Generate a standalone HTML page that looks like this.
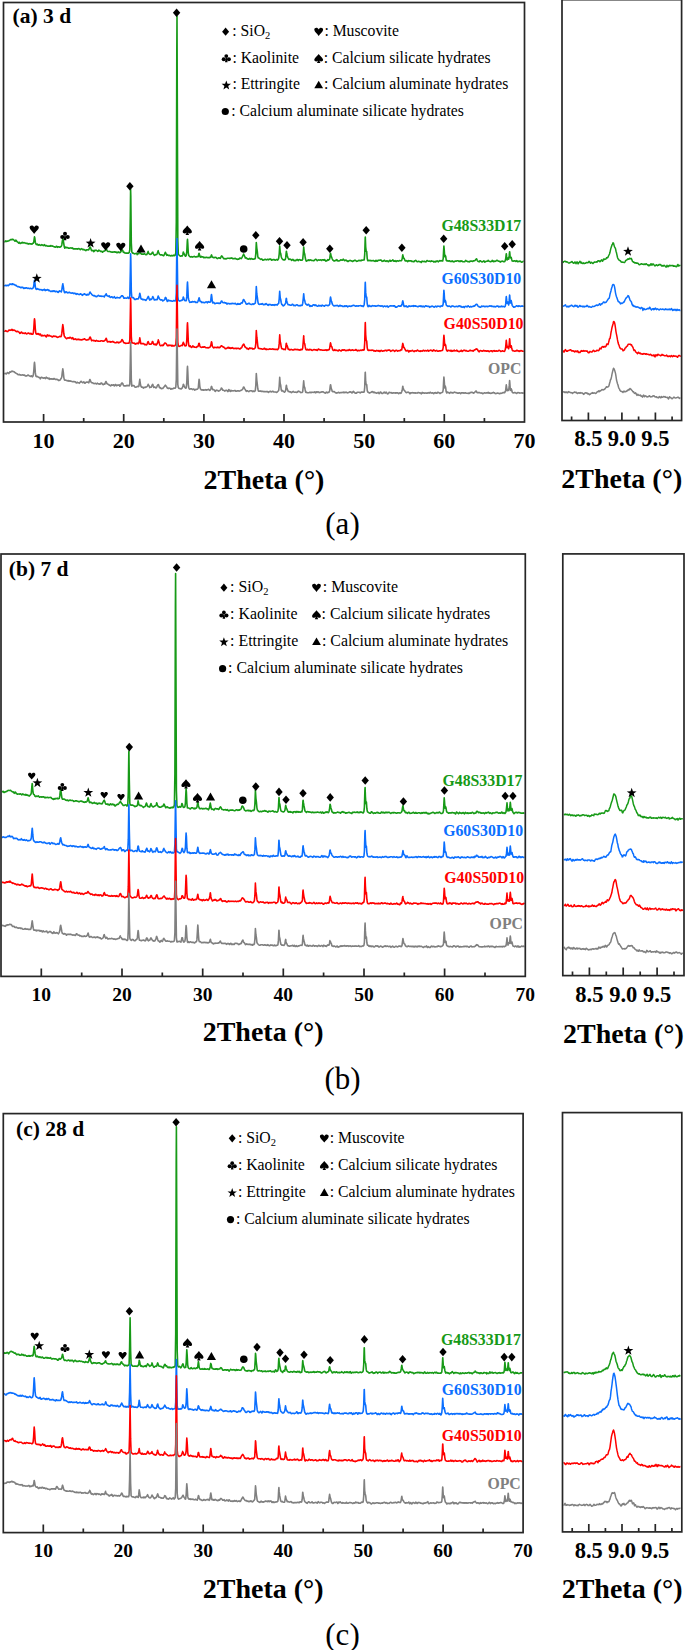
<!DOCTYPE html>
<html><head><meta charset="utf-8"><title>XRD patterns</title><style>html,body{margin:0;padding:0;background:#fff;}svg{display:block;}</style></head><body>
<svg width="685" height="1650" viewBox="0 0 685 1650" font-family='"Liberation Serif", "Times New Roman", serif'>
<rect width="685" height="1650" fill="#fff"/>
<path d="M4.3 241.5l.5 .2 .5-.4 .5-.4 .5 .5 .5 0 .5-.4 .5 .1 .5-.1 .5-.2 .5-.3 .5-.2 .5-.5 .5-.2 .5-.1 .5 .2 .5-.1 0-.2 .5-.1 .5 .3 .5 .4 .5 .4 .5 .8 .5 0 .5-1 .5 .3 .5 .9 .5 .4 .5 .4 .5 .4 .5 .5 .5-.8 .5 .3 .5 .9 .5-.2 .5-.2 .5-.5 .5-.3 .5 .6 .5 .1 .5-.4 .5 .2 .5 .2 .5 0 .5 .2 .5 .3 .5-.1 .5 0 .5 .4 .5 .3 .5-.3 .5-.2 .5 .3 .5 0 .5 .1 .5-.2 .5 .4 .5-.3 .5-.5 .5-.1 .5-1.5 .5-3.7 .2-1.2 .3 1.1 .5 4.2 .5 1.6 .5 .6 .5 .2 .5-.5 .5 .6 .5 .5 .5-.5 .5-.1 .5 .5 .5 .2 .5 .1 .5-.5 .5-.3 .5 .4 .5 .2 .5 .4 .5-.2 .5-.7 .5 .3 .5 .8 .5 .1 .5-.4 .5 .2 .5 .3 .5 .2 .5 .1 .5-.2 .5-.1 .5 .1 .5 .1 .5-.7 .5 .4 .5 .2 .5-.2 .5 .4 .5 0 .5 .4 .5 0 .5 .3 .5 .2 .5-.3 .5-.6 .5 .1 .5 .9 .5-.3 .5-.3 .5 .2 .5 .1 .5 .3 .5-.2 .5-.3 .5-.5 .5-1.4 .5-3.8 .5-2.3 0 .1 .5 1.4 .5 3.5 .5 3.1 .5 1.3 .5-.9 .5-.2 .5 .6 .5-.2 .5 .1 .5 .2 .5 .3 .5-.1 .5 .2 .5-.1 .5-.2 .5 .1 .5 0 .5 .2 .5-.3 .5 .3 .5 .8 .5-.2 .5-.1 .5 .2 .5-.2 .5 0 .5 .3 .5-.1 .5-.2 .5 .4 .5-.3 .5-.2 .5 .1 .5 .5 .5 .5 .5-.6 .5-.1 .5-.3 .5 .6 .5 .5 .5-.3 .5-.1 .5 .4 .5 .3 .5 .2 .5 .3 .5-.5 .5-.4 .5 .1 .5 .1 .5 0 .5-.2 .5-1 .5-1.6 .3 .2 .2-.1 .5 1.2 .5 1.6 .5 .8 .5-.1 .5-.3 .5 .1 .5 1.1 .5-.5 .5-.9 .5 .1 .5 .2 .5-.2 .5 .3 .5 .3 .5 .5 .5-.3 .5-.9 .5 .3 .5 .1 .5 .8 .5 0 .5-.1 .5-.1 .5 .9 .5 0 .5-.8 .5 0 .5-.2 .5-.2 .5-.8 .5-.7 .3-.9 .2 .2 .5 1.5 .5 .8 .5 .4 .5 .1 .5 0 .5-.1 .5 .2 .5 .2 .5 .1 .5 .1 .5 .1 .5 .2 .5-.2 .5 0 .5-.2 .5 0 .5 0 .5 .4 .5-.3 .5 .1 .5 .5 .5 .1 .5-.5 .5-.3 .5 .6 .5 .1 .5-.4 .5 .3 .5-.7 .5-1 .5-.7 .3-.2 .2-.1 .5 .8 .5 1.7 .5 .1 .5-.1 .5 .7 .5 0 .5 .1 .5-.1 .5 .1 .5 .1 .5-.2 .5 .2 .5-.3 .5-.5 .5-2.7 .5-33.4 .3-26.9 .2 6.3 .5 47 .5 9.2 .5 .7 .5 .5 .5 0 .5 .4 .5 .3 .5 .1 .5-.4 .5 0 .5 .1 .5-.2 .5 1.2 .5-.7 .5-.3 .5 .1 .5-2 .5-2.1 0 .6 .5 2.1 .5 1.3 .5 .3 .5 .3 .5-.2 .5 .3 .5 0 .5-.4 .5-.2 .5 .3 .5 .2 .5 .5 .5-.1 .5-.1 .5-.8 .5-1.4 .4-.9 .1 .6 .5 1.5 .5 .5 .5 .2 .5 .2 .5-.1 .5-.3 .5-.5 .5-1.2 .3 0 .2-.1 .5 1.3 .5 1.2 .5 .2 .5 .4 .5-.6 .5-.2 .5 .1 .5-.2 .5-1.2 .5-1.5 .4-1 .1 .8 .5 1.2 .5 1.2 .5 .6 .5 .4 .5 .1 .5-.3 .5 .1 .5 .3 .5 .1 .5 .5 .5-.1 .5-.9 .5-1.2 .5-1.2 .1 .3 .4 .4 .5 1.4 .5 .9 .5-.6 .5 .5 .5 .1 .5 .3 .5-.4 .5 .2 .5 .4 .5 .2 .5-.3 .5-.3 .5 .1 .5 .4 .5-.4 .5-.4 .5 .5 .5-.1 .5-.6 .5-2.1 .5-30.4 .5-171.4 .2-34.8 .3 85.3 .5 138 .5 14.5 .5 .7 .5 .6 .5 .5 .5 .5 .5-.1 .5-.5 .5 .3 .5 0 .5-1.3 .5-2.7 .1 0 .4 1.1 .5 1 .5 1 .5 1 .5 .1 .5-1 .5-3.9 .5-10.3 .2-1.6 .3 4.2 .5 9.6 .5 2.3 .5 .6 .5 .4 .5 .5 .5-.1 .5-.3 .5 .4 .5 .1 .5-.3 .5-.1 .5-.1 .5-.3 .5 .5 .5 .1 .5-.1 .5 .2 .5-.5 .5 0 .5 .3 .5-.2 .5-2.9 .3-.4 .2 .7 .5 2.2 .5 1 .5-.6 .5-.3 .5 .8 .5-.2 .5 0 .5 .1 .5 .7 .5 0 .5-.4 .5 .3 .5-.1 .5-.1 .5 0 .5 .1 .5 .2 .5-.1 .5-.1 .5 .3 .5-.4 .5 .1 .5-.4 .5-1.5 .2-.7 .3 .8 .5 1.4 .5 .3 .5 0 .5 .4 .5-.1 .5-.5 .5 0 .5 .2 .5 .2 .5 .7 .5 .3 .5-.2 .5-.3 .5-.3 .5 .1 .5 .4 .5 .1 .5-1 .5-1.2 .2-.2 .3-.1 .5 .6 .5 .9 .5 .7 .5 .6 .5-.2 .5 .3 .5 .2 .5-.4 .5 .3 .5-.3 .5-.4 .5 .1 .5 0 .5-.1 .5 0 .5 .2 .5 0 .5-.3 .5 0 .5-.2 .5 .5 .5 .3 .5-.1 .5 .1 .5 0 .5-.4 .5 .1 .5 .4 .5 .2 .5 .1 .5 .4 .5-.5 .5 .1 .5 0 .5-.5 .5-.5 .5-.1 .5 .5 .5 .1 .5-.7 .5-1 .5-1.1 .5-.9 .3-.8 .2 .6 .5 .8 .5 1 .5 1.6 .5-.3 .5 0 .5 .5 .5 .6 .5-.2 .5 .4 .5 .1 .5-.3 .5-.5 .5 .4 .5 .5 .5-.7 .5-.1 .5 .4 .5 .4 .5-.1 .5-.1 .5-.4 .5 .3 .5-.7 .5-4.7 .5-10.9 0-.1 .5 5.4 .5 3.4 .5 5.1 .5 1.4 .5-.1 .5 .5 .5 .4 .5 .3 .5 .4 .5-.1 .5-.4 .5 .7 .5 .6 .5-.1 .5-.2 .4-.3 .5 0 .5-.3 .5 .3 .5 0 .5 .3 .5-.3 .5-.4 .5 .3 .5 .3 .5-.6 .5-.1 .5-.1 .5 0 .5 .9 .5 .3 .5-.2 .5-.2 .5-.2 .5 0 .5-.1 .5 .5 .5 .2 .5-.2 .5-.5 .5 0 .5 .2 .5 .4 .5-.7 .5-1.3 .5-4.1 .5-7.7 0-.2 .5 6.3 .5 1.1 .5 3 .5 1.6 .5 .7 .5 .6 .5 .4 .5 .1 .5-.2 .5 .2 .5-.5 .5-1.7 .5-5.2 .2-1.3 .3 2.1 .5 2.1 .5 1.9 .5 .9 .5 1 .5 .3 .5-.4 .5 0 .5 .4 .5 .3 .5 .6 .5-.3 .5-.7 .5 .2 .5 .8 .5 .4 .5-.4 .5 0 .5 .3 .5-.5 .5-.4 .5-.4 .5 .6 .5 .6 .5-.8 .5-.1 .5-.1 .5 .4 .5 .3 .5-.2 .5 .1 .5-.1 .5-.8 .5-5 .5-6.9 0-.4 .5 5.5 .5 1.4 .5 3.6 .5 2.2 .5 1.4 .5-.1 .5-.8 .5 0 .5 .3 .5-.8 .5 .2 .5 .5 .5-.4 .5-.1 .5 .3 .5 .3 .5 0 .5 0 .5 .1 .5-.1 .5 .1 .5-.6 .5-.5 .5-.2 .5 .2 .5 .6 .5 .6 .5-.2 .5-.4 .5-.2 .5 .1 .5 .1 .5-.1 .5-.2 .5 .4 .5 .3 .5-.8 .5 .1 .5-.1 .5 .5 .5-.2 .5-.4 .5 .9 .5 .6 .5-.3 .5 .1 .5-.6 .5-.6 .5 .5 .5-.2 .5-.4 .5-.6 .5-3.8 .3-1.9 .2 .7 .5 2.4 .5 1 .5 1.4 .5 1.2 .5 .2 .5 .7 .5 0 .5 .1 .5-.6 .5 0 .5 .1 .5-.9 .5 .4 .5 .9 .5 .1 .5 0 .5-.3 .5 0 .5-.4 .5-.4 .5-.1 .5 .4 .5 .1 .5-.4 .5-.8 .5 .4 .5 .8 .5 .4 .5-.3 .5-.4 .5 0 .5 1 .5-.2 .5 .6 .5 .1 .5-.6 .5-.3 .5 0 .5-.2 .5 .3 .5 .1 .5 .3 .5 .3 .5 0 .5-.5 .5 .1 .5-.5 .5-.2 .5 0 .5 .2 .5 .6 .5 .3 .5-.1 .5-.3 .5-.2 .5-.3 .5-.2 .5 .5 .5 0 .5-.4 .5 .2 .5-.5 .5 .2 .5 0 .5-.2 .5-.2 .5 0 .5-5.2 .5-16.3 .1-1.3 .4 10 .5 4.2 .5 .2 .5 6.8 .5 2.3 .5 .1 .5-.3 .5 .1 .5 .1 .5-.3 .5 .4 .5 .2 .5-.3 .5 .1 .5 .1 .5-.3 .5 .1 .5 .5 .5 .2 .5 .1 .5-.9 .5-.2 .5 .9 .5 .1 .5-.7 .5-.3 .5 .2 .5-.2 .5 0 .5-.2 .5 .2 .5-.2 .5 .7 .5 .6 .5-.3 .5 0 .5-.4 .5-.3 .5 0 .5 .8 .5 .1 .5 .1 .5-.7 .5 .1 .5 .4 .5 .5 .5 0 .5-.9 .5-.5 .5 .1 .5 .9 .5-.2 .5-.3 .5-.2 .5-.7 .5 .3 .5 1 .5 .1 .5-.3 .5-.3 .5 .6 .5 .3 .5-.8 .5 0 .5 .1 .5 .2 .5-.1 .5-.2 .5-.2 .5 .2 .5-.1 .5 0 .5-.3 .5-1.8 .5-3.6 .1-.1 .4 1.9 .5 1.4 .5 .2 .5 1.5 .5 .9 .5 .2 .5-.1 .5-.3 .5 .6 .5 .4 .5-.4 .5-.6 .5 .3 .5-.1 .5 .1 .5 .1 .5-.2 .5 .6 .5-.1 .5 .2 .5 .1 .5 .2 .5-.3 .5-.8 .5 0 .5-.4 .5 .5 .5 .6 .5 .3 .5 0 .5-.5 .5 0 .5 .2 .5 .4 .5 0 .5-.1 .5 .8 .5-.9 .5-.5 .5 .3 .5 .2 .5-.2 .5-.2 .5 .4 .5 0 .5 .3 .5-.2 .5-.9 .5-.2 .5 .1 .5 .5 .5 .1 .5-.1 .5-.2 .5 .4 .5 .2 .5-.7 .5 .1 .5 .2 .5 0 .5 .1 .5 .7 .5 0 .5-.4 .5-.3 .5 .7 .5-.5 .5-.5 .5-.1 .5 .3 .5 .7 .5-.4 .5-.5 .5-.5 .5 .5 .5-.3 .5-.1 .5 .4 .5-.3 .5 .2 .5-2.3 .5-9.9 .2-2.7 .3 3.2 .5 7.5 .5-1.4 .5 1 .5 3.9 .5 .6 .5-.3 .5 .5 .5 .2 .5-.4 .5 .1 .5 0 .5 .6 .5-.1 .5-.2 .5 .2 .5-.5 .5 .3 .5 .7 .5-.3 .5 .2 .5-.4 .5-.4 .5 .1 .5 .1 .5-.2 .5-.2 .5-.1 .5 0 .5 .5 .5 .3 .5-.1 .5-.6 .5 .6 .5-.2 .5-.4 .5 .4 .5 .5 .5 0 .5 0 .5 .1 .5-.1 .5-.6 .5-.7 .5 .4 .5 .5 .5 0 .5 .3 .5 .1 .5-.1 .5 .3 .5-.6 .5 .2 .5-.4 .5-.1 .5 .3 .5-.1 .5 .2 .5-.5 .5 .1 .5-.2 .5-.1 .5-.5 .5-.7 .5-.2 .2-.5 .3 .2 .5 1.3 .5 .8 .5 .3 .5 .2 .5 .3 .5-.9 .5-.3 .5 .3 .5 .5 .5 .2 .5 .2 .5-.1 .5-.5 .5-.4 .5 .2 .5 1 .5-.1 .5-.4 .5-.3 .5-.1 .5 0 .5-.3 .5-.5 .5 .6 .5 .2 .5 .2 .5 .2 .5 .1 .5-.2 .5-.2 .5-.9 .5 .5 .5 .8 .5-.6 .5 .1 .5 .3 .5-.3 .5 .1 .5-.6 .5-.4 .5 .1 .5 .2 .5 .5 .5 .2 .5 0 .5 0 .5 .8 .5-.5 .5-.2 .5 .1 .5-.3 .5-.1 .5 .3 .5 .3 .5 0 .5-.2 .5-.8 .5-1.9 .5-4.4 .1-.7 .4 3.2 .5 3.1 .5-1.4 .5-.7 .5 1.2 .5-3.4 .4-3.8 .1 0 .5 5.7 .5 .4 .5-.6 .5 2.1 .5 1.4 .5 0 .5 .4 .5-.4 .5-.2 .5 0 .5 .2 .5 .5 .5 0 .5-.8 .5 .4 .5 .7 .5-.1 .5-.2 .5-.4 .5 .4 .5-.4 .5 .4 .5 .7 .5 .2 .5-.4 .5-.2 .5-.5 .5 0" fill="none" stroke="#179a17" stroke-width="1.6" stroke-linejoin="round"/>
<path d="M4.3 286.1l.5-.3 .5-.3 .5-.3 .5 .4 .5 .1 .5-.5 .5 .1 .5 .4 .5-.4 .5-.7 .5-.5 .5-.1 .5 .2 .5 .3 .5-.3 .5 .3 0-.7 .5 .1 .5 .6 .5-.1 .5 .1 .5 .5 .5 .4 .5-.3 .5 .6 .5 .4 .5 .3 .5 .3 .5-.1 .5 .1 .5 .4 .5 .2 .5 .1 .5 .3 .5-.4 .5 .3 .5-.3 .5 .1 .5 .5 .5 .6 .5-.3 .5-.3 .5 .3 .5-.3 .5-.2 .5 .4 .5 .2 .5 .1 .5-.3 .5 .3 .5 .2 .5-.1 .5-.2 .5 0 .5 .4 .5 0 .5-.1 .5-.3 .5-.5 .5-2.5 .5-4.4 .2-.7 .3 1.4 .5 5 .5 2.1 .5 .6 .5-.4 .5-.3 .5 .6 .5 0 .5-.1 .5 .5 .5 .1 .5 0 .5-.1 .5 .2 .5 .3 .5 .3 .5-.5 .5 0 .5 0 .5-.6 .5 .3 .5 1 .5-.7 .5 .3 .5-.2 .5-.2 .5-.2 .5 .5 .5 .5 .5-.3 .5 .5 .5 .4 .5 .3 .5-.4 .5 .4 .5-.1 .5-.5 .5-.2 .5 .7 .5-.5 .5 .2 .5 .6 .5 .1 .5-.5 .5 .1 .5 .2 .5 .7 .5 .2 .5-1.1 .5 .1 .5-.7 .5 .5 .5 .2 .5 .4 .5-1.8 .5-3.7 .5-2.5 0 .1 .5 2.4 .5 3.5 .5 2.1 .5 .8 .5-.2 .5-.8 .5-.1 .5 .5 .5 .7 .5-.3 .5-.1 .5 .1 .5-.3 .5 .1 .5 .6 .5 0 .5 0 .5 .2 .5-.2 .5-.1 .5 .3 .5 .4 .5-.2 .5-.3 .5 .3 .5 .6 .5 .3 .5-.7 .5 .1 .5 .2 .5 .3 .5 .2 .5 .2 .5-.3 .5-.4 .5 0 .5 .4 .5 .4 .5 .7 .5-.3 .5-.9 .5 .1 .5-.4 .5 0 .5 .8 .5 .1 .5-.2 .5 .5 .5-.6 .5-.2 .5 .6 .5-.3 .5-1 .5-1.2 .3-.3 .2 .2 .5 1 .5 .5 .5 .6 .5 .8 .5 0 .5 .4 .5 .3 .5-.4 .5 .3 .5 .6 .5-.1 .5 .3 .5 0 .5-.4 .5-.4 .5-.4 .5 .1 .5 .5 .5 .2 .5-.1 .5 .2 .5-.2 .5 .4 .5-.2 .5-.1 .5 0 .5 .3 .5 .4 .5-1.1 .5-.5 .5-.8 .3-.6 .2 0 .5 1.6 .5 .3 .5 .2 .5 .5 .5-.5 .5-.1 .5 1.1 .5 .4 .5-.1 .5-.4 .5 0 .5 .1 .5 .7 .5 .1 .5-.5 .5-.6 .5 .8 .5 .6 .5 0 .5-.3 .5-.3 .5-.1 .5 .3 .5 .1 .5-.1 .5 0 .5 .3 .5-.8 .5-.4 .5-.7 .5-.4 .3 0 .2 0 .5 .4 .5 .7 .5 1.4 .5 .1 .5-.3 .5 0 .5 0 .5 .3 .5 0 .5-.5 .5-.6 .5 .7 .5 .5 .5-.2 .5-2.3 .5-23.4 .3-18.6 .2 4.3 .5 33 .5 6 .5 .3 .5 .2 .5-.2 .5 .7 .5 1 .5 .2 .5-.2 .5 .3 .5-.4 .5-.3 .5 .1 .5 0 .5 0 .5-1 .5-2 .5-2.7 0 0 .5 2.3 .5 2.6 .5 1 .5 .2 .5-.2 .5 .7 .5-.2 .5-.2 .5 .4 .5-.1 .5 .4 .5 .4 .5-.6 .5-.8 .5-.7 .5-.9 .4-.8 .1-.3 .5 1.2 .5 1.8 .5 .7 .5-1.1 .5 .5 .5 0 .5-.6 .5-1.2 .3-.8 .2-.4 .5 1 .5 1.2 .5 1.3 .5-.1 .5-.2 .5-.1 .5-.1 .5 .3 .5-.3 .5-2 .4-1.5 .1 .5 .5 .9 .5 1 .5 .8 .5 .5 .5 .3 .5-.2 .5-.1 .5 .6 .5 .7 .5-.6 .5-.2 .5-.3 .5-.6 .5-1.8 .1 .2 .4-.1 .5 1.1 .5 1.6 .5 1.2 .5-1 .5-.4 .5 .8 .5-.3 .5 0 .5 .2 .5 .1 .5 0 .5 .2 .5 .1 .5 .1 .5-.5 .5-.3 .5 0 .5 .5 .5-.1 .5-.3 .5-7.8 .5-44.7 .2-9.5 .3 22.2 .5 35.5 .5 3.7 .5 .6 .5 .1 .5 .4 .5-.3 .5 0 .5-.6 .5 .2 .5-.1 .5-1.4 .5-1.9 .1 .4 .4 1 .5 1.6 .5 .6 .5 0 .5 0 .5 0 .5-4.2 .5-12 .2-2.3 .3 5.3 .5 10.4 .5 2.1 .5 1.4 .5 1.1 .5-.1 .5-.2 .5 0 .5 .1 .5-.6 .5-.1 .5 .4 .5-.1 .5 0 .5-.3 .5 .7 .5 .3 .5-.3 .5 .1 .5 .2 .5-.9 .5-1 .5-2 .3-.8 .2 .4 .5 2.5 .5 .9 .5-.2 .5 .3 .5 .9 .5-.2 .5-.1 .5 .1 .5 .1 .5 .3 .5-.1 .5-.5 .5-.2 .5-.1 .5 .2 .5 .7 .5-.6 .5-.6 .5 .3 .5 .3 .5 .1 .5-.4 .5-1.7 .5-4.8 .2-.9 .3 2 .5 5.2 .5 1.2 .5-.6 .5 .1 .5 .7 .5 .6 .5-.2 .5-.1 .5-.3 .5 .1 .5 0 .5-.2 .5 .3 .5 .1 .5-.2 .5 .2 .5-.1 .5-1.1 .5-.9 .2-.3 .3 0 .5 .9 .5 .6 .5 .2 .5-.1 .5-.2 .5 .4 .5 .3 .5-.3 .5 .3 .5 .9 .5-.1 .5-.6 .5 .2 .5 0 .5 .4 .5-.4 .5 .1 .5 .3 .5-.4 .5 .3 .5-.4 .5 .1 .5 0 .5 .1 .5 .1 .5-.2 .5-.1 .5 .5 .5 .3 .5 .2 .5-.2 .5-.7 .5 .7 .5 .1 .5-.5 .5 .4 .5 0 .5-.8 .5-.7 .5 .1 .5 .2 .5-1.8 .5-1.5 .3-.1 .2 0 .5 .9 .5 1 .5 .4 .5 1.4 .5 .9 .5-.3 .5 0 .5 .2 .5-.6 .5-.2 .5 .1 .5 .5 .5 .3 .5 0 .5 .2 .5 .1 .5-.2 .5-.5 .5 .2 .5 .3 .5-.6 .5-.2 .5-.4 .5-4.3 .5-12.1 0-.2 .5 7.5 .5 3.1 .5 4 .5 2.5 .5 .6 .5 0 .5 .2 .5-.3 .5 0 .5 .2 .5-.3 .5-.5 .5 .7 .5 .4 .5 0 .4-.3 .5 .3 .5-.1 .5-.8 .5-.1 .5 .8 .5 0 .5 .7 .5 .3 .5-.8 .5-.3 .5 .4 .5 .1 .5-.3 .5 .6 .5 .2 .5-.3 .5-.3 .5 .4 .5-.1 .5-.3 .5 .6 .5-.4 .5-.1 .5-.2 .5 .3 .5 .2 .5-.8 .5-.6 .5-.3 .5-4.6 .5-7.6 0 .3 .5 6.3 .5 1.7 .5 3 .5 1.8 .5 .4 .5 .8 .5 .4 .5-.5 .5 0 .5-.8 .5-.7 .5-1.2 .5-4.2 .2-.1 .3 2.5 .5 1.7 .5 1.3 .5 .9 .5-.1 .5 0 .5 .3 .5 .1 .5 .1 .5 0 .5-.3 .5-.6 .5 .1 .5 .5 .5 .7 .5-.3 .5 .2 .5 .3 .5-.4 .5-.4 .5-.1 .5-.1 .5 .5 .5 .4 .5-.1 .5 0 .5 .2 .5 .1 .5-.7 .5 0 .5 .3 .5-.3 .5-1.8 .5-4.2 .5-5.3 0 0 .5 5.4 .5 1.1 .5 2.3 .5 1.2 .5 .4 .5 .4 .5 .5 .5-.5 .5-.4 .5 .2 .5 .7 .5 1 .5 .2 .5-.8 .5 .3 .5 .3 .5-.1 .5-.7 .5-.5 .5 0 .5-.1 .5 .6 .5 .2 .5-.7 .5 .4 .5 .5 .5 .4 .5 .1 .5-.4 .5-.6 .5 .2 .5 .4 .5-.4 .5 .2 .5 .4 .5-.5 .5-.5 .5 .3 .5 .3 .5 0 .5 .4 .5 0 .5-.7 .5-.1 .5 0 .5-.1 .5 .3 .5 .1 .5 .1 .5-.5 .5-.2 .5-.7 .5-5.1 .3-2.1 .2 .6 .5 3.1 .5 .9 .5 2 .5 1.1 .5 .5 .5 .4 .5 .3 .5-.2 .5-.3 .5 .2 .5 0 .5-.2 .5-.3 .5 .5 .5 .3 .5 .4 .5-.3 .5-.8 .5 0 .5 .6 .5-.2 .5 .2 .5 .1 .5 .5 .5-.2 .5 .2 .5-.1 .5-.6 .5 0 .5 .5 .5-.4 .5-.2 .5 .8 .5 .4 .5-.6 .5 0 .5-.2 .5 .2 .5-.2 .5 .3 .5-.2 .5-.3 .5 0 .5-.3 .5-.3 .5 .1 .5 .2 .5 0 .5 .4 .5 .2 .5-.1 .5-.3 .5 .1 .5 .2 .5 .2 .5-.5 .5-.1 .5 .1 .5 0 .5-.2 .5 .1 .5 .4 .5-.3 .5 .5 .5 .3 .5-.7 .5-1.5 .5-4.8 .5-16.2 .1-1.1 .4 10.1 .5 4.5 .5 .1 .5 6.7 .5 2.4 .5 .6 .5-.9 .5-.4 .5 .8 .5 .2 .5-.3 .5 .4 .5-.2 .5-.7 .5 .1 .5 .1 .5 .2 .5 0 .5-.2 .5 .2 .5 .3 .5-.2 .5-.1 .5-.1 .5-.1 .5-.4 .5 .4 .5 0 .5 .1 .5-.2 .5 .6 .5-.1 .5-.5 .5 .3 .5 .1 .5 .7 .5-.4 .5-.4 .5 .1 .5 .2 .5 .3 .5-.1 .5-.2 .5-.4 .5 .7 .5 .5 .5-.4 .5-.4 .5-.2 .5-.2 .5 .1 .5-.2 .5 .2 .5 0 .5-.1 .5 .2 .5-.4 .5 .2 .5 0 .5 1 .5 .3 .5-.2 .5 .1 .5-.4 .5-.3 .5-.4 .5-.2 .5 .3 .5-.1 .5 0 .5 .3 .5-.4 .5-.9 .5-1.5 .5-2.5 .1-.1 .4 1.5 .5 3.3 .5 .9 .5-.6 .5 .3 .5 .1 .5-.5 .5 .4 .5 .6 .5 0 .5-.1 .5-.8 .5-.1 .5 .4 .5 .1 .5-.1 .5-.2 .5-.1 .5 .1 .5-.1 .5-.5 .5 1 .5-.4 .5-.3 .5 .4 .5-.3 .5 .3 .5 .1 .5 .3 .5 .2 .5 0 .5-.5 .5-.2 .5 0 .5-.2 .5 .5 .5-.1 .5-.3 .5 .8 .5 0 .5-.7 .5 .4 .5 .4 .5-.2 .5-.8 .5-.2 .5 .4 .5 0 .5 .2 .5 .1 .5 0 .5-.2 .5 .4 .5 .8 .5-.7 .5-.1 .5 0 .5-.3 .5-.2 .5 .3 .5 .1 .5 .4 .5 .3 .5-.5 .5-.2 .5-.4 .5 .3 .5 .5 .5-.5 .5-.3 .5 .2 .5-.1 .5 0 .5 .2 .5 .4 .5-.7 .5-.2 .5 .1 .5 .3 .5-.5 .5-2.1 .5-9.9 .2-3.4 .3 3.4 .5 8.2 .5-1.7 .5 1.2 .5 3.3 .5 .8 .5 .1 .5 .7 .5 0 .5-.3 .5 0 .5 .2 .5 .2 .5 .5 .5-.2 .5-.7 .5-.2 .5 .2 .5-.1 .5 .4 .5 .2 .5 .1 .5-.1 .5-.1 .5 0 .5-.3 .5 .2 .5 .3 .5-.2 .5-.6 .5-.2 .5 .2 .5 .8 .5-.6 .5 .3 .5 .8 .5 0 .5-.2 .5-.5 .5 .5 .5 .6 .5-.8 .5-.3 .5-.1 .5 0 .5 .3 .5 .2 .5-.8 .5-.3 .5 .5 .5 .4 .5 .4 .5-.3 .5-.4 .5 .3 .5 .2 .5-.3 .5-.2 .5 .1 .5-.4 .5-.4 .5 .4 .5-.8 .5-.6 .5-.4 .2 0 .3 0 .5 .3 .5 1.1 .5 .5 .5 .2 .5 .5 .5 .2 .5 .2 .5 0 .5-.7 .5-.6 .5 .3 .5 .2 .5-.1 .5-.3 .5 .1 .5 .6 .5 0 .5-.5 .5 .2 .5-.1 .5 0 .5 .3 .5-.2 .5-.2 .5-.1 .5-.5 .5 .3 .5 .1 .5-.2 .5 .5 .5 .1 .5-.2 .5 .1 .5 .4 .5 0 .5-.4 .5 .2 .5 .3 .5-.4 .5-.4 .5 0 .5 0 .5 .2 .5 .7 .5-.5 .5 .1 .5 0 .5 .1 .5-.5 .5-.1 .5 .7 .5-.2 .5-.2 .5 .2 .5 .3 .5-.2 .5-.3 .5-2.5 .5-6.7 .1-.6 .4 3.6 .5 3.2 .5-1.3 .5 .4 .5 2.5 .5-4.6 .4-5.3 .1 .2 .5 7.6 .5 0 .5-2.3 .5 2.5 .5 2.2 .5 .9 .5 .4 .5 .6 .5-.1 .5-.1 .5-.3 .5-.3 .5-.4 .5-.3 .5 .2 .5 .4 .5 .2 .5-.7 .5 0 .5 .5 .5-.1 .5 .2 .5-.1 .5-.3 .5-.1 .5 .3 .5 0 .5 0" fill="none" stroke="#0b6fff" stroke-width="1.6" stroke-linejoin="round"/>
<path d="M4.3 331.1l.5 .2 .5-.2 .5-.5 .5 .4 .5 .4 .5 .2 .5-.2 .5-.6 .5-.7 .5 0 .5 .3 .5-.4 .5 .2 .5-.1 .5-.7 .5 .2 0 .2 .5 .7 .5-.2 .5-.3 .5 .3 .5 .1 .5 .4 .5 .5 .5 .3 .5 .2 .5-.4 .5-.1 .5 .5 .5 .2 .5 .4 .5 1 .5-.1 .5-.6 .5-.6 .5 .2 .5 .8 .5 .3 .5-.3 .5 .1 .5 .2 .5 0 .5-.6 .5 .4 .5 .5 .5 .2 .5-.3 .5-.4 .5-.1 .5 0 .5 .5 .5 .3 .5 0 .5-.5 .5 .1 .5 .8 .5-.1 .5 .1 .5-1.3 .5-4.7 .5-7.9 .2-1.5 .3 1.8 .5 8.1 .5 4.4 .5 .9 .5-.1 .5-.4 .5 .5 .5-.5 .5 .6 .5 .6 .5-.7 .5-.1 .5 .8 .5 1 .5 .1 .5-.6 .5 .3 .5 .1 .5-.1 .5-.1 .5-.1 .5 .5 .5 .5 .5 .5 .5-.8 .5-1.2 .5 .2 .5 .8 .5-.1 .5-.5 .5 .4 .5 .3 .5 .1 .5 .2 .5 .5 .5 .2 .5-.3 .5-.7 .5 0 .5 .2 .5 .2 .5 0 .5 0 .5 .1 .5 .6 .5 .3 .5-.1 .5-.3 .5 0 .5-.5 .5-.1 .5 .2 .5 .2 .5-.8 .5-2.6 .5-4.9 .5-3.8 0-.2 .5 3.4 .5 5.6 .5 2.6 .5 .8 .5 .5 .5 .6 .5 .6 .5 0 .5-.4 .5-.4 .5 0 .5 .3 .5 .1 .5-.9 .5 .4 .5-.1 .5 .7 .5 .5 .5-.8 .5-.3 .5 1.2 .5 .5 .5-.2 .5-.1 .5-.3 .5 .5 .5 .4 .5-.3 .5-.1 .5 .3 .5-.1 .5-.4 .5 .6 .5 0 .5-.1 .5 .3 .5 0 .5-.2 .5-.2 .5 .1 .5-.4 .5 0 .5-.4 .5 .1 .5 .8 .5 .1 .5 .1 .5 .2 .5-.1 .5-.4 .5 .2 .5-.3 .5-.9 .5-1.2 .3-.4 .2 .1 .5 1.5 .5 1.5 .5 .7 .5-.5 .5 0 .5-.1 .5 .7 .5-.3 .5 .2 .5 .4 .5-.2 .5-.6 .5 .4 .5 .1 .5 .2 .5 0 .5 .2 .5-.1 .5 0 .5 .1 .5-.6 .5 0 .5 .1 .5 .2 .5 .1 .5 0 .5 0 .5-.2 .5-.5 .5-.3 .5-1.1 .3-.7 .2 .1 .5 1.6 .5 1.7 .5 .2 .5-.1 .5-.2 .5-.1 .5 .2 .5 .5 .5-.6 .5 .3 .5 .1 .5-.2 .5-.4 .5 .3 .5 .6 .5-.1 .5 .4 .5 .1 .5 0 .5-.1 .5-.6 .5 .2 .5 .3 .5-.2 .5 .6 .5-.4 .5-.2 .5-.2 .5-.2 .5-1 .5-1.1 .3-.3 .2 .5 .5 .4 .5 1.5 .5 .8 .5 .2 .5-.2 .5 .6 .5 .2 .5-.2 .5-.1 .5 0 .5 0 .5-.2 .5 .2 .5-.3 .5-2.9 .5-24 .3-17.9 .2 4.9 .5 33.3 .5 6.6 .5 0 .5-.1 .5 .4 .5 0 .5-.1 .5 .5 .5 .5 .5-.3 .5-.4 .5 .2 .5-.4 .5-.1 .5 .5 .5-.5 .5-2.1 .5-2.8 0-.4 .5 3.2 .5 2.7 .5 .1 .5-.3 .5 .1 .5 0 .5-.1 .5 .2 .5 .7 .5 .3 .5-.3 .5 .2 .5 .3 .5-.1 .5-1.3 .5-1.5 .4-.4 .1 .1 .5 1.3 .5 1.3 .5 0 .5 0 .5-.2 .5-.1 .5-.9 .5-1.4 .3-.2 .2 .3 .5 1.6 .5 1 .5-.1 .5 .3 .5-.5 .5 .6 .5 .3 .5-.7 .5-.9 .5-1.6 .4-.9 .1-1 .5 1.7 .5 1.7 .5 1.5 .5 .8 .5 .1 .5-.2 .5-.3 .5-.1 .5 .5 .5-.2 .5-.9 .5-.8 .5-.6 .5-.1 .1 .2 .4 .2 .5 .4 .5 .9 .5 1 .5 0 .5-.1 .5-.5 .5 .2 .5 .2 .5-.1 .5-.1 .5-.1 .5 .9 .5-.3 .5-.5 .5 .6 .5 .1 .5-.1 .5-.3 .5-.5 .5-.3 .5-7.3 .5-43.2 .2-9 .3 21.8 .5 35.1 .5 3.6 .5 .4 .5 .2 .5-.3 .5-.2 .5-.2 .5-.4 .5 0 .5 .3 .5-1.5 .5-1.8 .1 .5 .4 .5 .5 1.4 .5 1.1 .5 0 .5 .1 .5-.4 .5-5.8 .5-14.7 .2-2.2 .3 6.1 .5 12.7 .5 3.8 .5 1.1 .5-.3 .5-.4 .5 .8 .5 .8 .5-.2 .5-.4 .5-.9 .5 .5 .5 .6 .5-.1 .5 .4 .5-.1 .5 0 .5 .2 .5-.6 .5-.2 .5 .1 .5-.8 .5-2.5 .3-.1 .2 .3 .5 2.1 .5 1.2 .5 .1 .5 .4 .5-.1 .5 0 .5-.4 .5 .1 .5 .2 .5-.4 .5 .1 .5 .4 .5 .4 .5 .1 .5-.1 .5-.1 .5 .3 .5 .1 .5-.4 .5-.1 .5-.2 .5-.9 .5-1 .5-2.8 .2-.8 .3 .8 .5 3.5 .5 .9 .5 .4 .5 .5 .5-.7 .5 .1 .5 .2 .5 0 .5 0 .5 .2 .5-.5 .5-.1 .5 .5 .5-.2 .5 .3 .5-.2 .5-.6 .5-.5 .5-.5 .2 0 .3-.1 .5 .5 .5 .4 .5 .5 .5-.1 .5 .5 .5 .4 .5 .8 .5-.1 .5-.5 .5 .2 .5-.3 .5-.7 .5-.2 .5 1 .5-.1 .5-.6 .5 .7 .5 .3 .5-.4 .5 .1 .5-.6 .5 .3 .5 .4 .5 .3 .5-.1 .5-.1 .5 0 .5-.1 .5 .4 .5-.3 .5 .1 .5-.1 .5-.1 .5 .2 .5 .2 .5 .3 .5-.3 .5-.6 .5-.1 .5-.6 .5-1.2 .5-1.1 .5-.5 .3-.4 .2-.1 .5 1.1 .5 1.3 .5 .8 .5 .1 .5 .7 .5 .6 .5-.4 .5 .3 .5 .8 .5-.5 .5-.6 .5-.4 .5 .5 .5-.2 .5 .2 .5-.2 .5 0 .5 .9 .5-.2 .5 .1 .5-.2 .5-.6 .5-.5 .5-4.4 .5-12.2 0-.5 .5 6.6 .5 4 .5 4.9 .5 2.1 .5 .2 .5 .2 .5-.2 .5 .3 .5 0 .5 .2 .5 0 .5 .2 .5 .1 .5-.2 .5-.2 .4-.5 .5 .1 .5 1 .5-.1 .5-.4 .5 .7 .5-.4 .5 .1 .5 .1 .5-.1 .5 0 .5-.5 .5 .2 .5 .1 .5 .1 .5-.1 .5-.2 .5 .1 .5 .4 .5-.3 .5 .2 .5 .1 .5-.1 .5 .2 .5-.1 .5-.2 .5 .3 .5 .2 .5-.9 .5-.8 .5-4.6 .5-7.8 0-.7 .5 6.7 .5 1.9 .5 3.3 .5 1.8 .5 .1 .5 0 .5 .5 .5 .3 .5-.2 .5 .1 .5 .2 .5-1.2 .5-4.8 .2-.2 .3 1.7 .5 .7 .5 1.7 .5 1.8 .5 .2 .5-.2 .5 .7 .5-.1 .5-.4 .5-.1 .5 .2 .5 .1 .5 .3 .5 0 .5-.1 .5-.5 .5-.2 .5 .4 .5-.2 .5 .1 .5 .1 .5-.1 .5 .3 .5-.3 .5 .5 .5-.2 .5 .3 .5 .1 .5-.8 .5 0 .5 .4 .5-.3 .5-1.2 .5-6 .5-6.4 0 1 .5 6.1 .5 .7 .5 3 .5 2.4 .5 .7 .5 .1 .5-.5 .5-.2 .5 .8 .5 0 .5 0 .5-.7 .5 .4 .5-.1 .5 0 .5 .7 .5 .1 .5-.4 .5 0 .5-.4 .5 0 .5 .2 .5 .1 .5 .1 .5-.3 .5 .6 .5 .1 .5-.5 .5-.6 .5-.3 .5 .6 .5 .2 .5 .1 .5-.2 .5 .2 .5 .1 .5 .1 .5 .1 .5 .1 .5 0 .5-.3 .5 .2 .5 0 .5-.4 .5 0 .5 .7 .5-.3 .5-.3 .5 .1 .5-.1 .5-.5 .5-1.4 .5-3.5 .3-1.6 .2 .6 .5 2.8 .5 .2 .5 1.6 .5 1.6 .5 .7 .5 .1 .5-.3 .5-.7 .5 .6 .5 .4 .5-.1 .5-.3 .5 .3 .5 .4 .5 .1 .5-.6 .5-.5 .5 .4 .5 .3 .5 .2 .5 .3 .5-.7 .5-.5 .5 .2 .5 .3 .5-.4 .5-.2 .5 .3 .5 .6 .5-.1 .5-.2 .5 .3 .5-.1 .5-.4 .5 .4 .5-.2 .5-.8 .5 .2 .5 .6 .5 .2 .5-.3 .5-.2 .5 .1 .5-.3 .5 .5 .5 .1 .5-.1 .5-.1 .5 .1 .5-.8 .5 .3 .5 .6 .5 0 .5 .5 .5-.3 .5-.3 .5 .4 .5-.2 .5 0 .5-.4 .5 0 .5 .4 .5-.2 .5-.5 .5-.1 .5 .4 .5-.5 .5-6.6 .5-18.6 .1-1.8 .4 12.2 .5 5.7 .5 .6 .5 6.5 .5 2.3 .5 .4 .5 .2 .5-.4 .5 .3 .5-.1 .5-.1 .5 .2 .5-.1 .5-.2 .5 .1 .5 .1 .5 .7 .5-.1 .5-.3 .5 .6 .5 0 .5-.4 .5-.4 .5 .2 .5 .3 .5 .2 .5-.5 .5 0 .5 .9 .5-.1 .5-.7 .5-.4 .5 .5 .5 .3 .5 0 .5-.1 .5-.2 .5 .1 .5-.4 .5-.2 .5 0 .5 .2 .5 .5 .5-.7 .5 .1 .5-.3 .5 0 .5 .2 .5-.2 .5 .6 .5 .7 .5-.5 .5-.2 .5-.3 .5 .1 .5-.3 .5 .3 .5 .4 .5 .5 .5-.6 .5-.4 .5-.2 .5 0 .5 .7 .5 .3 .5-.5 .5 .1 .5-.2 .5 .1 .5-.1 .5-.7 .5 .1 .5-.1 .5-2.9 .5-3.4 .1-.2 .4 1.5 .5 2.4 .5 .4 .5 1.1 .5 .6 .5 1.3 .5 0 .5 .2 .5-.3 .5-.2 .5 .5 .5 1.1 .5-.4 .5-.9 .5 .1 .5 .4 .5-.2 .5-.2 .5-.3 .5-.1 .5 .6 .5 .4 .5 .2 .5-.8 .5 .1 .5 0 .5 .2 .5-.4 .5-.4 .5-.2 .5 .7 .5 .2 .5 .1 .5-.1 .5 .5 .5-.7 .5 .1 .5 .2 .5 .1 .5-.5 .5-.4 .5 .1 .5 .5 .5 0 .5-.1 .5-.3 .5 .2 .5 .2 .5-.1 .5-.6 .5 .3 .5 .7 .5-.4 .5-.2 .5-.2 .5-.4 .5 .2 .5 .5 .5 .1 .5 .4 .5-1 .5-.4 .5 .4 .5 .2 .5 .7 .5-.3 .5-.1 .5-.3 .5 .5 .5 .3 .5 .1 .5-.3 .5-.1 .5 0 .5 .1 .5-.3 .5 0 .5-.2 .5 0 .5-.6 .5-2.6 .5-9.5 .2-2.6 .3 2.8 .5 7.4 .5-1.2 .5 1.2 .5 3.5 .5 1.5 .5 .8 .5-.6 .5-.3 .5 .2 .5 .3 .5 0 .5-.5 .5 .7 .5 .3 .5-.9 .5 .5 .5 .3 .5-.3 .5-.4 .5-.4 .5 .8 .5-.1 .5 0 .5 .1 .5-.8 .5 .5 .5 .5 .5 .1 .5 .2 .5 .3 .5-.4 .5 0 .5-.3 .5-.7 .5 .3 .5 .9 .5-.5 .5-.4 .5-.3 .5 .1 .5-.2 .5 .3 .5 .4 .5-.4 .5 .2 .5 .6 .5-.1 .5 0 .5 0 .5-.5 .5-.3 .5-.3 .5 .7 .5 0 .5-.1 .5-.2 .5 .5 .5 .1 .5-.4 .5-.7 .5-.1 .5-.1 .5-.7 .5 0 .2 .1 .3-.4 .5 .5 .5 .7 .5 .9 .5 .5 .5 .4 .5-.8 .5-.5 .5 .3 .5 0 .5 .2 .5 .3 .5-.3 .5-.2 .5-.5 .5 .7 .5 0 .5-.3 .5 .1 .5 .5 .5-.3 .5 .2 .5-.4 .5 .1 .5 .4 .5 .4 .5-.5 .5-.2 .5-.1 .5-.2 .5 .1 .5 .8 .5-.1 .5-.7 .5-.1 .5-.1 .5 .6 .5 .1 .5-.4 .5-.2 .5 .4 .5 .1 .5-.2 .5 0 .5-.6 .5 0 .5 .1 .5 .5 .5 .5 .5-.3 .5 .1 .5-.4 .5-.1 .5 .4 .5 .1 .5 .1 .5-.4 .5-1.2 .5-3 .5-5.8 .1-.6 .4 3.8 .5 3.6 .5-1.3 .5 .4 .5 1.8 .5-4.4 .4-5.6 .1 .5 .5 7.1 .5 1 .5-1.6 .5 2.3 .5 1.8 .5 1 .5-.2 .5 .4 .5 0 .5 .2 .5-.1 .5-.2 .5 0 .5-.6 .5-.1 .5 .6 .5 .5 .5-.6 .5 .1 .5 .6 .5-.3 .5-.3 .5-.3 .5 .4 .5 .2 .5 0 .5 .1 .5-.1" fill="none" stroke="#ff0000" stroke-width="1.6" stroke-linejoin="round"/>
<path d="M4.3 373.7l.5-.1 .5-.3 .5 .4 .5 .2 .5-.6 .5-.7 .5 .2 .5 .2 .5 .6 .5-.8 .5-.9 .5 .1 .5 .1 .5-.8 .5-.1 .5 .3 0-.1 .5 0 .5 .2 .5-.1 .5 .4 .5 .5 .5 .4 .5 .3 .5 .4 .5 .1 .5 .3 .5 .5 .5 .4 .5 0 .5-.5 .5 .4 .5 .4 .5-.2 .5 .2 .5-.1 .5 0 .5-.3 .5 .5 .5-.1 .5-.1 .5 .3 .5 .6 .5 .1 .5-.1 .5 .1 .5-.5 .5-.4 .5-.1 .5 .6 .5 .3 .5 .1 .5 .2 .5 .2 .5-.6 .5 .2 .5 .8 .5-.4 .5-1.4 .5-4.2 .5-7.2 .2-1.2 .3 2.5 .5 7.5 .5 3.4 .5 .9 .5-.4 .5 .2 .5 .2 .5 .6 .5 .1 .5 .1 .5 .3 .5 1 .5-.8 .5-.7 .5 .1 .5 .2 .5 .4 .5 .2 .5-.2 .5-.2 .5 .1 .5 .7 .5-.3 .5-1.1 .5 .6 .5 .1 .5 .4 .5 .5 .5-.7 .5 .2 .5 1 .5-.6 .5 0 .5 .4 .5-.3 .5 .1 .5 .3 .5 .1 .5-.8 .5 .1 .5 .5 .5 .4 .5-.3 .5 .2 .5-.2 .5 .2 .5 .5 .5 0 .5 .7 .5-.4 .5-.1 .5-.3 .5-1 .5-.5 .5-1.5 .5-4.6 .5-3.4 0 0 .5 3.2 .5 5.3 .5 2.3 .5 .5 .5 .1 .5-.1 .5 .4 .5 0 .5 .4 .5-.4 .5 .1 .5 .6 .5-.1 .5-.4 .5 .4 .5 0 .5 .1 .5 .2 .5 .2 .5 .1 .5-.1 .5-.1 .5 .1 .5 .3 .5-.2 .5 .7 .5 .5 .5-.2 .5-.5 .5 .5 .5 0 .5 .1 .5 .5 .5-.7 .5-.5 .5-.6 .5-.2 .5 .8 .5 .4 .5 .2 .5-.4 .5-.5 .5 .7 .5 .7 .5 0 .5-.8 .5-.3 .5 .2 .5-.1 .5-.2 .5 .5 .5 .3 .5-1.6 .5-1.7 .3 .2 .2 .5 .5 1.5 .5 .7 .5 .4 .5-.1 .5 .1 .5 .6 .5 .1 .5 0 .5 .1 .5-.3 .5 .2 .5 .4 .5 0 .5-.8 .5 .4 .5 .4 .5-.2 .5 .3 .5 .3 .5-.3 .5-.7 .5-.2 .5-.1 .5 1.1 .5 .4 .5 .2 .5-.4 .5-.4 .5 .2 .5-1.3 .5-1.1 .3-.2 .2 .6 .5 1.3 .5 .5 .5 .2 .5 .3 .5 .2 .5 .5 .5 .1 .5 .5 .5 .2 .5-1 .5-.2 .5 .5 .5 0 .5-.4 .5 0 .5 1.1 .5-.5 .5-.8 .5-.1 .5 1.1 .5 .1 .5-.4 .5-.3 .5 .2 .5-.2 .5-.1 .5 1.3 .5-.4 .5-1 .5-1.1 .5-.6 .3 .5 .2-.5 .5 .4 .5 1.6 .5 .7 .5 .2 .5-.1 .5 0 .5 .1 .5-.2 .5-.4 .5 .1 .5 .3 .5-.3 .5 .2 .5 .1 .5-1.8 .5-23.2 .3-18.5 .2 4.4 .5 32.6 .5 6.8 .5-.4 .5-.1 .5 .1 .5-.2 .5 .6 .5 .8 .5 .4 .5 0 .5-.4 .5-.2 .5-.3 .5 .1 .5 .2 .5-.4 .5-3.3 .5-3.7 0 .6 .5 3.4 .5 2.6 .5 1 .5 .4 .5-.2 .5 .1 .5 1 .5-.8 .5 0 .5 .2 .5-.5 .5 .1 .5-.3 .5-.2 .5-.5 .5-.8 .4-1.2 .1 .3 .5 1 .5 .8 .5 1.3 .5-.3 .5-.1 .5-.1 .5-1.2 .5-1.2 .3-.3 .2 .1 .5 1.7 .5 1.3 .5-.4 .5-.2 .5 .6 .5 .4 .5-.1 .5-1 .5-1.1 .5-.7 .4-.5 .1 0 .5 .9 .5 1.8 .5 .7 .5-.4 .5 .8 .5 .4 .5-.2 .5-.1 .5 0 .5-.6 .5-.7 .5-.4 .5-.8 .5-.7 .1 .3 .4 .2 .5 .8 .5 .6 .5 .9 .5 .3 .5 .3 .5-.6 .5 .3 .5 0 .5 .2 .5 .7 .5-.2 .5-.5 .5 .4 .5-.3 .5 0 .5-.6 .5 .2 .5 .1 .5-.3 .5-.9 .5-7.6 .5-42.1 .2-8.4 .3 21.2 .5 34.1 .5 3.3 .5 .6 .5 .2 .5 .1 .5 .3 .5 .1 .5 0 .5-.4 .5-.7 .5-1.2 .5-1.8 .1-.5 .4 .7 .5 1.4 .5 .9 .5 .6 .5 .3 .5-.5 .5-5.6 .5-13.6 .2-2.2 .3 5.5 .5 12.7 .5 3.5 .5 1 .5 .1 .5-.1 .5-.3 .5 0 .5 .3 .5 .4 .5 .2 .5-.6 .5 .1 .5 .5 .5 .6 .5-.6 .5-.2 .5 .1 .5-.3 .5 0 .5-.5 .5-.9 .5-5.7 .3-2.7 .2 .7 .5 6 .5 2.7 .5 .5 .5 .6 .5-.2 .5 .1 .5 .2 .5 .3 .5-.4 .5 0 .5 .2 .5-.2 .5-.4 .5 .6 .5-.1 .5-.3 .5 0 .5-.5 .5 .3 .5 .6 .5 .4 .5-.5 .5-1 .5-2.2 .2-.4 .3 .4 .5 2.3 .5 .6 .5-.1 .5 0 .5 .4 .5 1 .5 .5 .5-1 .5-.4 .5 .4 .5 0 .5-.1 .5 .7 .5-.1 .5-.2 .5-.4 .5-.3 .5-.6 .5-1.4 .2 0 .3 .3 .5 .6 .5 1.3 .5-.1 .5 .1 .5 .5 .5 .3 .5-.4 .5-.5 .5 0 .5 .4 .5 .2 .5 .8 .5-.5 .5-1.5 .5 .5 .5 .9 .5 .4 .5-1.1 .5 .2 .5 .6 .5-.4 .5 0 .5 .1 .5 .1 .5-.3 .5 0 .5-.1 .5 .7 .5 0 .5-.2 .5-.1 .5 0 .5-.1 .5 .2 .5 .1 .5-.2 .5-.3 .5-.1 .5-.2 .5-.2 .5-.6 .5-.6 .5-1.4 .3-.4 .2-.1 .5 .9 .5 .9 .5 .8 .5 1.1 .5 .6 .5-.5 .5-.1 .5 .4 .5 .3 .5 .2 .5-.5 .5-.1 .5-.2 .5 0 .5 0 .5 .1 .5 .5 .5 .2 .5-.5 .5-.1 .5 .5 .5-.3 .5-.6 .5-5.4 .5-11.4 0-.3 .5 6.6 .5 3.9 .5 4.8 .5 2.1 .5 .4 .5-.3 .5 .3 .5-.1 .5-.3 .5 .6 .5-.1 .5 .1 .5-.2 .5 .3 .5 .2 .4-.2 .5-.1 .5 .3 .5-.1 .5-.2 .5 .1 .5 0 .5 0 .5 .6 .5 .2 .5-.7 .5-.2 .5-.3 .5 .1 .5 .6 .5-.2 .5-.1 .5-.4 .5 .2 .5 .5 .5 .1 .5 0 .5 0 .5 0 .5 .3 .5 .2 .5-.4 .5-.6 .5-.5 .5-.5 .5-4.5 .5-8.1 0-.7 .5 6.4 .5 1.7 .5 4.3 .5 1.3 .5-.3 .5 .2 .5 .6 .5 0 .5 .7 .5 0 .5-.8 .5-1.1 .5-4.1 .2-.9 .3 2 .5 1.5 .5 1.6 .5 1.2 .5-.3 .5 .6 .5 .1 .5-.1 .5 .1 .5 .6 .5 .1 .5-.6 .5-.3 .5-.3 .5 .4 .5 .4 .5 0 .5 0 .5-.1 .5 .1 .5 .2 .5-.2 .5-.7 .5-.1 .5-.4 .5 .7 .5 .1 .5 .2 .5 .6 .5-.1 .5 0 .5-.1 .5-.7 .5-5.1 .5-5.7 0 .4 .5 5.5 .5 .5 .5 2.7 .5 2.2 .5 .2 .5-.2 .5 .6 .5-.1 .5 .1 .5-.1 .5-.2 .5-.3 .5 .4 .5-.4 .5 .1 .5 .3 .5-.3 .5 0 .5 0 .5 .1 .5 0 .5-.6 .5 .4 .5 .6 .5-1 .5 .2 .5 .3 .5-.6 .5 0 .5 .5 .5 .5 .5-.4 .5 .1 .5-.2 .5 0 .5-.4 .5-.1 .5 .2 .5-.1 .5 .4 .5 .3 .5 .2 .5 .5 .5-.3 .5-.8 .5 .1 .5 .7 .5-.4 .5-.2 .5 .2 .5-.5 .5-1.2 .5-4.5 .3-1.6 .2 .3 .5 3.3 .5 1.2 .5 1.8 .5 .4 .5 .1 .5-.2 .5-.1 .5 .5 .5 .6 .5 .3 .5-.2 .5 .4 .5-.2 .5-.1 .5-.4 .5-.2 .5 .7 .5-.2 .5 .1 .5-.2 .5 .1 .5-.2 .5-.1 .5 .1 .5 .1 .5-.5 .5 .1 .5 .5 .5-.3 .5 0 .5-.3 .5 .4 .5 .4 .5-.1 .5-.2 .5-.1 .5-.2 .5-.6 .5 .1 .5 .5 .5-.2 .5 .8 .5 0 .5-.9 .5-.6 .5 .1 .5 .9 .5 .4 .5 .3 .5 0 .5 .2 .5-.3 .5-.7 .5 0 .5-.1 .5 .1 .5 0 .5 .3 .5 .4 .5-.6 .5-.4 .5 .1 .5 .1 .5-.1 .5 0 .5 0 .5-.1 .5-4.7 .5-14.8 .1-.3 .4 9.5 .5 3 .5-.1 .5 5.7 .5 1.8 .5 .2 .5 .1 .5 .7 .5-.3 .5-.1 .5-.2 .5-.2 .5-.6 .5-.1 .5 .1 .5 .9 .5-.5 .5 0 .5 .7 .5-.2 .5 .1 .5 .4 .5 0 .5-.1 .5-.2 .5-.5 .5 .8 .5 .5 .5-.3 .5-1.2 .5 0 .5 .5 .5 .8 .5 0 .5 .1 .5-.5 .5-.6 .5-.3 .5 .5 .5 .5 .5-.7 .5-.3 .5 .7 .5 .8 .5 .4 .5-.4 .5-.5 .5-.9 .5 .2 .5 .2 .5 .1 .5-.1 .5 .5 .5 .2 .5-.4 .5-.2 .5 .2 .5 .1 .5 0 .5-.3 .5 .5 .5-.3 .5-.1 .5 .1 .5-.2 .5 .6 .5 .4 .5-.5 .5-.4 .5-.1 .5 .6 .5-.3 .5-1.2 .5-1.5 .5-3.6 .1-.5 .4 1.8 .5 1.8 .5 .5 .5 .5 .5 .7 .5 .6 .5 .5 .5 .2 .5-.5 .5-.1 .5-.1 .5 .3 .5 .3 .5 1 .5-.1 .5-.9 .5 .1 .5 .1 .5-.3 .5 .1 .5 .3 .5-.2 .5-.1 .5 .2 .5 .3 .5-.3 .5 .1 .5 0 .5 .1 .5-.3 .5-.3 .5 .1 .5 .3 .5 0 .5-.1 .5 .4 .5 .6 .5-.6 .5-.8 .5 .7 .5-.2 .5-.2 .5 .5 .5-.1 .5 0 .5-.2 .5 .2 .5-.1 .5 .3 .5-.2 .5-.5 .5 .3 .5 .2 .5-.4 .5-.5 .5 .5 .5 .2 .5 .2 .5-.4 .5 .4 .5 .2 .5 .4 .5-.8 .5 .1 .5-.3 .5-.1 .5 .6 .5 .1 .5-.2 .5-.9 .5 .1 .5 .5 .5-.1 .5 .7 .5 .1 .5-.6 .5-.2 .5-.1 .5-.2 .5-.3 .5-2.4 .5-9.6 .2-3.1 .3 3.4 .5 7.5 .5-1.8 .5 1.7 .5 4 .5 1.2 .5-.9 .5-.1 .5 .6 .5 .2 .5 .2 .5 .3 .5-.9 .5 0 .5 0 .5 .3 .5 .2 .5-.4 .5 .5 .5-.4 .5-.4 .5-.1 .5 .3 .5 .2 .5 .3 .5-.4 .5 .4 .5 .3 .5-.2 .5 .1 .5-.3 .5 .1 .5 .2 .5 .5 .5-.6 .5-.2 .5 .2 .5-.3 .5 .1 .5 .3 .5 .1 .5-.4 .5 0 .5 .1 .5 .3 .5 .1 .5-.1 .5 .1 .5 .2 .5-.5 .5 .5 .5-.4 .5-.7 .5 .2 .5-.2 .5 0 .5-.2 .5 .6 .5 .1 .5 .3 .5-.5 .5-.4 .5-.7 .5-.3 .5-.3 .2 .4 .3 .8 .5 .4 .5 0 .5-.1 .5 .1 .5 0 .5 0 .5 .4 .5 0 .5 .1 .5-.2 .5 .3 .5 .5 .5-.3 .5-.2 .5-.5 .5 0 .5 .2 .5 .2 .5-.1 .5-.2 .5 .2 .5-.1 .5-.5 .5 .5 .5 .4 .5-.4 .5 .4 .5 .1 .5-.2 .5-.1 .5-.3 .5 .2 .5-.6 .5 .1 .5 .4 .5 0 .5 .7 .5-.1 .5 0 .5-.1 .5-.4 .5 0 .5 .2 .5 0 .5 .5 .5-.1 .5-.3 .5 .2 .5-.3 .5 .1 .5-.2 .5-.3 .5-.3 .5 0 .5 .3 .5-.1 .5-1 .5-1.5 .5-4.7 .1-.6 .4 2.9 .5 3 .5-.8 .5-.6 .5 1.1 .5-4.6 .4-5.4 .1 .9 .5 7.2 .5 1.8 .5-1.6 .5 1.2 .5 2.1 .5 .7 .5-.1 .5 .2 .5-.3 .5-.1 .5 .1 .5 .3 .5 .3 .5 .2 .5-.5 .5-.4 .5 .1 .5 .1 .5 .1 .5 .3 .5-.1 .5 0 .5 0 .5-.1 .5 0 .5 .3 .5-.2 .5-.1" fill="none" stroke="#808080" stroke-width="1.6" stroke-linejoin="round"/>
<path d="M563.0 391.7l.5 .1 .5 .3 .5 .3 .5-.6 .5 .8 .5 0 .5-.5 .5 0 .5 .7 .5-.3 .5-.9 .5 .2 .5 .3 .5 .3 .5 .1 .5 .3 .5-.2 .5 .2 .5 .6 .5-.5 .5-.3 .5 0 .5-.6 .5-.1 .5 .7 .5-.2 .5-.1 .5 1.1 .5 .2 .5-.4 .5-.4 .5 0 .5 .2 .5 .3 .5-.7 .5 .5 .5 0 .5-.3 .5 .5 .5 .2 .5 .9 .5-.2 .5-.8 .5-.4 .5-.2 .5 .1 .5 .3 .5-.3 .5 .9 .5 .1 .5-.3 .5 .5 .5 .6 .5-.5 .5 0 .5-.8 .5-.3 .5 .2 .5-.7 .5 .7 .5-.1 .5-.4 .5 .1 .5 .2 .5 .4 .5-.2 .5-.6 .5-.6 .5-.4 .5-.1 .5-.8 .5 1 .5-.4 .5-.8 .5 .4 .5-.5 .5-.5 .5-.6 .5 .2 .5 .4 .5-.2 .5-.2 .5-.5 .5-.1 .5-.9 .5-.6 .5-.8 .5 .5 .5-.1 .5-.3 .5-.2 .5-.9 .5-2.2 .5-1.8 .5-2 .5-.7 .5-2.1 .5-2.8 .5-2.1 .5-2.1 .5-1.6 .5 .5 .5 1.3 .5 1.5 .5 1.8 .5 2.9 .5 3.7 .5 1.9 .5 1.8 .5 1.3 .5 2.2 .5 1.2 .5 .7 .5 1.4 .5 .4 .5 .5 .5 .2 .5-.2 .5 .6 .5 .5 .5-1 .5-.4 .5 .3 .5 .5 .5-.4 .5 .1 .5-.2 .5-.9 .5 .3 .5-.7 .5-.5 .5 .4 .5-.7 .5-.8 .5 .4 .5 .4 .5 .7 .5 .4 .5 .7 .5 .8 .5-.2 .5 1 .5 .6 .5 .1 .5-.6 .5 .6 .5 1.1 .5 .9 .5-.9 .5-.2 .5 .8 .5 .3 .5-.1 .5-.1 .5-.1 .5 1.2 .5-.4 .5 .4 .5 .9 .5-1.3 .5-.8 .5 .5 .5 1.2 .5-.6 .5-.4 .5 .3 .5 .3 .5 .5 .5 0 .5-.2 .5-.1 .5-.7 .5-.2 .5 .8 .5 .4 .5-.2 .5 .1 .5 0 .5-.7 .5 0 .5-.3 .5-.1 .5 .9 .5 .2 .5 .2 .5 0 .5-.3 .5 .8 .5-.1 .5 .3 .5 .2 .5-1 .5-.3 .5 .6 .5 .6 .5-.3 .5-1 .5 .9 .5-.2 .5-.1 .5-.7 .5 .2 .5 .3 .5-.4 .5 .8 .5-.1 .5 .2 .5 0 .5-.1 .5 1 .5 .6 .5-1 .5-1.2 .5 .5 .5 .4 .5 .4 .5 .1 .5 .7 .5-.4 .5-.4 .5-.6 .5-.3 .5 .4 .5 .4 .5 .2 .5-.2 .5-.2 .5 0 .5-.3 .5-.3 .5 .3 .5 .7 .5 .3 .5-.5 .5 0" fill="none" stroke="#808080" stroke-width="1.5" stroke-linejoin="round"/>
<path d="M563.0 350.7l.5 .4 .5 1 .5-1 .5-1.1 .5-.4 .5 1 .5 .6 .5-.2 .5 .2 .5-.6 .5 0 .5-.1 .5-.4 .5-.3 .5 0 .5 .1 .5 1 .5 0 .5-.1 .5 0 .5 .4 .5-.2 .5 .9 .5-.1 .5-.9 .5 .1 .5 .6 .5 .2 .5-.9 .5 .3 .5 1.4 .5-.3 .5-.1 .5 .3 .5-.7 .5-.9 .5-.3 .5 .7 .5-.2 .5 .1 .5-.7 .5 .4 .5 .3 .5-.4 .5 .1 .5 .1 .5 .2 .5-.3 .5 .5 .5 1 .5 .4 .5 0 .5-.8 .5-.6 .5 .3 .5 .2 .5 0 .5 .1 .5-.8 .5-.5 .5-.4 .5 .5 .5 .7 .5-.3 .5 0 .5-.1 .5-.2 .5-.8 .5 .3 .5 .2 .5 .1 .5-.4 .5-1.3 .5-.9 .5 .4 .5 .5 .5-1.2 .5-.9 .5-.3 .5 .1 .5 .5 .5-.7 .5-.1 .5 .5 .5-.1 .5-.6 .5-1.4 .5-.9 .5 .6 .5 .1 .5-1.7 .5-2 .5-2.2 .5-.1 .5-2.7 .5-3.4 .5-2.3 .5-2.7 .5-1.8 .5-1.7 .5-2.3 .5-.2 .5 1 .5 2.1 .5 3.5 .5 3.7 .5 2.6 .5 2.5 .5 3 .5 2.4 .5 1.9 .5 .9 .5 1.6 .5 1.4 .5 .2 .5 .6 .5 0 .5 0 .5 .4 .5 1.5 .5-.2 .5-.4 .5-.5 .5-1.4 .5-.5 .5-.3 .5-1.1 .5-.2 .5-.1 .5-1.7 .5-.2 .5 .1 .5-.1 .5 0 .5 .1 .5 .7 .5-.3 .5 1.4 .5 .4 .5 1.1 .5 1.5 .5 1.3 .5-.4 .5 .3 .5 1.5 .5 .3 .5 .4 .5 .6 .5 .5 .5-.6 .5-.8 .5 .8 .5 .4 .5-.4 .5 .2 .5 .9 .5 0 .5-.3 .5 .5 .5-.1 .5-.6 .5 .2 .5-.2 .5 .3 .5 .4 .5-.5 .5 0 .5 .6 .5-.2 .5 .1 .5 .2 .5 .2 .5 .2 .5-.4 .5-.2 .5 .4 .5 .9 .5 0 .5-.3 .5 .5 .5-.4 .5-.5 .5 1.3 .5 .7 .5-1.4 .5-.8 .5 1.1 .5 0 .5-.8 .5-.8 .5 .7 .5 .2 .5 0 .5 .2 .5 .5 .5-.3 .5-.2 .5-.9 .5 .3 .5 .5 .5-.1 .5 .4 .5 .2 .5 0 .5 0 .5 .1 .5-.7 .5 .5 .5 .8 .5-.3 .5 .5 .5-.3 .5-.4 .5 .3 .5 .5 .5-.8 .5-.4 .5 .7 .5 .5 .5-.3 .5-.8 .5 .5 .5 .1 .5-.2 .5 0 .5 .4 .5-.1 .5 .3 .5 .7 .5-.8 .5-.9 .5 0 .5 0 .5 .1 .5 1.1" fill="none" stroke="#ff0000" stroke-width="1.5" stroke-linejoin="round"/>
<path d="M563.0 306.6l.5-.7 .5 .1 .5-.5 .5-.4 .5-.3 .5 1 .5 .9 .5 .2 .5-.5 .5-.3 .5 .7 .5 .2 .5-1 .5 0 .5 0 .5-.5 .5-.3 .5 .3 .5 .6 .5 .2 .5 .2 .5 .2 .5-.8 .5-.6 .5 .2 .5 .7 .5-.4 .5-.3 .5 1.2 .5 .5 .5-.4 .5-.3 .5-1 .5 0 .5 .8 .5 .2 .5-.2 .5-.1 .5 .1 .5 .7 .5-.7 .5 .2 .5 .4 .5-.7 .5 .2 .5 .2 .5-.2 .5-1 .5 .4 .5 .5 .5 .6 .5-.3 .5-.2 .5 .6 .5 .1 .5 .1 .5 .1 .5-.5 .5-.6 .5 .2 .5 .1 .5-.1 .5-.1 .5-.3 .5-.4 .5-.1 .5-.5 .5 0 .5 .5 .5-.3 .5-.2 .5-.6 .5-.7 .5 .6 .5 .8 .5-.8 .5-.6 .5 .2 .5-.6 .5-.6 .5-.7 .5-.1 .5 .8 .5 0 .5-.3 .5-.1 .5-.8 .5-.5 .5-.9 .5-.8 .5-.6 .5-.3 .5-1.5 .5-2.6 .5-1.8 .5-1.8 .5-2.2 .5-1.5 .5-1.8 .5-.6 .5 0 .5 .3 .5 1.7 .5 2.9 .5 3.3 .5 2.3 .5 1.7 .5 1.2 .5 1.5 .5 1.5 .5 .8 .5-.1 .5 .5 .5 .8 .5 .9 .5-.6 .5-.2 .5 .4 .5-.4 .5-.2 .5-.8 .5 .2 .5-1.2 .5-1.1 .5-1 .5-.7 .5-.8 .5-.4 .5-.2 .5-1.3 .5 .3 .5 1.2 .5 1.4 .5 1.6 .5 .7 .5 .5 .5 .9 .5 2 .5 1 .5 .7 .5-.6 .5 1.2 .5-.1 .5-.2 .5 .7 .5 .3 .5-.2 .5-.3 .5 .4 .5 .1 .5 .4 .5-.2 .5 .6 .5 .2 .5 .4 .5-.7 .5-.5 .5 .2 .5 1.5 .5 1.3 .5-1.9 .5-.1 .5 1.1 .5 .1 .5 0 .5-.3 .5-.1 .5-.4 .5-.4 .5 .3 .5-.1 .5 .1 .5-1.4 .5 .2 .5 1.1 .5 .8 .5 .5 .5-.8 .5-.1 .5-.3 .5 .9 .5-1.1 .5 .9 .5-.5 .5-.8 .5 .7 .5 .8 .5-.4 .5-.4 .5 .4 .5 .3 .5 .4 .5-.1 .5-.7 .5-.2 .5 .3 .5 .2 .5 0 .5-.4 .5 .2 .5 0 .5 .5 .5 0 .5-.5 .5-.3 .5 .8 .5-.4 .5-.1 .5 .4 .5 .2 .5-.4 .5-.3 .5 0 .5 .8 .5-.3 .5-.5 .5-.5 .5 .7 .5 1.1 .5 0 .5-.9 .5 .4 .5 .1 .5-.7 .5 .4 .5 .8 .5-.1 .5-1.1 .5 .1 .5 1 .5-.3 .5-.1 .5-.2 .5 .8 .5 0" fill="none" stroke="#0b6fff" stroke-width="1.5" stroke-linejoin="round"/>
<path d="M563.0 262.8l.5-1 .5-.2 .5-.3 .5-.1 .5 .2 .5 .5 .5-.1 .5 .2 .5 0 .5 .5 .5 .4 .5 .1 .5-.1 .5-.4 .5 .1 .5-.4 .5-.5 .5-.1 .5 .6 .5 .6 .5 .4 .5-.5 .5 .2 .5-1 .5 .7 .5 1.1 .5-1.1 .5-.7 .5 .4 .5 1.5 .5-.3 .5-1 .5-.6 .5-.6 .5 1.1 .5 .7 .5-.9 .5 .9 .5 .4 .5 .1 .5-.8 .5 .3 .5 .5 .5-.2 .5-.2 .5-.5 .5-.1 .5-.1 .5 .3 .5 0 .5-.5 .5-.9 .5 .3 .5 1 .5 .5 .5-.8 .5-.1 .5 .4 .5 .7 .5 .2 .5-.7 .5-.6 .5-.3 .5 .3 .5-.2 .5-.2 .5-.2 .5 .5 .5-.8 .5-.7 .5 .3 .5-.2 .5 .6 .5 .4 .5-.5 .5-.8 .5-.6 .5 .3 .5 1.1 .5-.7 .5-1.4 .5-.3 .5 .5 .5-.1 .5-.2 .5-.3 .5-1 .5-.2 .5 .3 .5-.7 .5-1.2 .5-1 .5-1 .5-1.7 .5-2.4 .5-2 .5-1.3 .5-1.8 .5-.4 .5-1.6 .5 .3 .5 2 .5 1.8 .5 .8 .5 .9 .5 2.6 .5 1.6 .5 2.4 .5 2.3 .5 1.2 .5 .6 .5 .7 .5 .6 .5-.1 .5 .4 .5 .9 .5 .2 .5 .3 .5-.2 .5 0 .5 .2 .5 .1 .5 .2 .5-.8 .5-.9 .5-.5 .5-.4 .5-.1 .5-.7 .5-.5 .5 .6 .5 0 .5-1.1 .5 .6 .5 0 .5-.4 .5 .5 .5 1.2 .5 1.5 .5 .1 .5 .5 .5-.2 .5 .9 .5 .2 .5-.4 .5 .2 .5 .4 .5-.4 .5 .4 .5 0 .5 .6 .5 .6 .5 .2 .5-.1 .5-.4 .5-.2 .5-.2 .5 .2 .5 .2 .5 .1 .5 .2 .5-.4 .5-.2 .5 .8 .5-.5 .5-.5 .5 .3 .5 .5 .5 .2 .5 .6 .5 .4 .5-.9 .5 .8 .5-.3 .5-.8 .5-.8 .5 .9 .5 .5 .5-.7 .5-.5 .5 .3 .5 .8 .5 .4 .5 .5 .5-.6 .5 0 .5-.6 .5 .4 .5 .6 .5-.3 .5-.2 .5-.7 .5 0 .5 .2 .5-.1 .5 .5 .5 .9 .5-.5 .5 .2 .5 .5 .5-.5 .5-.4 .5 .1 .5 .7 .5 .4 .5 .6 .5-.4 .5-1.4 .5 .8 .5 .7 .5-.6 .5-.6 .5-.3 .5 .6 .5-.5 .5 .1 .5 .1 .5 .2 .5-.3 .5 .1 .5 .6 .5-.1 .5 .1 .5-.3 .5 .7 .5 0 .5 .1 .5-.5 .5-1.4 .5-.3 .5 1.5 .5-.2 .5-.3 .5-.1 .5 .2" fill="none" stroke="#179a17" stroke-width="1.5" stroke-linejoin="round"/>
<rect x="3.5" y="2.5" width="521.0" height="419.5" fill="none" stroke="#262626" stroke-width="1.7"/>
<rect x="562.0" y="-0.3" width="119.6" height="420.8" fill="none" stroke="#262626" stroke-width="1.7"/>
<path d="M43.6 422.0v-8M83.7 422.0v-4.0M123.7 422.0v-8M163.8 422.0v-4.0M203.9 422.0v-8M244.0 422.0v-4.0M284.0 422.0v-8M324.1 422.0v-4.0M364.2 422.0v-8M404.3 422.0v-4.0M444.3 422.0v-8M484.4 422.0v-4.0" stroke="#262626" stroke-width="1.7"/>
<text x="43.6" y="448.2" font-size="22.0" font-weight="bold" text-anchor="middle" fill="#000">10</text>
<text x="123.7" y="448.2" font-size="22.0" font-weight="bold" text-anchor="middle" fill="#000">20</text>
<text x="203.9" y="448.2" font-size="22.0" font-weight="bold" text-anchor="middle" fill="#000">30</text>
<text x="284.0" y="448.2" font-size="22.0" font-weight="bold" text-anchor="middle" fill="#000">40</text>
<text x="364.2" y="448.2" font-size="22.0" font-weight="bold" text-anchor="middle" fill="#000">50</text>
<text x="444.3" y="448.2" font-size="22.0" font-weight="bold" text-anchor="middle" fill="#000">60</text>
<text x="524.5" y="448.2" font-size="22.0" font-weight="bold" text-anchor="middle" fill="#000">70</text>
<path d="M571.6 420.5v-4.0M588.4 420.5v-8M605.1 420.5v-4.0M621.9 420.5v-8M638.6 420.5v-4.0M655.4 420.5v-8M672.1 420.5v-4.0" stroke="#262626" stroke-width="1.7"/>
<text x="588.4" y="446.2" font-size="22.5" font-weight="bold" text-anchor="middle" fill="#000">8.5</text>
<text x="621.9" y="446.2" font-size="22.5" font-weight="bold" text-anchor="middle" fill="#000">9.0</text>
<text x="655.4" y="446.2" font-size="22.5" font-weight="bold" text-anchor="middle" fill="#000">9.5</text>
<text x="264.0" y="489.4" font-size="28" font-weight="bold" text-anchor="middle" fill="#000">2Theta (°)</text>
<text x="621.8" y="487.6" font-size="28" font-weight="bold" text-anchor="middle" fill="#000">2Theta (°)</text>
<text x="342.5" y="534.2" font-size="31" font-weight="normal" text-anchor="middle" fill="#000">(a)</text>
<text x="12.6" y="22.8" font-size="21.5" font-weight="bold" text-anchor="start" fill="#000">(a) 3 d</text>
<text x="488.0" y="374.0" font-size="15.8" font-weight="bold" text-anchor="start" fill="#808080">OPC</text>
<text x="443.6" y="329.2" font-size="15.8" font-weight="bold" text-anchor="start" fill="#ff0000">G40S50D10</text>
<text x="441.4" y="284.3" font-size="15.8" font-weight="bold" text-anchor="start" fill="#0b6fff">G60S30D10</text>
<text x="441.4" y="230.7" font-size="15.8" font-weight="bold" text-anchor="start" fill="#179a17">G48S33D17</text>
<g fill="#000"><path d="M34.2 234.0C32.7 231.5 29.6 229.5 29.6 227.5C29.6 224.9 33.4 224.7 34.2 227.3C35.0 224.7 38.8 224.9 38.8 227.5C38.8 229.5 35.7 231.5 34.2 234.0Z"/><circle cx="65.0" cy="233.7" r="2.00"/><circle cx="62.3" cy="237.0" r="2.10"/><circle cx="67.7" cy="237.0" r="2.10"/><path d="M64.4 235.5L63.6 240.2L66.4 240.2L65.6 235.5Z"/><path d="M90.6 238.1L91.8 241.6L95.5 241.7L92.6 243.9L93.7 247.5L90.6 245.4L87.5 247.5L88.6 243.9L85.7 241.7L89.4 241.6Z"/><path d="M105.7 250.8C104.2 248.3 101.1 246.3 101.1 244.3C101.1 241.7 104.9 241.5 105.7 244.1C106.5 241.5 110.3 241.7 110.3 244.3C110.3 246.3 107.2 248.3 105.7 250.8Z"/><path d="M120.8 251.3C119.3 248.8 116.2 246.8 116.2 244.8C116.2 242.2 120.0 242.0 120.8 244.6C121.6 242.0 125.4 242.2 125.4 244.8C125.4 246.8 122.3 248.8 120.8 251.3Z"/><path d="M129.9 182.0L133.6 186.3L129.9 190.6L126.2 186.3Z"/><path d="M141.0 244.4L145.6 252.4L136.4 252.4Z"/><path d="M176.6 8.4L180.3 12.7L176.6 17.0L172.9 12.7Z"/><path d="M187.3 225.6C185.8 228.0 182.7 229.6 182.7 231.8C182.7 233.8 185.7 234.0 186.7 232.4L185.5 235.0L189.1 235.0L187.9 232.4C188.9 234.0 191.9 233.8 191.9 231.8C191.9 229.6 188.8 228.0 187.3 225.6Z"/><path d="M199.6 241.0C198.1 243.4 195.0 245.0 195.0 247.2C195.0 249.2 198.0 249.4 199.0 247.8L197.8 250.4L201.4 250.4L200.2 247.8C201.2 249.4 204.2 249.2 204.2 247.2C204.2 245.0 201.1 243.4 199.6 241.0Z"/><circle cx="243.7" cy="249.0" r="3.8"/><path d="M255.8 230.9L259.5 235.2L255.8 239.5L252.1 235.2Z"/><path d="M279.5 237.0L283.2 241.3L279.5 245.6L275.8 241.3Z"/><path d="M287.0 241.0L290.7 245.3L287.0 249.6L283.3 245.3Z"/><path d="M303.1 238.0L306.8 242.3L303.1 246.6L299.4 242.3Z"/><path d="M329.8 244.5L333.5 248.8L329.8 253.1L326.1 248.8Z"/><path d="M36.8 273.3L38.0 276.8L41.7 276.9L38.8 279.1L39.9 282.7L36.8 280.6L33.7 282.7L34.8 279.1L31.9 276.9L35.6 276.8Z"/><path d="M211.5 280.2L216.1 288.2L206.9 288.2Z"/><path d="M366.2 225.9L369.9 230.2L366.2 234.5L362.5 230.2Z"/><path d="M401.9 243.5L405.6 247.8L401.9 252.1L398.2 247.8Z"/><path d="M443.7 234.5L447.4 238.8L443.7 243.1L440.0 238.8Z"/><path d="M504.7 242.0L508.4 246.3L504.7 250.6L501.0 246.3Z"/><path d="M512.2 240.0L515.9 244.3L512.2 248.6L508.5 244.3Z"/><path d="M628.0 246.3L629.2 249.8L632.9 249.9L630.0 252.1L631.1 255.7L628.0 253.6L624.9 255.7L626.0 252.1L623.1 249.9L626.8 249.8Z"/></g>
<g fill="#000"><path d="M225.6 27.6L229.1 31.7L225.6 35.8L222.1 31.7Z"/><text x="232.3" y="35.9" font-size="15.7">: SiO<tspan font-size="10.5" dy="3.5">2</tspan></text><path d="M318.7 36.0C317.3 33.6 314.3 31.7 314.3 29.8C314.3 27.3 317.9 27.1 318.7 29.6C319.5 27.1 323.1 27.3 323.1 29.8C323.1 31.7 320.1 33.6 318.7 36.0Z"/><text x="324.4" y="35.9" font-size="15.7">: Muscovite</text><circle cx="226.3" cy="56.1" r="1.90"/><circle cx="223.7" cy="59.2" r="1.99"/><circle cx="228.9" cy="59.2" r="1.99"/><path d="M225.7 57.8L225.0 62.3L227.6 62.3L226.9 57.8Z"/><text x="232.4" y="62.5" font-size="15.7">: Kaolinite</text><path d="M318.7 53.9C317.3 56.2 314.3 57.7 314.3 59.8C314.3 61.7 317.2 61.9 318.1 60.4L317.0 62.9L320.4 62.9L319.3 60.4C320.2 61.9 323.1 61.7 323.1 59.8C323.1 57.7 320.1 56.2 318.7 53.9Z"/><text x="323.8" y="62.5" font-size="15.7">: Calcium silicate hydrates</text><path d="M226.3 80.4L227.5 83.8L231.0 83.8L228.2 86.0L229.2 89.4L226.3 87.4L223.4 89.4L224.4 86.0L221.6 83.8L225.1 83.8Z"/><text x="232.4" y="89.1" font-size="15.7">: Ettringite</text><path d="M318.7 80.7L323.1 88.3L314.3 88.3Z"/><text x="324.0" y="89.1" font-size="15.7">: Calcium aluminate hydrates</text><circle cx="225.3" cy="111.5" r="3.6"/><text x="231.3" y="115.7" font-size="15.7">: Calcium aluminate silicate hydrates</text></g>
<path d="M1.8 792.0l.5-.2 .5-.3 .5-.2 .5 1.1 .5 .1 .5-.6 .5 .1 .5-.3 .5-.3 .5 .1 .5-.5 .5-.4 .5-.2 .5 .1 .5 0 .5 0 .1-.2 .4 0 .5 .2 .5 .6 .5 .3 .5 .3 .5 .2 .5 0 .5 .9 .5 .5 .5-1 .5-.2 .5 .5 .5 .9 .5 .3 .5 .3 .5 0 .5-.1 .5 0 .5 0 .5 .2 .5-.5 .5 .2 .5 .6 .5 .4 .5-.7 .5-.3 .5 .4 .5 .5 .5 0 .5 .1 .5-.5 .5 .7 .5 .1 .5-.6 .5 .4 .5 .5 .5-.1 .5 .4 .5 .3 .5-.6 .5-.6 .5-.4 .5-1.5 .5-5.8 .4-3.6 .1 .4 .5 6.1 .5 3.7 .5 .6 .5 .3 .5 1.3 .5 .3 .5 .3 .5-.4 .5-.2 .5 .4 .5-.1 .5-.4 .5 .4 .5 .9 .5-.1 .5-.2 .5-.2 .5 0 .5 .5 .5-.2 .5-.2 .5 .1 .5 0 .5 .5 .5 .3 .5-.3 .5 .4 .5-.3 .5 0 .5-.2 .5 .2 .5 .2 .5-.1 .5-.1 .5 0 .5 0 .5-.1 .5 .5 .5 .5 .5 .3 .5 .3 .5 .4 .5-.6 .5-.2 .5 .5 .5-.5 .5 .2 .5-.3 .5 0 .5-.3 .5 .7 .5-.2 .5-.3 .5 0 .5-2.5 .5-4.8 .4-2 .1 .4 .5 4.1 .5 4 .5 1.5 .5-.1 .5 .1 .5 0 .5-.1 .5 .4 .5 .4 .5 .5 .5 .1 .5-.4 .5 .1 .5 .2 .5 .6 .5-.3 .5-.2 .5-.4 .5 .1 .5 .4 .5 0 .5 0 .5-.2 .5 .4 .5 .1 .5 .6 .5-.2 .5 0 .5-.5 .5 .3 .5-.2 .5 .1 .5 .3 .5 0 .5 .3 .5 .3 .5 0 .5-.4 .5-.4 .5 .2 .5 .1 .5-.3 .5 .8 .5 0 .5 .1 .5 .4 .5 .1 .5-.3 .5-.4 .5 .4 .5-.1 .5-.5 .5-.6 .5-2 .3-1.1 .2 .6 .5 1.8 .5 2 .5 .4 .5-.5 .5 .1 .5 .4 .5 .2 .5 .6 .5-.1 .5-.3 .5-.1 .5-.5 .5 .6 .5 .4 .5-.3 .5-.1 .5 .6 .5 .5 .5-.6 .5-.3 .5 .4 .5-.6 .5 .4 .5 .1 .5 .2 .5-.1 .5 .4 .5-.4 .5-1.1 .5-1 .5-1 .4-.1 .1-.2 .5 1.3 .5 1.6 .5 .9 .5 .2 .5-.1 .5-.2 .5 .7 .5 .1 .5-.5 .5 .9 .5-.3 .5-.7 .5-.3 .5 .8 .5 .1 .5-.5 .5-.2 .5 .8 .5-.3 .5 .3 .5 1.2 .5 0 .5-.6 .5-.5 .5-.1 .5-.7 .5 .4 .5-.2 .5-.7 .5-.8 .5-.7 .5-.8 .1 .1 .4 .8 .5 .9 .5 .6 .5 .4 .5 .8 .5 .6 .5-.1 .5 0 .5-.4 .5 0 .5-.1 .5 .2 .5 .9 .5-.3 .5-1.4 .5-12 .5-39.3 .1-1.7 .4 29.1 .5 22.7 .5 1.8 .5 .2 .5 .2 .5-.2 .5-.1 .6 .3 .5 .2 .5 .3 .5 .4 .5 .5 .5-.2 .5-.4 .5 .1 .5-.3 .5-.6 .5-3 .2-1.4 .3 1.2 .5 2.7 .5 .2 .5 .5 .5 .3 .5-.4 .5 .2 .5 .4 .5 .5 .5 .4 .5 .5 .5-.6 .5 0 .5-.2 .5-.6 .5-1.5 .5-1.5 .2 .2 .3 1.1 .5 1.7 .5 .6 .5 0 .5-.1 .5 .6 .5-.3 .5-1.7 .5-1.4 .1-.1 .4 1.1 .5 1.2 .5 .6 .5 .4 .5 .1 .5-.4 .5-.4 .5-.3 .5-.2 .5-.1 .5-1.4 .3-1.5 .2 .5 .5 1.8 .5 1 .5 .7 .5 .1 .5 .5 .5-.3 .5 .2 .5 .1 .5-.5 .5-.5 .5 .1 .5-.1 .5-1.1 .5-.9 0-.3 .5 .8 .5 1.4 .5 .8 .5 .8 .5-.5 .5-.6 .5 .1 .5 .8 .5 0 .5 .2 .5 .1 .5 .3 .5-.2 .5-.6 .5 .1 .5 .1 .5-.5 .5 .5 .5-.1 .5-.8 .5-2.2 .5-30.7 .5-166.9 .2-33.3 .3 82.9 .5 134.3 .5 14.4 .5 1.5 .5 .6 .5-.3 .5 .3 .5-.7 .5-.1 .5 .6 .5-.1 .5-1.3 .5-2.2 .2 .1 .3 .8 .5 2 .5 .9 .5 .2 .5-.4 .5-.5 .5-3.5 .5-10.8 .2-3.6 .3 3.3 .5 11.6 .5 4.2 .5 .2 .5 0 .5 0 .5 .5 .5 .2 .5 .2 .5-.5 .5-.5 .5-.1 .5-.1 .5 .2 .5 .8 .5 0 .5-.5 .5 .7 .5-.3 .5-.5 .5 .1 .5-.8 .5-3.1 .4-2.5 .1 .7 .5 3 .5 1.6 .5 1.3 .5 .4 .5-.3 .5 .1 .5-.1 .5-.2 .5 .4 .5 .3 .5-.5 .5 .2 .5 .1 .5-.2 .5-.1 .5-.3 .5 .2 .5 .5 .5 0 .5 .1 .5 .8 .5-.9 .5-.9 .5-2.8 .4-2.1 .1 .5 .5 2.8 .5 2.6 .5 .4 .5-.4 .5 .3 .5 .1 .5 .7 .5-.8 .5-.6 .5-.3 .5 .2 .5 .3 .5-.1 .5-.1 .5 .3 .5 .4 .5 0 .5-1.2 .5-.7 .5-.5 0-.2 .5 .5 .5 1.1 .5 1 .5 .1 .5 0 .5 .4 .5 0 .5-.1 .5 0 .5-.2 .5 .4 .5 .1 .5-.4 .5-.1 .5 .8 .5 .1 .5 .5 .5-.8 .5 0 .5-.2 .5 .2 .5 .1 .5-.4 .5 .1 .5 .2 .5 .1 .5 .3 .5 .2 .5-.1 .5-.3 .5-.4 .5-.2 .5 0 .5 .3 .5 .4 .5-.4 .5-.2 .5 .3 .5-.4 .5-.4 .5-.2 .5-.9 .5-1.9 .5-.4 .2 .5 .3 .1 .5 .7 .5 1.3 .5 1.4 .5 .2 .5 .5 .5 .2 .5-.3 .5 .1 .5-.2 .5-.2 .5 .1 .5 .5 .5-.2 .5-.3 .5 .2 .5 .8 .5-.1 .5-.5 .5-.4 .5-.2 .5 .4 .5-.2 .5-1 .5-5.3 .5-13.2 0-.7 .5 8.1 .5 3.7 .5 5.8 .5 2.3 .5 .3 .5 .9 .5 .2 .5 .3 .5-.1 .5-.4 .5 .1 .5 .3 .5-.1 .5-.3 .5-.2 .5 .1 .5-.2 .5-.2 .5-.2 .5 .5 .5-.1 .5 .1 .5 .3 .5 .4 .5 .4 .5-.6 .5-.5 .5 .2 .5 .1 .5 .2 .5-.3 .5-.1 .5 .1 .5-.2 .5-.3 .5 .4 .5 .5 .5 .3 .5-.4 .5-.1 .5 .3 .5 .2 .5 .2 .5-.4 .5-.6 .5-3.2 .5-9.5 .1-.9 .4 5.3 .5 1.7 .5 3.7 .5 2.3 .5 .7 .5 .1 .5 .2 .5 .1 .5 .2 .5-.1 .5-.6 .5-.8 .5-3.4 .3-1.6 .2 .8 .5 2.3 .5 .4 .5 1.6 .5 1.1 .5 .6 .5-.6 .5 .1 .5 .5 .5-.6 .5 .5 .5 .1 .5-.2 .5 .4 .5 .5 .5-1 .5-.1 .5 .1 .5-.3 .5 .1 .5 .8 .5-.4 .5-.7 .5 .3 .5 .5 .5-.1 .5-.5 .5 .3 .5 .3 .5 0 .5-.3 .5-.5 .5 .5 .5-2.5 .5-7.9 .2-1.3 .3 2.2 .5 3.1 .5 2.4 .5 2.9 .5 .7 .5 .3 .5 .7 .5-.5 .5-.4 .5 .1 .5 .1 .5 .3 .5-.1 .5-.1 .5 .4 .5-.1 .5 .4 .5 .2 .5-.5 .5-.2 .5 .3 .5 .3 .5-.2 .5-.1 .5 0 .5 .1 .5 0 .5-.4 .5 0 .5 .2 .5-.1 .5 .2 .5 .2 .5-.2 .5-.3 .5 .2 .5 .8 .5-.3 .5-.8 .5 .2 .5 1 .5 0 .5-.4 .5-.1 .5-.7 .5 .3 .5 .1 .5-.7 .5 .2 .5 .7 .5 0 .5-.8 .5-1.7 .5-4.4 .2-1.5 .3 1 .5 2.8 .5 1.2 .5 2.3 .5 .7 .5 .1 .5 .8 .5-.5 .5 .1 .5 .2 .5 0 .5-.2 .5 0 .5-.3 .5-.4 .5 .3 .5 .1 .5 .1 .5 0 .5 0 .5 .7 .5-.2 .5-1 .5 .2 .5-.2 .5-.4 .5 .8 .5 0 .5-.1 .5 .2 .5 .6 .5 .1 .5-.3 .5 0 .5-.2 .5-.1 .5-.2 .5 .1 .5-.1 .5 .4 .5 .2 .5 0 .5 .4 .5 .1 .5-1.3 .5 .1 .5 .1 .5-.1 .5-.2 .5 .4 .5 0 .5-.1 .5 0 .5-.3 .5-.2 .5 .8 .5-.1 .5-.3 .5 .3 .5-.4 .5-.3 .5 .6 .5-.5 .5 .3 .5 .3 .5 .4 .5-.3 .5-1 .5-4.6 .5-17.1 .2-2.5 .3 8.8 .5 7.4 .5-1.7 .5 7 .5 2.7 .5 .3 .5 .4 .5 .3 .5 .2 .5 .3 .5 .1 .5-.6 .5-1 .5 .1 .5 .8 .5 .4 .5 .5 .5-.5 .5-.2 .5 .4 .5 0 .5-.3 .5-.1 .5-.5 .5 .1 .5 .5 .5-.4 .5 .5 .5 .2 .5 .1 .5 0 .5-.4 .5-.9 .5 .1 .5 .5 .5 .3 .5-.5 .5 0 .5 .4 .5 .3 .5-.8 .5-.1 .5 .4 .5-.4 .5 .4 .5-.1 .5-.3 .5 .2 .5 0 .5 .4 .5 .4 .5 .2 .5-.4 .5-.2 .5-.2 .5 .3 .5 .1 .6-.6 .5 .4 .5-.1 .5 .1 .5 .3 .5 .1 .5-.2 .5-.2 .5 .1 .5-.1 .5 0 .5 .1 .5 .2 .5-.2 .5-.3 .5-.6 .5-.9 .5-3.5 .4-1.9 .1 .1 .5 3.6 .5 1.4 .5-.2 .5 1.5 .5 .6 .5-.3 .5 .1 .5 .6 .5 .3 .5-.4 .5-.8 .5 .1 .5 .5 .5 .6 .5-.2 .5 0 .5 .1 .5-.3 .5-.2 .5-.2 .5-.3 .5 .6 .5 .3 .5 0 .5-.7 .5 .1 .5 .6 .5 .1 .5 0 .5-.5 .5 0 .5-.1 .5 .2 .5 0 .5 .3 .5 .3 .5-.4 .5-.6 .5 .6 .5 0 .5-.6 .5 0 .5 .4 .5 .2 .5-.4 .5-.4 .5 .6 .5 .4 .5 .4 .5-.6 .5 .8 .5 0 .5-.4 .5 .1 .5-.3 .5-.1 .5-.4 .5 0 .5-.4 .5-.2 .5 .4 .5 .1 .5 .5 .5 .3 .5-.5 .5 0 .5-.2 .5-.4 .5 .4 .5 .2 .5-.2 .5-.5 .5-.3 .5 .6 .5 .5 .5 .4 .5 0 .5-.1 .5-.4 .5-.3 .5-2.4 .5-9.1 .2-3.3 .3 3.2 .5 7.2 .5-1.9 .5 1.4 .5 3.3 .5 1.2 .5 .2 .5 .1 .5 .7 .5-.1 .5-.4 .5 0 .5 .1 .5 .2 .5-.3 .5-.2 .5 0 .5 .2 .5 .1 .5-.2 .5 .2 .5 .5 .5 .6 .5-.8 .5-1.2 .5 .4 .5 .4 .5 .4 .5 .5 .5-.5 .5-.9 .5 .5 .5 .3 .5 .2 .5 .1 .5-.5 .5 .2 .5-.6 .5 .4 .5 .5 .5 .4 .5-1 .5-.4 .5 .6 .5 0 .5 .4 .5-.6 .5 0 .5 .6 .5-.1 .5-.1 .5-.4 .5 .5 .5-.2 .5 0 .5-.6 .5-.2 .5 .4 .5 .5 .5 .4 .5-.3 .5-.2 .5 0 .5-.2 .5-1.4 .4-.1 .1-.2 .5 .2 .5 .6 .5 .7 .5-.4 .5-.1 .5 .4 .5 0 .5 .6 .5 .1 .5-.4 .5 .2 .5-.2 .5 0 .5 .3 .5 .5 .5-.6 .5-.5 .5 .1 .5 .4 .5-.6 .5 .1 .5-.1 .5-.5 .5 .7 .5 .7 .5-.3 .5-.3 .5 .4 .5 .3 .5 .2 .5-.7 .5-.2 .5 .2 .5 0 .5 0 .5-.1 .5-.3 .5-.3 .5 .2 .5-.2 .5 .1 .5 .4 .5 .4 .5 .1 .5-.5 .5 .3 .5 .2 .5-.4 .5-.8 .5 0 .5 1 .5 .3 .5-.4 .5-.3 .5 .7 .5 0 .5-.6 .5-.9 .5-3.8 .5-5.1 0-.3 .5 5.9 .5 2.4 .5-2 .5 1.2 .5 .4 .5-5.3 .3-2.9 .2 1.3 .5 6.3 .5 .3 .5-1.7 .5 2.1 .5 1.7 .5 .7 .5 .6 .5-.5 .5-.5 .5-.3 .5-.2 .5 0 .5 .7 .5 0 .5-.4 .5-.2 .5 .4 .5-.1 .5-.1 .5 .5 .5 .1 .5 0 .5 .1 .5-.1 .5 .2 .5-.4 .5 .3 .5 .1" fill="none" stroke="#179a17" stroke-width="1.6" stroke-linejoin="round"/>
<path d="M1.8 837.5l.5 0 .5-.5 .5-.2 .5 .4 .5 .1 .5 .2 .5-.1 .5 0 .5-.2 .5-.3 .5-.3 .5-.4 .5 0 .5 .3 .5-.9 .5 .2 .1 .6 .4 .1 .5 .4 .5-.2 .5-.4 .5 .3 .5 .4 .5 1.1 .5 .5 .5-.3 .5 .2 .5-.1 .5-.2 .5 .2 .5 0 .5 .4 .5 .6 .5 .4 .5 .1 .5-.3 .5 .1 .5 .2 .5-.3 .5-.9 .5 .6 .5 .7 .5-.3 .5 .4 .5 .1 .5-.6 .5 .4 .5 .4 .5-.2 .5-.3 .5 .4 .5 .2 .5 .4 .5-.1 .5-.3 .5 .1 .5-.2 .5-.3 .5-.5 .5-1.6 .5-5.7 .4-3.9 .1 0 .5 6.3 .5 4.8 .5 1.4 .5 .1 .5 .9 .5 .1 .5 .5 .5-.2 .5-.5 .5 .3 .5 0 .5 .2 .5 0 .5-.4 .5-.1 .5 0 .5-.1 .5 .4 .5 .4 .5 .1 .5 0 .5 0 .5 .1 .5-.6 .5 .3 .5 .4 .5 .5 .5 .1 .5 0 .5-.1 .5 .1 .5-.4 .5 0 .5-.2 .5 1.2 .5 .2 .5-.8 .5-.4 .5-.4 .5 .3 .5 .7 .5 0 .5-.3 .5 .2 .5 .3 .5 .4 .5 .2 .5-.2 .5 0 .5-.2 .5-.5 .5 .6 .5 .2 .5-.6 .5-2.2 .5-2.6 .4-1.2 .1 .4 .5 3 .5 1.7 .5 1.1 .5 .9 .5-.3 .5 .1 .5 .6 .5 .1 .5 .2 .5 0 .5 0 .5 .6 .5 .3 .5-.4 .5 .3 .5 0 .5-.3 .5-.1 .5-.4 .5 .1 .5 .4 .5 .2 .5 .2 .5-.6 .5 .1 .5 .1 .5 .3 .5 .3 .5-.4 .5 .4 .5-.2 .5 .1 .5 .4 .5-.1 .5 .2 .5-.1 .5-.2 .5-.2 .5-.3 .5 .3 .5 .5 .5 0 .5-.3 .5 .7 .5 0 .5-.6 .5 0 .5 .4 .5-.5 .5 .2 .5 .4 .5-.2 .5-.8 .5-1.2 .3-.7 .2 .5 .5 1.9 .5 .2 .5 .4 .5 .4 .5 .1 .5 .5 .5-.1 .5-.2 .5-.7 .5 1.1 .5 .2 .5-.4 .5 .5 .5 0 .5 .2 .5 .3 .5-.6 .5-.5 .5 .1 .5-.2 .5 .1 .5 .1 .5 .3 .5 .7 .5-.1 .5-.4 .5 .2 .5-.7 .5-.1 .5-.1 .5-.8 .4-.7 .1 0 .5 1.4 .5 1.1 .5 .5 .5-.7 .5-.3 .5 .5 .5 .6 .5 .1 .5 .2 .5 0 .5 0 .5-.1 .5-.2 .5 .2 .5-.4 .5 0 .5-.1 .5 .3 .5-.1 .5 .5 .5-.4 .5 .2 .5 0 .5 0 .5 .5 .5-.1 .5 .1 .5-.7 .5-.6 .5-.8 .5-.2 .5-.3 .1-.3 .4 .3 .5 1.2 .5 1.7 .5-.2 .5-.7 .5 0 .5-.1 .5 1.3 .5 .6 .5-.3 .5-.6 .5-.5 .5-.2 .5 .4 .5-.8 .5-10.2 .5-33.5 .1-1.1 .4 25.1 .5 19.9 .5 1 .5-.2 .5-.3 .5-.1 .5 .4 .6 .6 .5 .2 .5 .1 .5-.2 .5-.4 .5-.3 .5 .1 .5 .1 .5 .7 .5-1.6 .5-3.4 .2-.5 .3 .3 .5 3.3 .5 1.4 .5 .3 .5 0 .5 .4 .5 .1 .5-.9 .5-.2 .5 1 .5 .1 .5 0 .5-.1 .5 .5 .5-.4 .5-1.7 .5-1.1 .2-.7 .3 0 .5 1.8 .5 1.1 .5-.3 .5 .2 .5 .7 .5-.4 .5-1.2 .5-1.7 .1 0 .4 .8 .5 1.4 .5 1 .5 .6 .5-.5 .5-.6 .5 .1 .5 .5 .5 0 .5-1.6 .5-1.9 .3-.4 .2 0 .5 1.6 .5 1.7 .5 1 .5 0 .5-.2 .5 0 .5-.3 .5 .6 .5 .2 .5-.5 .5-.6 .5-.2 .5-2.1 .5-.7 0 .5 .5 .8 .5 .7 .5 1.1 .5 .5 .5 .2 .5 .5 .5 .2 .5-.3 .5-.6 .5-.3 .5 .9 .5-.4 .5-.5 .5 .7 .5 .5 .5-.5 .5-.2 .5 .9 .5-.2 .5-.4 .5-.5 .5-7.6 .5-36.7 .2-6.9 .3 19 .5 29.1 .5 2.7 .5 .1 .5 .2 .5 .5 .5 .2 .5 .1 .5 .6 .5-.4 .5-.5 .5-1.1 .5-2 .2-.9 .3 .1 .5 2.2 .5 1.2 .5 .7 .5-.8 .5-1.1 .5-3.1 .5-11 .2-3.6 .3 3.4 .5 11.8 .5 4.3 .5 .2 .5-.1 .5-.3 .5 .1 .5 1 .5 0 .5-.5 .5 .3 .5 0 .5-.3 .5 .1 .5 .2 .5-.5 .5 .1 .5 .2 .5 .1 .5-.1 .5 .1 .5-.7 .5-3.1 .4-2.1 .1 .2 .5 3.4 .5 1.5 .5 .7 .5 .5 .5-.2 .5-.2 .5 .1 .5 .1 .5-.2 .5 .2 .5 0 .5-.3 .5 .4 .5 .1 .5 .3 .5 .2 .5-.3 .5-.4 .5 .1 .5-.4 .5 .4 .5 .7 .5-.6 .5-1.7 .4-1.9 .1-.2 .5 1.9 .5 2 .5 .2 .5 .3 .5 .1 .5 0 .5-.1 .5-.1 .5-.1 .5-.4 .5-.3 .5 1 .5 .8 .5 0 .5 .1 .5-.7 .5-1 .5-.4 .5-.1 .5-.4 0-.1 .5 .4 .5 .5 .5 .7 .5 .2 .5 .3 .5 .3 .5-.1 .5 .4 .5-.1 .5-.4 .5 .5 .5-.7 .5 .1 .5 .1 .5-.6 .5 .9 .5 .3 .5-.4 .5 0 .5 0 .5 0 .5 .3 .5-.3 .5 0 .5 .2 .5 .3 .5-.1 .5-1 .5-.3 .5 .7 .5 .1 .5-.1 .5 .4 .5 .3 .5 .1 .5 .1 .5-.8 .5 .3 .5 .5 .5-.7 .5-1.2 .5-.5 .5-.4 .5-.4 .2-.4 .3-.1 .5 .2 .5 1.3 .5 1.2 .5 0 .5 .1 .5 0 .5 .9 .5 0 .5-.2 .5-.6 .5 .2 .5 .9 .5-.4 .5-.2 .5 .4 .5-.1 .5-.8 .5 .1 .5 .5 .5 .1 .5 0 .5-.4 .5-.6 .5-5 .5-11.5 0-.2 .5 7.1 .5 3.2 .5 4.8 .5 2 .5 .4 .5 .3 .5 .3 .5-.1 .5-.3 .5 .4 .5-.4 .5 .3 .5 0 .5 .4 .5 0 .5-.7 .5 .5 .5 .1 .5-.2 .5 .2 .5-.2 .5 0 .5-.1 .5 .5 .5 .2 .5-.1 .5-.2 .5 .8 .5 .1 .5-.8 .5-.3 .5 .1 .5 .4 .5 .1 .5-.8 .5-.4 .5 .7 .5 .2 .5 0 .5 0 .5-.5 .5 .2 .5 0 .5 .1 .5-.2 .5-4.5 .5-11.1 .1 .2 .4 6.3 .5 1.8 .5 3.4 .5 3 .5 1 .5 .3 .5-.2 .5 .2 .5-.3 .5 .1 .5 .2 .5-.8 .5-3.5 .3-1.2 .2 1.1 .5 1.6 .5 .6 .5 1.1 .5 .5 .5 .6 .5-.2 .5-.3 .5 .6 .5-.2 .5 .1 .5 .4 .5 0 .5-.4 .5-.4 .5 .6 .5-.2 .5-.6 .5 .1 .5 1 .5 0 .5-.1 .5 .1 .5-.3 .5-.4 .5 .7 .5 .3 .5 0 .5 .3 .5-.1 .5-.9 .5-.2 .5 .2 .5-2.3 .5-7.1 .2-1 .3 2.6 .5 2.7 .5 1.6 .5 2.4 .5 .8 .5-.2 .5-.2 .5 .5 .5 .3 .5 .6 .5 .3 .5-.4 .5-.2 .5-.3 .5-.2 .5 .2 .5 .2 .5 .2 .5 .2 .5 .3 .5-.7 .5-.5 .5 .4 .5 0 .5 .4 .5 .2 .5-.5 .5 .1 .5 .1 .5-.3 .5 .3 .5 .3 .5 .2 .5 0 .5-.1 .5-.4 .5-.8 .5-.5 .5 .8 .5 .9 .5-.5 .5-.8 .5 .5 .5 .2 .5-.4 .5 .4 .5 0 .5 .4 .5 .2 .5 .4 .5-1.1 .5-.4 .5-1.9 .5-3.6 .2-.6 .3 1.3 .5 1.8 .5 .4 .5 1.6 .5 .7 .5 .4 .5 .6 .5 .5 .5 0 .5-.2 .5-.3 .5 .1 .5-.2 .5 .3 .5 .2 .5-.3 .5-.2 .5 .1 .5 .2 .5-.3 .5-.4 .5 .2 .5 .2 .5 .6 .5-.4 .5-.5 .5 .5 .5 .4 .5-.2 .5-.2 .5 .1 .5 .2 .5 .2 .5 .1 .5 .3 .5-.5 .5 .2 .5-.6 .5-.7 .5-.1 .5-.1 .5 .3 .5 .8 .5-.1 .5 0 .5-.3 .5 0 .5 0 .5 .4 .5-.2 .5-.1 .5 .3 .5 .7 .5-.3 .5-.3 .5-.7 .5 .1 .5 .2 .5-.3 .5 .7 .5 0 .5-.3 .5-.1 .5-.1 .5 0 .5 .5 .5-.2 .5-.7 .5-4.8 .5-18.1 .2-2.9 .3 8.3 .5 8.3 .5-.8 .5 6.9 .5 2.4 .5 .7 .5 .4 .5 0 .5-.1 .5 .4 .5-.2 .5-.2 .5-.5 .5 .4 .5-.1 .5 .7 .5 .1 .5-.3 .5 .2 .5 0 .5 0 .5 .1 .5-.2 .5-.2 .5 .1 .5 .7 .5-.3 .5-.1 .5 .1 .5-.3 .5 0 .5 .4 .5 .2 .5-.3 .5-.7 .5 .3 .5 .2 .5 .1 .5-.5 .5-.1 .5 .2 .5-.2 .5 0 .5 .5 .5 .3 .5 0 .5 0 .5-.4 .5 .2 .5-.1 .5-.4 .5 .1 .5-.1 .5 .1 .5 .2 .5 .4 .5-.4 .6-.5 .5 .4 .5 .3 .5 0 .5 .1 .5-.5 .5 .1 .5 .7 .5-.2 .5-.1 .5 .1 .5-.1 .5-.2 .5 0 .5 .2 .5-.5 .5-.8 .5-2.7 .4-2.5 .1-.2 .5 3.1 .5 1.1 .5 .1 .5 .7 .5 1.5 .5 .5 .5-1.2 .5-.5 .5 .8 .5 .5 .5 .3 .5 0 .5-.2 .5 .1 .5-.1 .5-.1 .5-.1 .5 .1 .5 .2 .5-.1 .5-.1 .5 .2 .5-.4 .5 0 .5 0 .5-.5 .5 .4 .5 .6 .5-.1 .5-.6 .5-.2 .5 .1 .5 .3 .5-.1 .5-.2 .5 .4 .5 .1 .5-.1 .5-.2 .5-.1 .5-.2 .5 .5 .5 .2 .5-.3 .5-.1 .5 .7 .5-.1 .5-.8 .5 .4 .5-.1 .5-.6 .5 .8 .5 .4 .5-.1 .5-.2 .5-.4 .5 .1 .5 .5 .5 .1 .5-.5 .5 0 .5 .1 .5-.6 .5 .5 .5-.2 .5-.4 .5 .6 .5 0 .5 .4 .5 .1 .5-.8 .5-.2 .5 .2 .5-.2 .5 .6 .5 .2 .5-.2 .5-.7 .5 .3 .5-.3 .5-2.4 .5-8.3 .2-3.7 .3 2.7 .5 7.5 .5-.6 .5 1.1 .5 3 .5 1.1 .5 .5 .5-.3 .5 .1 .5 .3 .5 .1 .5 .3 .5 .1 .5 0 .5-.4 .5-.1 .5-.3 .5 .5 .5 .5 .5-.1 .5-1 .5 0 .5 .3 .5-.3 .5 .3 .5 .1 .5-.4 .5-.2 .5 0 .5 .5 .5 .4 .5 .1 .5 .2 .5-1.1 .5 0 .5 .3 .5-.3 .5 .4 .5 .2 .5-.2 .5-.1 .5 .3 .5 0 .5 .1 .5-.2 .5-.5 .5-.2 .5 .2 .5 .3 .5 .1 .5 .2 .5 0 .5 .1 .5-.4 .5-.2 .5 .4 .5-.1 .5-.4 .5 .3 .5 .4 .5-1.3 .5 .6 .5-.2 .5-.8 .5-.7 .4 .1 .1 .6 .5-.2 .5 .4 .5 .9 .5 .1 .5-.1 .5-.2 .5-.1 .5 .5 .5-.6 .5-.3 .5 1 .5 .3 .5-.3 .5-.1 .5 .2 .5-.7 .5-.4 .5 .8 .5 .4 .5 .2 .5 .4 .5-.4 .5-.5 .5 0 .5 .3 .5-.3 .5-.3 .5-.4 .5 .2 .5 0 .5 .4 .5 .2 .5 .3 .5 .3 .5-.4 .5 0 .5-.5 .5 .2 .5 .6 .5 0 .5-.8 .5 0 .5 .2 .5-.2 .5-.4 .5-.3 .5 .2 .5 .3 .5 .1 .5 .9 .5-.3 .5-1 .5 .3 .5 .9 .5 .1 .5-.4 .5-1 .5-.2 .5-2.9 .5-5.9 0-.2 .5 5.7 .5 2.3 .5-2.1 .5 .9 .5 1 .5-6 .3-3.1 .2 1.8 .5 6.1 .5 .2 .5-1.6 .5 2.6 .5 1.4 .5 .8 .5 0 .5-.3 .5-.2 .5 .1 .5-.2 .5 .1 .5 .8 .5 .1 .5-.1 .5-.9 .5-.5 .5 .3 .5 .9 .5 0 .5-.6 .5 .6 .5-.3 .5-.3 .5 .4 .5 .2 .5-.2 .5 0" fill="none" stroke="#0b6fff" stroke-width="1.6" stroke-linejoin="round"/>
<path d="M1.8 882.4l.5-.2 .5 .2 .5-.1 .5 .5 .5-.1 .5 .2 .5-.5 .5 .3 .5-.6 .5-.3 .5 .3 .5 0 .5-.4 .5-.1 .5 .5 .5-.4 .1-.7 .4 .4 .5 .9 .5 0 .5 .5 .5 .5 .5-.4 .5 .2 .5 .1 .5 .5 .5 .2 .5-.2 .5 .5 .5 .4 .5 .3 .5-.5 .5-.1 .5 .4 .5-.1 .5 .4 .5 .2 .5-.3 .5 .1 .5-.4 .5-.5 .5 .3 .5 .2 .5 .6 .5 .1 .5 .3 .5 .3 .5 .3 .5-.3 .5 0 .5 .5 .5 .4 .5-.4 .5-.1 .5-.1 .5-.3 .5-.2 .5 .3 .5-.2 .5-1.8 .5-5.6 .4-4.3 .1 .1 .5 6.6 .5 4.9 .5 1.1 .5 .7 .5-.2 .5 .3 .5 .2 .5-.2 .5 .2 .5-.2 .5-.3 .5 .2 .5 .6 .5 .4 .5-.4 .5 0 .5-.2 .5 .1 .5-.3 .5 .2 .5 .3 .5 0 .5 .3 .5 .4 .5-.2 .5-.4 .5-.1 .5 .5 .5 .6 .5-.2 .5 0 .5 .4 .5 .2 .5 0 .5-.4 .5-.4 .5-.2 .5 .4 .5 .4 .5 .5 .5-.1 .5-.1 .5 .2 .5-.5 .5-.2 .5 .1 .5 .2 .5 .2 .5 0 .5 .2 .5 .5 .5-.7 .5-.3 .5-.2 .5-1.9 .5-3.8 .4-1.9 .1 .2 .5 3.7 .5 3.5 .5 .7 .5 0 .5 .8 .5 .1 .5 .5 .5 .6 .5 0 .5 .1 .5-.7 .5 .3 .5 .4 .5 0 .5-.3 .5 .2 .5 .1 .5-.1 .5-.5 .5 0 .5 .9 .5 .2 .5 0 .5 .3 .5 0 .5-.5 .5 .6 .5 .5 .5-.1 .5-.1 .5-.2 .5-.6 .5 .3 .5 .8 .5 .3 .5-.4 .5-.4 .5 .2 .5 .6 .5 .5 .5-.4 .5-.5 .5 .3 .5 .4 .5 .5 .5-.4 .5-.4 .5-.2 .5-.4 .5 0 .5 .2 .5-.2 .5-.5 .5-1.1 .3 .1 .2 .3 .5 .9 .5 .5 .5 .1 .5 .8 .5 .2 .5-.3 .5 0 .5 .2 .5 .6 .5 .1 .5 0 .5-.3 .5 .7 .5-.8 .5-.3 .5 .4 .5 .2 .5 .6 .5-.5 .5-.2 .5 .7 .5 .1 .5-.7 .5 0 .5 .1 .5 .3 .5 .7 .5 0 .5-.2 .5-.8 .5-1.6 .4-.5 .1-.3 .5 1.1 .5 1.5 .5-.2 .5 .3 .5 0 .5-.3 .5 .5 .5 .4 .5 .1 .5-.2 .5 .4 .5 .1 .5-.1 .5-.7 .5 .2 .5 .3 .5 .3 .5-.3 .5-.1 .5-.2 .5 0 .5 .3 .5 .5 .5-.6 .5-.4 .5 .7 .5 .2 .5 .2 .5-.3 .5-1 .5-1.1 .5-.7 .1 .1 .4 .5 .5 1.5 .5 1.1 .5-.2 .5-.1 .5 .2 .5 .5 .5 .3 .5 .3 .5-.3 .5-.2 .5-.2 .5-.4 .5 .3 .5-.2 .5-9.8 .5-34.6 .1-2.2 .4 25.1 .5 20.2 .5 .8 .5 .4 .5 .8 .5 .3 .5 0 .6 .2 .5-.4 .5 0 .5-.2 .5-.2 .5 .3 .5-.1 .5-.2 .5-.8 .5-1.1 .5-4.3 .2-1.4 .3 1.2 .5 4.6 .5 2.4 .5 .6 .5 0 .5 0 .5-.2 .5-.3 .5-.4 .5 .4 .5 .7 .5-.2 .5-.4 .5 .1 .5 0 .5-1.1 .5-1 .2-.7 .3 .5 .5 1.4 .5 .8 .5 .3 .5-.2 .5-.7 .5 .4 .5-.5 .5-1.3 .1-.3 .4-.1 .5 1.5 .5 1 .5 .3 .5 .4 .5-.1 .5-.3 .5 .3 .5-.4 .5-1.4 .5-1.5 .3-.5 .2 0 .5 1.4 .5 2 .5 .5 .5-.1 .5 .1 .5 0 .5-.3 .5 0 .5 .1 .5-.3 .5-.3 .5-.8 .5-.7 .5-.2 0-.2 .5 .3 .5 .9 .5 .6 .5 .4 .5 .9 .5-.5 .5-.3 .5 .6 .5 .1 .5-.4 .5-.4 .5 .2 .5 .9 .5-.3 .5-.1 .5 .6 .5-.6 .5-.3 .5 .4 .5 .1 .5-.4 .5-8.6 .5-42.7 .2-8.8 .3 21.7 .5 34.3 .5 3.6 .5 .4 .5 .8 .5 .3 .5-.5 .5-.3 .5 0 .5 0 .5-.3 .5-.3 .5-2.3 .2-.2 .3-.1 .5 1 .5 1 .5 .6 .5 0 .5-.8 .5-4.7 .5-13.3 .2-4.2 .3 3.1 .5 14.9 .5 5.2 .5 .3 .5 .3 .5 .6 .5-.2 .5-.3 .5 .5 .5 0 .5 .4 .5-.9 .5-.5 .5 .8 .5 .7 .5-.2 .5-.3 .5-.2 .5 .2 .5-.5 .5 .3 .5-.9 .5-2.4 .4-2 .1 .4 .5 3.2 .5 1.3 .5 .4 .5 .2 .5 .3 .5-.5 .5 .4 .5 .7 .5 .2 .5-1.1 .5-.1 .5 .5 .5 .4 .5-.5 .5 .2 .5-.3 .5-.4 .5-.1 .5 .7 .5 .4 .5-.6 .5-.9 .5-.4 .5-2.9 .4-2.9 .1 0 .5 4.1 .5 2.1 .5 .8 .5 1.2 .5-.2 .5-.5 .5-.4 .5-.4 .5 .7 .5-.6 .5-.1 .5 1 .5 .5 .5-.4 .5 0 .5-.2 .5-.2 .5-.7 .5 .1 .5-.9 0-.1 .5 .1 .5 1.6 .5 .7 .5 .4 .5-.5 .5 .2 .5-.2 .5 .1 .5 .3 .5-.4 .5 .5 .5 .6 .5 0 .5-.3 .5-.5 .5-.3 .5 .5 .5-.2 .5 .3 .5-.3 .5 0 .5 .1 .5 .1 .5-.2 .5 0 .5 0 .5 .3 .5 0 .5-.1 .5-.3 .5 .3 .5 .1 .5 .1 .5-.2 .5-.3 .5 .4 .5-.2 .5-.2 .5-.6 .5 .4 .5-.4 .5-1.2 .5-.8 .5-.7 .2 .4 .3-.1 .5 .3 .5 1 .5 .5 .5 1 .5 .8 .5 .2 .5-.2 .5-.1 .5 .1 .5-.1 .5 .4 .5 .3 .5-.1 .5-.1 .5-.5 .5 .1 .5 .5 .5 .6 .5-.1 .5-.1 .5-.5 .5-.3 .5-1.3 .5-5.3 .5-12.1 0 .8 .5 7.5 .5 3.3 .5 4.7 .5 1.8 .5 .3 .5 .7 .5 .5 .5-.2 .5-.5 .5-.1 .5 0 .5 .2 .5 .1 .5-.1 .5 0 .5-.1 .5 .8 .5 .1 .5 .1 .5-.3 .5-.3 .5 .1 .5 0 .5-.3 .5 .3 .5 .8 .5-.3 .5-.5 .5 .1 .5-.1 .5 .4 .5-.4 .5 .3 .5-.1 .5-.2 .5-.2 .5 0 .5-.1 .5 .1 .5 .7 .5 .5 .5-.7 .5 0 .5-.5 .5-.6 .5-3.5 .5-10.8 .1-.4 .4 6 .5 2.2 .5 3.7 .5 3 .5 .8 .5-.7 .5 .7 .5 .6 .5 0 .5-.3 .5-.3 .5-.3 .5-3.6 .3-1.7 .2 1.3 .5 1.3 .5 .2 .5 2.1 .5 .6 .5-.2 .5 .1 .5-.1 .5-.1 .5 .8 .5 .3 .5 .5 .5-.6 .5-.4 .5-.3 .5 .4 .5-.2 .5 .4 .5 .3 .5-.2 .5-.6 .5 0 .5 .6 .5 .4 .5 0 .5-.5 .5 0 .5 .4 .5-.5 .5 0 .5-.4 .5-.7 .5-.2 .5-1.9 .5-8.4 .2-1.4 .3 2.9 .5 3.6 .5 2.1 .5 2.8 .5 .5 .5 .8 .5 .7 .5-.5 .5 .2 .5 0 .5 .1 .5-.6 .5-.1 .5 .5 .5-.2 .5 .1 .5 .2 .5 .3 .5-.1 .5-.2 .5-.5 .5-.3 .5 .4 .5 .7 .5 .1 .5-.1 .5-.5 .5-.1 .5 .6 .5 0 .5-.2 .5-.4 .5 .1 .5 .5 .5 0 .5-.5 .5 .1 .5-.1 .5 .6 .5 .3 .5 .4 .5-.3 .5-.8 .5 0 .5-.1 .5 .2 .5 .2 .5-.2 .5-.2 .5-.4 .5 .4 .5-.2 .5-1.6 .5-4 .2-1 .3 1.2 .5 2 .5 1.2 .5 1.4 .5 .6 .5 .1 .5-.2 .5 .2 .5 .2 .5 .2 .5 0 .5-.1 .5-.2 .5-.3 .5 .6 .5 .4 .5 .2 .5 0 .5-.4 .5-.2 .5-.1 .5 0 .5 .4 .5 .2 .5-.8 .5 .1 .5 .3 .5-.2 .5 .1 .5-.3 .5 0 .5-.1 .5 .4 .5 0 .5 .3 .5-.3 .5-.2 .5 .1 .5 .3 .5 0 .5-.1 .5-.1 .5 .3 .5 .1 .5-.3 .5 0 .5-.2 .5 .5 .5 0 .5-.3 .5-.3 .5-.2 .5 .4 .5 0 .5-.4 .5 .3 .5 .5 .5-.1 .5-.1 .5-.1 .5 .3 .5-.1 .5 .4 .5 0 .5-1.2 .5-.1 .5 .1 .5-.6 .5-3.9 .5-18 .2-2.9 .3 8.8 .5 7.9 .5-1.5 .5 7.2 .5 3.2 .5 .7 .5 0 .5 .1 .5-.1 .5-.3 .5-.4 .5 .4 .5 .1 .5-.5 .5-.1 .5 .4 .5 .1 .5-.4 .5 .6 .5 .3 .5-.3 .5 .1 .5 0 .5-.2 .5 .3 .5-.1 .5-.4 .5 .5 .5 .1 .5-.5 .5 .4 .5-.3 .5-.5 .5 0 .5 .2 .5 .5 .5-.2 .5-.2 .5-.2 .5 .2 .5-.2 .5 .2 .5 .6 .5 0 .5-.4 .5 .1 .5 .2 .5 0 .5 .4 .5 .1 .5-.7 .5-.4 .5 .4 .5 .6 .5 .1 .5 0 .5-.2 .6-.5 .5 .2 .5 .3 .5-.1 .5-.1 .5-.7 .5 .1 .5 1 .5-.1 .5-.1 .5 .4 .5 .4 .5-.3 .5-1.5 .5 .3 .5 .1 .5-2 .5-3.4 .4-1.5 .1 .9 .5 2.8 .5 1 .5 .2 .5 1.6 .5 .9 .5-.2 .5-.2 .5-.4 .5-.8 .5 .7 .5-.2 .5 .3 .5 .7 .5-.2 .5-.6 .5 .6 .5 .3 .5-.1 .5 .1 .5-.2 .5-.7 .5 .3 .5 0 .5-.2 .5 .2 .5 0 .5 .1 .5 0 .5 .7 .5 .3 .5-.7 .5-.2 .5 .2 .5 0 .5-.4 .5-.5 .5 .6 .5 .1 .5-.3 .5 .1 .5 .1 .5 .2 .5-.1 .5 0 .5 .1 .5 .1 .5 .1 .5 .3 .5-.4 .5-.1 .5 .5 .5-.1 .5 0 .5-.5 .5 .4 .5 .5 .5-.1 .5-.6 .5-.4 .5 0 .5 0 .5-.2 .5 0 .5-.1 .5 .1 .5 .2 .5-.3 .5 .5 .5 .2 .5-.5 .5-.1 .5 .4 .5 .2 .5-.1 .5-.7 .5 .5 .5 .6 .5-.2 .5 .3 .5-.3 .5-2.7 .5-9 .2-3.9 .3 2.4 .5 8 .5-1.5 .5 .7 .5 4 .5 1.8 .5 .3 .5-.4 .5 .2 .5-.2 .5-.7 .5 .6 .5-.3 .5 0 .5 .9 .5 .2 .5-.9 .5-.3 .5 .1 .5 .2 .5 0 .5-.2 .5 0 .5 .9 .5-.4 .5-.2 .5 .4 .5-.1 .5 .4 .5 .1 .5-.2 .5-.3 .5-.1 .5-.6 .5 0 .5 .5 .5 .2 .5 .3 .5-.5 .5-.5 .5 .4 .5 .2 .5-.1 .5-.4 .5 .1 .5 .5 .5 .3 .5 0 .5-.2 .5-.6 .5 .2 .5 .4 .5 .2 .5-.2 .5-.2 .5-.1 .5-.1 .5-.3 .5 .4 .5 .4 .5-.3 .5-.9 .5-.1 .5-.6 .5 .2 .4-.1 .1-.2 .5-.2 .5 0 .5 .8 .5 .5 .5-.2 .5 .4 .5 .8 .5-.6 .5 0 .5-.3 .5 .5 .5 .4 .5 0 .5 .3 .5 0 .5-.9 .5 .2 .5 .3 .5 .2 .5 .2 .5-.2 .5 .2 .5-.1 .5-.3 .5-.1 .5-.3 .5 .2 .5 .1 .5-.2 .5 0 .5 .4 .5 0 .5 .6 .5-.1 .5-.5 .5-.3 .5 .3 .5-.1 .5-.3 .5-.2 .5 .4 .5 0 .5-.3 .5-.2 .5 0 .5-.2 .5 .4 .5 .5 .5-.1 .5 .4 .5-.7 .5 .4 .5 .3 .5-.1 .5-.5 .5-.6 .5 .6 .5-.3 .5-4.2 .5-6.1 0 .7 .5 5.1 .5 2.3 .5-1.3 .5 1 .5 .3 .5-6.1 .3-2.7 .2 1.5 .5 6.4 .5-.4 .5-1.5 .5 2.6 .5 2.6 .5 .2 .5-.3 .5 0 .5-.5 .5 .3 .5-.1 .5-.3 .5 .4 .5 .2 .5-.3 .5 0 .5-.1 .5 .3 .5-.3 .5 .7 .5 .3 .5 .2 .5 .2 .5-.5 .5-.2 .5 .1 .5-.5 .5-.5" fill="none" stroke="#ff0000" stroke-width="1.6" stroke-linejoin="round"/>
<path d="M1.8 925.3l.5 0 .5 .4 .5-.1 .5 .1 .5 .3 .5 .1 .5 .3 .5-.8 .5-.5 .5 .3 .5-.5 .5-.1 .5 .1 .5-.2 .5-.2 .5-.3 .1 0 .4 .4 .5-.2 .5 .2 .5 .7 .5 .9 .5 .3 .5-.1 .5-.1 .5 .2 .5 .8 .5 .2 .5-.1 .5-.3 .5 .5 .5 .2 .5 .3 .5 .2 .5-.3 .5-.1 .5 .2 .5-.2 .5 .7 .5-.2 .5-.3 .5 .7 .5 .4 .5 .1 .5-.1 .5-.2 .5-.3 .5-.2 .5 .6 .5 .1 .5-.2 .5 .1 .5-.1 .5 .5 .5-.1 .5-.1 .5-.1 .5 .3 .5-.4 .5-1.6 .5-4 .4-2.6 .1 .3 .5 3.8 .5 3.4 .5 1.7 .5-.1 .5 .1 .5-.1 .5 .5 .5 .5 .5-1 .5 .4 .5 .2 .5-.1 .5-.2 .5 .1 .5 .8 .5-.1 .5-.5 .5 .1 .5 .2 .5 1.1 .5-.5 .5-.7 .5 .7 .5 .3 .5-.1 .5-.1 .5-.2 .5-.1 .5-.2 .5 1.2 .5 .5 .5-.4 .5-.3 .5-.5 .5 0 .5-.1 .5 .2 .5 .8 .5 .4 .5 0 .5 .6 .5-.6 .5-1.1 .5 .6 .5 .8 .5-.1 .5-.1 .5-.5 .5 .5 .5-.3 .5 .5 .5 .6 .5-.7 .5-.8 .5-1.8 .5-4 .4-1.3 .1 .6 .5 2.5 .5 3.1 .5 2 .5-.1 .5 .5 .5 .4 .5-.4 .5-.2 .5 .4 .5 .1 .5 1 .5 0 .5-.9 .5 .1 .5-.1 .5 .3 .5-.2 .5-.1 .5 .3 .5-.3 .5 .4 .5 .1 .5 0 .5 .5 .5-.1 .5-.2 .5 .1 .5 .2 .5 .3 .5-.6 .5-1 .5-.1 .5 .7 .5 .4 .5 .2 .5-.1 .5 .3 .5 .6 .5-.4 .5 .4 .5 .2 .5 .4 .5-.1 .5-.1 .5 .2 .5-.3 .5-.4 .5 .5 .5 .2 .5-.2 .5 0 .5-.4 .5-.7 .5-1.5 .3-.7 .2 .7 .5 2.1 .5 1 .5 .4 .5-.4 .5-.3 .5 0 .5 .5 .5 .5 .5 0 .5-.1 .5-.3 .5 0 .5 0 .5 .5 .5 0 .5-.4 .5-.1 .5-.3 .5 .6 .5-.1 .5 .1 .5 .5 .5 0 .5-.1 .5 .7 .5 .4 .5-.2 .5-.3 .5-.4 .5-.6 .5-2 .4-.8 .1 .5 .5 1.2 .5 1.1 .5 .9 .5-.7 .5-.3 .5 .8 .5 .9 .5-.1 .5-.2 .5-.1 .5 .2 .5 0 .5-.1 .5-.3 .5-.2 .5 .6 .5 0 .5 .1 .5 .3 .5 0 .5-.4 .5 .4 .5 .2 .5-.4 .5 0 .5-.1 .5-.3 .5-.1 .5-.1 .5-.2 .5-1.5 .5-.8 .1 .4 .4 .8 .5 .7 .5 .7 .5 .8 .5 .2 .5-.5 .5 .4 .5-.4 .5 .5 .5-.1 .5 .1 .5 .5 .5 .4 .5 .1 .5-.8 .5-10.7 .5-34.3 .1-1.1 .4 24.7 .5 19.6 .5 1.7 .5 .3 .5 .5 .5-.5 .5-.5 .6 .2 .5 .2 .5 .6 .5 .4 .5-.1 .5-.2 .5-.7 .5-.4 .5-.2 .5-1.8 .5-5.4 .2-1.5 .3 1.5 .5 5.6 .5 2.6 .5-.1 .5 .3 .5 .1 .5 .3 .5-.3 .5-.2 .5 0 .5-.2 .5 0 .5 .5 .5-.1 .5 .3 .5-.6 .5-2 .2-.2 .3-.1 .5 .7 .5 1.6 .5 .7 .5-.6 .5 0 .5-.3 .5-1.3 .5-.8 .1 0 .4 .6 .5 1.1 .5 .4 .5 .7 .5 .4 .5-.2 .5 .2 .5-.3 .5-1 .5-.7 .5-2.3 .3-.4 .2 .6 .5 1.5 .5 1.6 .5 .9 .5-.1 .5 .7 .5 .5 .5-.4 .5-1 .5-.3 .5 .7 .5 .4 .5-1.3 .5-1.4 .5-.5 0 .4 .5 .6 .5 .7 .5 .7 .5 .6 .5 0 .5-.3 .5-.3 .5 .5 .5 0 .5 .1 .5-.1 .5 0 .5 .5 .5 .3 .5-.3 .5-.3 .5 .2 .5 .1 .5-.2 .5-.2 .5-1 .5-7.5 .5-42.8 .2-8.8 .3 21.2 .5 35.2 .5 4.4 .5 0 .5-.6 .5 .2 .5-.2 .5-.2 .5 0 .5 .7 .5 .2 .5-1.9 .5-2.4 .2-.1 .3 .1 .5 2.2 .5 1.7 .5 .4 .5-.4 .5-.6 .5-3.4 .5-9.7 .2-2.5 .3 2.1 .5 9.7 .5 4.5 .5 .7 .5-.8 .5 .5 .5 .2 .5-.5 .5-.2 .5 .3 .5 .2 .5 .2 .5-.2 .5 .3 .5-.2 .5 .5 .5 .1 .5-.2 .5-.6 .5-.3 .5-.1 .5-1.8 .5-8.2 .4-6.6 .1 .4 .5 8.9 .5 6.1 .5 1.2 .5-.1 .5 .2 .5 .3 .5 .6 .5 0 .5 0 .5-.5 .5 .3 .5 .2 .5-.4 .5 0 .5 .2 .5 .3 .5-.1 .5-.3 .5 .4 .5 .2 .5-.2 .5-.3 .5-.2 .5-1.2 .4-1.6 .1-.3 .5 2.4 .5 .9 .5 .2 .5 .6 .5 .3 .5 .3 .5-.6 .5 0 .5 .2 .5-.2 .5-.2 .5 .1 .5 0 .5 0 .5-.2 .5-.3 .5 .4 .5-.7 .5-.8 .5-.5 0 .3 .5 .9 .5 .9 .5 .2 .5 0 .5-.1 .5 .1 .5 .2 .5-.2 .5-.1 .5 .1 .5 .2 .5 .8 .5-.4 .5-.4 .5 .2 .5-.3 .5 .3 .5 .7 .5-.1 .5-.9 .5-.2 .5 .6 .5 .8 .5-.4 .5-.3 .5 0 .5 .6 .5-.3 .5-.9 .5-.1 .5-.1 .5 .2 .5 .1 .5 0 .5 .3 .5 .6 .5 .2 .5-.3 .5-.3 .5-.6 .5 .3 .5-.5 .5-1.7 .5-.8 .2-.4 .3-.3 .5 1.6 .5 1 .5 .2 .5 .9 .5 .9 .5-.1 .5-.6 .5 .1 .5 .2 .5 .2 .5-.1 .5 .2 .5-.1 .5-.3 .5 .5 .5 .1 .5-.2 .5 .6 .5 .2 .5-1 .5 .2 .5 .2 .5-.9 .5-4.8 .5-9.9 0-.6 .5 6.2 .5 3 .5 4.7 .5 1.1 .5 .5 .5 .5 .5 .4 .5 .3 .5 .1 .5-.4 .5-.2 .5 .1 .5-.1 .5 0 .5 .2 .5 .3 .5 .1 .5-.5 .5 0 .5 .3 .5 0 .5 .1 .5 .2 .5-.4 .5-.3 .5 .7 .5-.2 .5 .5 .5-.1 .5-.3 .5-.5 .5 .4 .5 0 .5-.1 .5 .4 .5 .3 .5-.1 .5-.7 .5 .1 .5 .7 .5 0 .5-.2 .5-.4 .5 0 .5-.4 .5-4.4 .5-10.2 .1 .2 .4 6.3 .5 1.9 .5 3.7 .5 2 .5 .4 .5 .6 .5-.2 .5 .2 .5 0 .5 .1 .5-.6 .5-1 .5-3.5 .3-.9 .2 1.8 .5 2 .5 .5 .5 1.5 .5 .7 .5-.1 .5 .3 .5 .2 .5-.2 .5-.2 .5 0 .5-.1 .5-.1 .5-.4 .5 .2 .5 .7 .5-.5 .5-.4 .5 .9 .5 .3 .5-.6 .5-.3 .5 .8 .5 .1 .5-.2 .5-.4 .5 0 .5-.2 .5-.2 .5-.3 .5 0 .5 .1 .5 .1 .5-1.7 .5-6.8 .2-1.6 .3 2.9 .5 2.4 .5 1.8 .5 2.4 .5 .7 .5-.1 .5 .2 .5 .4 .5-.9 .5 .3 .5 .9 .5-.2 .5-.3 .5-.3 .5 0 .5 .5 .5 0 .5 .1 .5 0 .5-.8 .5 0 .5 .3 .5 .5 .5 0 .5-.4 .5 .1 .5 .1 .5 .2 .5 .4 .5-.5 .5-.3 .5-.5 .5 .5 .5 .4 .5 .1 .5-.3 .5-.3 .5-.1 .5 .5 .5 .6 .5-1.1 .5-.3 .5 .6 .5 .1 .5 .3 .5-.3 .5 .5 .5-.5 .5-.8 .5-.2 .5 .3 .5 .1 .5-1.3 .5-3.5 .2 .5 .3 .6 .5 1.3 .5 .9 .5 2.1 .5 0 .5 .4 .5 .2 .5-.5 .5 .1 .5 .1 .5 .5 .5 .2 .5-.4 .5-.4 .5-.1 .5 1.1 .5 0 .5-.3 .5 0 .5-.6 .5-.3 .5 .4 .5-.4 .5 .1 .5 .2 .5-.5 .5 .3 .5 0 .5-.4 .5 0 .5 .4 .5 .1 .5 0 .5-.4 .5 .2 .5-.2 .5 .2 .5 .5 .5-.3 .5-.2 .5 0 .5 .3 .5 .3 .5-.2 .5 0 .5-.4 .5 .4 .5 0 .5-.1 .5-.3 .5 .1 .5 .2 .5-.2 .5 .3 .5-.1 .5 0 .5-.5 .5-.1 .5 .8 .5 .2 .5-.2 .5 0 .5-.1 .5 .1 .5-.3 .5-.3 .5 .1 .5-.6 .5-3 .5-15.9 .2-3.3 .3 7.8 .5 7.2 .5-1.1 .5 6 .5 2.1 .5-.1 .5 .6 .5 .7 .5 .1 .5-.7 .5 .5 .5 .3 .5-.4 .5 .6 .5-.5 .5-.1 .5 .3 .5 .6 .5-.1 .5-.4 .5-.5 .5-.3 .5 .3 .5 .1 .5-.1 .5-.2 .5 .9 .5 .3 .5 0 .5-.6 .5-.3 .5-.1 .5 .5 .5 .1 .5 .5 .5-.1 .5-.2 .5-.3 .5-.5 .5 .3 .5-.4 .5 .5 .5 .1 .5-.5 .5 0 .5 .3 .5 .2 .5 .1 .5-.2 .5-.3 .5 .6 .5 .6 .5-.6 .5 .1 .5-.7 .5 .1 .5 .7 .6 .2 .5 .1 .5-.4 .5-.5 .5 0 .5 .1 .5 .4 .5 .1 .5-.1 .5-.5 .5-.2 .5 0 .5 0 .5 .2 .5 .4 .5-.3 .5-.9 .5-3.8 .4-3.1 .1 .1 .5 3.4 .5 1.5 .5 .1 .5 1 .5 1.2 .5 .3 .5 .4 .5 .2 .5-.3 .5-.4 .5-.2 .5 .3 .5 .2 .5 .1 .5-.3 .5 0 .5 .4 .5 .2 .5-.3 .5-.4 .5 .4 .5 .6 .5-.8 .5 0 .5 .3 .5-.4 .5 .2 .5 .6 .5-.2 .5-.8 .5 .4 .5-.1 .5-.2 .5 .5 .5-.2 .5-.1 .5 0 .5 .5 .5 .2 .5 .2 .5 .3 .5-.5 .5-.5 .5 .2 .5 .1 .5-.3 .5-.6 .5 .9 .5 .7 .5-.5 .5-.3 .5 .7 .5 0 .5 .1 .5-.3 .5-.8 .5-.4 .5 .5 .5 .3 .5-.4 .5-.2 .5 .5 .5-.1 .5 .4 .5-.3 .5 0 .5-.1 .5 .2 .5-.2 .5-.8 .5 .3 .5 .2 .5 0 .5 .3 .5 .2 .5-.4 .5 .1 .5-.2 .5-.5 .5-.5 .5-1.9 .5-8.5 .2-2.9 .3 3.1 .5 7.4 .5-1.5 .5 .4 .5 3.6 .5 .8 .5 .2 .5 .4 .5 0 .5 .3 .5 0 .5-.3 .5 0 .5 .2 .5 .1 .5 .1 .5 .2 .5-.6 .5-.5 .5 0 .5 .1 .5 .2 .5 .5 .5 .4 .5-.7 .5-.3 .5 .1 .5-.1 .5 .2 .5 .6 .5 .2 .5-.6 .5 .1 .5 .4 .5-.2 .5-.1 .5 0 .5-.1 .5-.2 .5 .3 .5-.3 .5 0 .5 .1 .5-.2 .5 .4 .5-.4 .5 0 .5 .5 .5 .2 .5 .2 .5-.1 .5-.7 .5-.1 .5-.2 .5 .2 .5 .6 .5-.1 .5 0 .5-.1 .5-.1 .5 .1 .5-.5 .5-.2 .5-.8 .5-.5 .4 .5 .1-.4 .5 .3 .5 .2 .5 .6 .5 .8 .5 .1 .5-.1 .5 .1 .5 .1 .5 .1 .5-.1 .5 0 .5-.1 .5 0 .5 0 .5-.7 .5 .5 .5 .1 .5-.1 .5-.1 .5-.1 .5 .2 .5-.5 .5-.1 .5 .3 .5 .7 .5-.2 .5-.4 .5-.3 .5 .4 .5 .3 .5-.5 .5 .2 .5 .2 .5 .2 .5 .3 .5 .2 .5-.6 .5-.3 .5-.1 .5 .4 .5-.1 .5 .1 .5 0 .5-.2 .5-.1 .5 .1 .5 0 .5 0 .5-.1 .5 .1 .5 .3 .5-.5 .5 0 .5 .2 .5 .1 .5-.4 .5-.3 .5-.3 .5-2.7 .5-5 0-.1 .5 4.9 .5 2.4 .5-2.4 .5-.1 .5 .7 .5-4.8 .3-2.5 .2 1.2 .5 6.1 .5-.2 .5-1.1 .5 2.2 .5 1.8 .5 .2 .5 0 .5 .5 .5-.6 .5-.2 .5 .1 .5 .7 .5 .2 .5-.7 .5-.5 .5 .9 .5 .5 .5-.7 .5 .2 .5 .2 .5-.4 .5-.4 .5 .2 .5 .1 .5 .1 .5-.4 .5 .4 .5 .1" fill="none" stroke="#808080" stroke-width="1.6" stroke-linejoin="round"/>
<path d="M563.8 947.0l.5 .3 .5 1 .5 .6 .5 .3 .5 .5 .5-1.2 .5-.9 .5 .2 .5-.4 .5-.4 .5 1.2 .5-.4 .5 .1 .5 1 .5-.8 .5-.2 .5 1 .5 .2 .5-1.5 .5-.2 .5 .7 .5 .7 .5 .1 .5 0 .5-.9 .5 .5 .5 .5 .5-.9 .5 .6 .5-.3 .5 .1 .5-.2 .5 .7 .5 .2 .5-.1 .5 .3 .5-.7 .5 .2 .5-.3 .5 .7 .5 0 .5-.4 .5 .7 .5-.7 .5-.7 .5 .5 .5 .7 .5-.1 .5 .4 .5 .3 .5-.3 .5-.3 .5-.1 .5 .2 .5 .2 .5-.8 .5 0 .5 .2 .5-.4 .5 .5 .5-.1 .5-.2 .5-.4 .5 .2 .5 .3 .5-.6 .5 .6 .5 .1 .5-.9 .5-1.2 .5 .3 .5 .8 .5 .1 .5-1 .5 .4 .5-.2 .5-.8 .5 .3 .5-.5 .5-.1 .5 .9 .5-1 .5-.9 .5 .3 .5 1.4 .5-.2 .5-.8 .5-.8 .5 0 .5-.3 .5-.7 .5-1.3 .5-.2 .5-.9 .5-2.3 .5-1.7 .5-1.4 .5-1.8 .5-1.1 .5-.5 .5 0 .5-.5 .5 1.1 .5 1.8 .5 .8 .5 2.4 .5 1.7 .5 1.8 .5 1.4 .5 .7 .5-.5 .5 1.2 .5 .6 .5 1.1 .5 .6 .5 .8 .5 1 .5-.2 .5-.1 .5 0 .5-.1 .5 .5 .5-.3 .5-.4 .5 0 .5-.8 .5-.7 .5-.7 .5-.6 .5 .1 .5 .6 .5-.5 .5-.1 .5 .4 .5-.3 .5-.3 .5 .4 .5 .9 .5 1 .5-.1 .5 .4 .5 .9 .5 .3 .5 .3 .5 .6 .5 .7 .5-.6 .5 .2 .5 .8 .5-1 .5-.4 .5 1.1 .5-.1 .5 .1 .5 0 .5-.3 .5 .4 .5-.2 .5 .9 .5 .2 .5-.5 .5 .5 .5 .1 .5 .5 .5-1 .5-1.2 .5 .2 .5 1.2 .5-.1 .5 0 .5-.5 .5-.2 .5-.3 .5 1.1 .5 .4 .5-.5 .5 .2 .5-.2 .5 .3 .5-.3 .5-.1 .5 .2 .5-.3 .5 .9 .5-1.1 .5-.4 .5 .9 .5 0 .5 .3 .5-.2 .5 1.1 .5 0 .5-.7 .5 .8 .5-.6 .5-.3 .5-.1 .5 .4 .5 .2 .5-.2 .5 .2 .5 0 .5-.1 .5-.7 .5 .1 .5-.1 .5 .5 .5 .2 .5-.1 .5 .1 .5 .8 .5-.7 .5 .1 .5 .1 .5 .8 .5 .1 .5-.4 .5-.2 .5-.8 .5 0 .5 .8 .5-.3 .5-.7 .5 .3 .5-.4 .5 0 .5 .7 .5 .3 .5-.2 .5-.2 .5-.2 .5 .4 .5 .2 .5 .3 .5 .9 .5-.7 .5-.4 .5-.2" fill="none" stroke="#808080" stroke-width="1.5" stroke-linejoin="round"/>
<path d="M563.8 905.5l.5 .1 .5-.2 .5-1.1 .5 1.4 .5 .4 .5-.4 .5-.8 .5-.5 .5 .5 .5 1.1 .5 .2 .5-.2 .5 0 .5-.7 .5 0 .5 1.2 .5 .3 .5-.2 .5 0 .5-.9 .5-1 .5 .9 .5 .8 .5-.2 .5 .2 .5-.1 .5-.5 .5 .4 .5-.2 .5-.4 .5 .6 .5-.4 .5 .5 .5 .1 .5-.7 .5 0 .5 .6 .5 .3 .5 .3 .5-.3 .5 0 .5 0 .5 0 .5-1 .5-.3 .5 .9 .5 0 .5 0 .5 .6 .5-1 .5 .3 .5 .6 .5-.4 .5-.2 .5 .2 .5-.5 .5-.8 .5 .3 .5 1 .5 0 .5-.8 .5 .4 .5 .4 .5 .1 .5 .2 .5-.4 .5-.7 .5-.3 .5 0 .5-1 .5-.3 .5 1 .5 .3 .5-.5 .5-.7 .5-1.2 .5-.4 .5 .6 .5 .7 .5-.7 .5-.5 .5-.3 .5 .1 .5-.9 .5 .7 .5-1 .5-1.4 .5 .6 .5 .4 .5-.5 .5-.8 .5-1.2 .5-1.1 .5-1.2 .5-1.6 .5-1.5 .5-3.1 .5-2.4 .5-2.6 .5-2.5 .5-.7 .5-1.3 .5-.7 .5 .9 .5 2.4 .5 3.3 .5 2.1 .5 2.1 .5 2.8 .5 2.2 .5 2.4 .5 1.9 .5 1.3 .5 .7 .5 .3 .5 .1 .5 1 .5 .6 .5-.6 .5 .5 .5-.3 .5-.4 .5 0 .5 .3 .5-.6 .5-.8 .5-.8 .5-.1 .5-1.3 .5-.2 .5-.6 .5-1.5 .5-1.5 .5-.3 .5 .1 .5 1 .5 .3 .5 .6 .5 .9 .5 1.2 .5 1.7 .5 1.5 .5 .6 .5 .8 .5 .6 .5 .2 .5-.2 .5 .6 .5 .6 .5 .4 .5-1.2 .5 .3 .5 1.3 .5 .8 .5 0 .5 .3 .5 .6 .5 .7 .5 .2 .5-.4 .5-.1 .5-.6 .5-.2 .5 .9 .5 .6 .5-.7 .5-.9 .5 1.3 .5 .7 .5-.5 .5-.8 .5-.5 .5 .3 .5 1 .5-.5 .5-.2 .5 .1 .5 .1 .5 .2 .5-.2 .5 .1 .5-.3 .5-.4 .5-.2 .5 1 .5 .8 .5 0 .5-.1 .5-.7 .5-.5 .5-.1 .5 .2 .5 1 .5 .2 .5-.6 .5-.1 .5-.4 .5 .6 .5 .3 .5-.4 .5 .5 .5-.3 .5 .3 .5 .3 .5-1 .5 .4 .5 .2 .5 .6 .5-.5 .5-.2 .5 .5 .5 .4 .5-1 .5-.5 .5 .3 .5 .4 .5-.9 .5-.1 .5 .4 .5 .1 .5 .2 .5-.4 .5 0 .5 1.8 .5-.1 .5-.9 .5-.4 .5-.3 .5-.4 .5 .4 .5 .8 .5 .4 .5 .4 .5-.6 .5-.3 .5 .7 .5-.2 .5-.8" fill="none" stroke="#ff0000" stroke-width="1.5" stroke-linejoin="round"/>
<path d="M563.8 859.3l.5 .5 .5-.4 .5-.1 .5 0 .5 1 .5 .2 .5-1.7 .5 .1 .5 1 .5 0 .5-.4 .5-.7 .5-.2 .5 .8 .5 1 .5 .5 .5 0 .5-1.5 .5 .3 .5 .7 .5 .4 .5-.7 .5 .1 .5-.7 .5 .6 .5-.6 .5-.2 .5 .6 .5-.1 .5 .2 .5-.2 .5-.1 .5 .5 .5-.3 .5-.4 .5-.3 .5-.5 .5 .4 .5 .9 .5 .2 .5 .1 .5 .4 .5-.4 .5-.1 .5 .2 .5 .2 .5 .1 .5-.6 .5 0 .5 0 .5-.2 .5 .2 .5 .7 .5 .2 .5-.7 .5-.2 .5 .2 .5 .4 .5 0 .5 .4 .5 .1 .5-.7 .5-1 .5-.3 .5-.1 .5 .1 .5 .3 .5-.5 .5 0 .5-.5 .5-.2 .5 .4 .5-.7 .5 .3 .5-.9 .5 .3 .5 0 .5-.4 .5-.5 .5-.5 .5 .1 .5 .6 .5 .1 .5 .1 .5-.7 .5-.7 .5-.7 .5-.3 .5 .1 .5-1.1 .5-.9 .5-.8 .5 0 .5-.4 .5-3.2 .5-3.1 .5-1.6 .5-1.7 .5-2.8 .5-2.2 .5-1.3 .5-1.3 .5-.4 .5 1.3 .5 1.4 .5 2.8 .5 3.1 .5 1.5 .5 3.1 .5 1.5 .5 1.9 .5 .9 .5 1.7 .5 .9 .5 .6 .5 .7 .5 1.4 .5-.2 .5-1.4 .5-.4 .5 .3 .5-.1 .5 .9 .5-.4 .5-1.7 .5-1.9 .5-.5 .5-.2 .5-1.2 .5-.3 .5-.4 .5-.1 .5-.2 .5 0 .5 .3 .5 1.2 .5 1.1 .5 1.5 .5 .6 .5 1.9 .5 1.3 .5 .3 .5-.4 .5 .7 .5 1.3 .5 .5 .5 .1 .5 .2 .5-.2 .5 .1 .5 .2 .5 .5 .5 .4 .5 0 .5 .1 .5 .9 .5-.2 .5-.1 .5 .9 .5-1.5 .5 .7 .5 .3 .5-.5 .5-.2 .5 .6 .5 .8 .5 .1 .5-.3 .5-.2 .5 0 .5 .4 .5-.3 .5 .2 .5 .3 .5-.6 .5 0 .5-.1 .5-.1 .5 .7 .5-.8 .5-.1 .5 .1 .5 .6 .5 .5 .5 .5 .5 .2 .5-.1 .5-.5 .5-.1 .5-.7 .5-.2 .5 .7 .5-.4 .5 .6 .5 .4 .5-.4 .5 .3 .5-.4 .5-.2 .5 .6 .5 .2 .5-1.1 .5 .1 .5-.1 .5 .4 .5 0 .5-.9 .5 .2 .5 1 .5 0 .5-.5 .5 .3 .5 .6 .5-.4 .5-1.2 .5 .6 .5 1.1 .5-.7 .5-.2 .5 .3 .5 .2 .5 0 .5-.1 .5-.4 .5 .5 .5 .3 .5-.3 .5-.3 .5-.2 .5 .2 .5-.5 .5 .3 .5-.1 .5-.6 .5 .6 .5-.3 .5 0 .5 .3" fill="none" stroke="#0b6fff" stroke-width="1.5" stroke-linejoin="round"/>
<path d="M563.8 814.4l.5 .2 .5 .1 .5-.6 .5 .3 .5 .3 .5-.3 .5-.1 .5 .5 .5 .4 .5-.3 .5-.7 .5 .4 .5 .5 .5 .6 .5-.6 .5-.1 .5 .4 .5-.4 .5 .6 .5 .2 .5-.6 .5 0 .5 .5 .5 .6 .5-.8 .5-.4 .5 .3 .5-.2 .5-.4 .5 .3 .5 .5 .5 .4 .5-.2 .5-.3 .5-.2 .5 .3 .5-.6 .5-.2 .5 0 .5 .1 .5 .5 .5 .3 .5-.3 .5-.2 .5 .1 .5 0 .5 .7 .5 .2 .5-.7 .5-.1 .5 .8 .5 .4 .5-.7 .5 .2 .5-.4 .5-.8 .5 .3 .5 .1 .5 .1 .5 .2 .5-1.5 .5 .1 .5 .2 .5-.2 .5 0 .5 .4 .5 .1 .5-.1 .5-.1 .5-.6 .5-.6 .5 .1 .5 .6 .5-.7 .5-.3 .5 .3 .5-.1 .5-.3 .5 .2 .5 .3 .5-.3 .5-1.1 .5-1.2 .5-.3 .5 0 .5 .6 .5 .3 .5-.5 .5 0 .5-.1 .5-2.1 .5-.6 .5-1.6 .5-1.9 .5-1.7 .5-1.5 .5-1.2 .5-2.2 .5-2 .5-2 .5 .2 .5 .4 .5 .8 .5 1.1 .5 2.4 .5 2.2 .5 2 .5 2.1 .5 1.9 .5 1.3 .5 .9 .5 1.1 .5-.1 .5 .1 .5-.2 .5 .3 .5 2.1 .5 .3 .5-1.3 .5-.8 .5-.5 .5-.2 .5-.8 .5-1.3 .5-1 .5-1.7 .5-.9 .5-.7 .5-1.7 .5-2 .5-1.4 .5-.4 .5-1.7 .5-1.1 .5 .7 .5 .7 .5 2.1 .5 2.3 .5 2.5 .5 1.8 .5 .8 .5 1.6 .5 1.6 .5 .5 .5 1.3 .5 1.6 .5 .1 .5 1.2 .5 1.4 .5-.3 .5 .5 .5-.8 .5 .3 .5 1.3 .5 .2 .5-.3 .5 .1 .5 .9 .5 .2 .5-1.2 .5 .2 .5 .7 .5-.1 .5 .2 .5-.3 .5 .8 .5 0 .5-.3 .5 .2 .5 .3 .5-.9 .5 .1 .5-.3 .5 .2 .5 1 .5-.1 .5-.2 .5 0 .5-.2 .5 .4 .5-.3 .5 .2 .5 0 .5 .1 .5-.5 .5 .6 .5 .2 .5-.5 .5-.5 .5-.2 .5 .3 .5 .4 .5-.5 .5-.3 .5 1 .5 .2 .5-.7 .5-.4 .5 .2 .5 .1 .5 .1 .5 .1 .5-.6 .5 .6 .5 .4 .5 .2 .5-.5 .5 0 .5-.2 .5-.1 .5 1.4 .5-.4 .5-.1 .5-.1 .5-.1 .5-.3 .5-.6 .5 .8 .5 0 .5 .2 .5 .6 .5 0 .5 .7 .5-.1 .5-.4 .5-.5 .5-.1 .5 1.3 .5 0 .5-1 .5-.4 .5-.3 .5 1 .5 0 .5-.3 .5-.2 .5 0 .5 0" fill="none" stroke="#179a17" stroke-width="1.5" stroke-linejoin="round"/>
<rect x="1.0" y="554.0" width="524.3" height="422.4" fill="none" stroke="#262626" stroke-width="1.7"/>
<rect x="562.8" y="553.9" width="121.2" height="421.7" fill="none" stroke="#262626" stroke-width="1.7"/>
<path d="M41.3 976.4v-8M81.7 976.4v-4.0M122.0 976.4v-8M162.3 976.4v-4.0M202.7 976.4v-8M243.0 976.4v-4.0M283.3 976.4v-8M323.6 976.4v-4.0M364.0 976.4v-8M404.3 976.4v-4.0M444.6 976.4v-8M485.0 976.4v-4.0" stroke="#262626" stroke-width="1.7"/>
<text x="41.3" y="1001.0" font-size="19.5" font-weight="bold" text-anchor="middle" fill="#000">10</text>
<text x="122.0" y="1001.0" font-size="19.5" font-weight="bold" text-anchor="middle" fill="#000">20</text>
<text x="202.7" y="1001.0" font-size="19.5" font-weight="bold" text-anchor="middle" fill="#000">30</text>
<text x="283.3" y="1001.0" font-size="19.5" font-weight="bold" text-anchor="middle" fill="#000">40</text>
<text x="364.0" y="1001.0" font-size="19.5" font-weight="bold" text-anchor="middle" fill="#000">50</text>
<text x="444.6" y="1001.0" font-size="19.5" font-weight="bold" text-anchor="middle" fill="#000">60</text>
<text x="525.3" y="1001.0" font-size="19.5" font-weight="bold" text-anchor="middle" fill="#000">70</text>
<path d="M572.5 975.6v-4.0M589.4 975.6v-8M606.3 975.6v-4.0M623.2 975.6v-8M640.2 975.6v-4.0M657.1 975.6v-8M674.0 975.6v-4.0" stroke="#262626" stroke-width="1.7"/>
<text x="589.4" y="1002.4" font-size="22.5" font-weight="bold" text-anchor="middle" fill="#000">8.5</text>
<text x="623.2" y="1002.4" font-size="22.5" font-weight="bold" text-anchor="middle" fill="#000">9.0</text>
<text x="657.1" y="1002.4" font-size="22.5" font-weight="bold" text-anchor="middle" fill="#000">9.5</text>
<text x="263.1" y="1040.7" font-size="28" font-weight="bold" text-anchor="middle" fill="#000">2Theta (°)</text>
<text x="623.4" y="1042.6" font-size="28" font-weight="bold" text-anchor="middle" fill="#000">2Theta (°)</text>
<text x="342.5" y="1088.9" font-size="31" font-weight="normal" text-anchor="middle" fill="#000">(b)</text>
<text x="8.8" y="575.6" font-size="21.5" font-weight="bold" text-anchor="start" fill="#000">(b) 7 d</text>
<text x="489.6" y="928.5" font-size="15.8" font-weight="bold" text-anchor="start" fill="#808080">OPC</text>
<text x="444.3" y="883.1" font-size="15.8" font-weight="bold" text-anchor="start" fill="#ff0000">G40S50D10</text>
<text x="443.2" y="835.8" font-size="15.8" font-weight="bold" text-anchor="start" fill="#0b6fff">G60S30D10</text>
<text x="442.5" y="785.5" font-size="15.8" font-weight="bold" text-anchor="start" fill="#179a17">G48S33D17</text>
<g fill="#000"><path d="M31.7 779.6C30.5 777.6 28.0 776.0 28.0 774.4C28.0 772.3 31.1 772.2 31.7 774.2C32.3 772.2 35.4 772.3 35.4 774.4C35.4 776.0 32.9 777.6 31.7 779.6Z"/><path d="M37.4 777.8L38.6 781.3L42.3 781.4L39.4 783.6L40.5 787.2L37.4 785.1L34.3 787.2L35.4 783.6L32.5 781.4L36.2 781.3Z"/><circle cx="62.3" cy="784.8" r="1.90"/><circle cx="59.7" cy="788.0" r="1.99"/><circle cx="64.9" cy="788.0" r="1.99"/><path d="M61.7 786.5L61.0 791.0L63.6 791.0L62.9 786.5Z"/><path d="M88.3 787.4L89.5 790.9L93.2 791.0L90.3 793.2L91.4 796.8L88.3 794.7L85.2 796.8L86.3 793.2L83.4 791.0L87.1 790.9Z"/><path d="M104.2 798.8C103.0 796.8 100.5 795.2 100.5 793.6C100.5 791.5 103.6 791.4 104.2 793.4C104.8 791.4 107.9 791.5 107.9 793.6C107.9 795.2 105.4 796.8 104.2 798.8Z"/><path d="M121.0 800.8C119.8 798.8 117.3 797.2 117.3 795.6C117.3 793.5 120.4 793.4 121.0 795.4C121.6 793.4 124.7 793.5 124.7 795.6C124.7 797.2 122.2 798.8 121.0 800.8Z"/><path d="M129.3 742.8L133.0 747.1L129.3 751.4L125.6 747.1Z"/><path d="M138.6 791.6L143.2 799.6L134.0 799.6Z"/><path d="M176.6 563.2L180.3 567.5L176.6 571.8L172.9 567.5Z"/><path d="M186.0 779.2C184.5 781.6 181.4 783.2 181.4 785.4C181.4 787.4 184.4 787.6 185.4 786.0L184.2 788.6L187.8 788.6L186.6 786.0C187.6 787.6 190.6 787.4 190.6 785.4C190.6 783.2 187.5 781.6 186.0 779.2Z"/><path d="M197.5 793.1C196.0 795.5 192.9 797.1 192.9 799.3C192.9 801.3 195.9 801.5 196.9 799.9L195.7 802.5L199.3 802.5L198.1 799.9C199.1 801.5 202.1 801.3 202.1 799.3C202.1 797.1 199.0 795.5 197.5 793.1Z"/><path d="M210.5 792.6L215.1 800.6L205.9 800.6Z"/><circle cx="242.8" cy="800.2" r="3.8"/><path d="M255.8 782.3L259.5 786.6L255.8 790.9L252.1 786.6Z"/><path d="M279.0 787.6L282.7 791.9L279.0 796.2L275.3 791.9Z"/><path d="M286.0 795.5L289.7 799.8L286.0 804.1L282.3 799.8Z"/><path d="M303.0 788.9L306.7 793.2L303.0 797.5L299.3 793.2Z"/><path d="M330.2 793.1L333.9 797.4L330.2 801.7L326.5 797.4Z"/><path d="M365.2 776.2L368.9 780.5L365.2 784.8L361.5 780.5Z"/><path d="M403.4 797.2L407.1 801.5L403.4 805.8L399.7 801.5Z"/><path d="M444.4 786.2L448.1 790.5L444.4 794.8L440.7 790.5Z"/><path d="M505.2 791.7L508.9 796.0L505.2 800.3L501.5 796.0Z"/><path d="M512.9 791.7L516.6 796.0L512.9 800.3L509.2 796.0Z"/><path d="M631.7 787.8L632.9 791.3L636.6 791.4L633.7 793.6L634.8 797.2L631.7 795.1L628.6 797.2L629.7 793.6L626.8 791.4L630.5 791.3Z"/></g>
<g fill="#000"><path d="M223.9 583.6L227.4 587.7L223.9 591.8L220.4 587.7Z"/><text x="230.1" y="591.9" font-size="15.85">: SiO<tspan font-size="10.5" dy="3.5">2</tspan></text><path d="M316.5 592.0C315.1 589.6 312.1 587.7 312.1 585.8C312.1 583.3 315.7 583.1 316.5 585.6C317.3 583.1 320.9 583.3 320.9 585.8C320.9 587.7 317.9 589.6 316.5 592.0Z"/><text x="322.8" y="591.9" font-size="15.85">: Muscovite</text><circle cx="223.9" cy="612.5" r="1.90"/><circle cx="221.3" cy="615.6" r="1.99"/><circle cx="226.5" cy="615.6" r="1.99"/><path d="M223.3 614.2L222.6 618.7L225.2 618.7L224.5 614.2Z"/><text x="230.1" y="618.9" font-size="15.85">: Kaolinite</text><path d="M316.5 610.3C315.1 612.6 312.1 614.1 312.1 616.2C312.1 618.1 315.0 618.3 315.9 616.8L314.8 619.3L318.2 619.3L317.1 616.8C318.0 618.3 320.9 618.1 320.9 616.2C320.9 614.1 317.9 612.6 316.5 610.3Z"/><text x="321.6" y="618.9" font-size="15.85">: Calcium silicate hydrates</text><path d="M223.9 637.2L225.1 640.6L228.6 640.6L225.8 642.8L226.8 646.2L223.9 644.2L221.0 646.2L222.0 642.8L219.2 640.6L222.7 640.6Z"/><text x="230.1" y="645.9" font-size="15.85">: Ettringite</text><path d="M316.5 637.5L320.9 645.1L312.1 645.1Z"/><text x="322.0" y="645.9" font-size="15.85">: Calcium aluminate hydrates</text><circle cx="222.6" cy="668.7" r="3.6"/><text x="228.1" y="672.9" font-size="15.85">: Calcium aluminate silicate hydrates</text></g>
<path d="M4.1 1353.8l.5-1 .5 .3 .5 0 .5 0 .5-.2 .5-.5 .5 .2 .5 .4 .5 .8 .5-.8 .5-.8 .5-.3 .5-.4 .5-.2 .5 .2 .5 .3 0 0 .5 .3 .5-.1 .5 .4 .5 .7 .5 0 .5-.1 .5 .3 .5 .8 .5 .5 .5-.4 .5 .1 .5 .3 .5-.3 .5 .2 .5 .6 .5 .1 .5-.1 .5-.2 .5-.7 .5 .8 .5-.3 .5-.2 .5 .8 .5 .3 .5-.4 .5-.2 .5 .4 .5 .3 .5 .5 .5-.1 .5-.1 .5 .2 .5-.4 .5-.2 .5 .5 .5 .1 .5-.3 .5-.1 .5 0 .5-.5 .5 .6 .5-.6 .5-3.7 .5-4.9 .1-.4 .4 2.7 .5 4.4 .5 2.1 .5 1.2 .5 .1 .5-.8 .5 .4 .5 .5 .5 .1 .5 .4 .5-.5 .5 .1 .5 .1 .5 .6 .5-.2 .5-.4 .5-.1 .5 1 .5 .1 .5 0 .5 .1 .5-.3 .5-.4 .5-.1 .5 .3 .5 .5 .5-.6 .5 .1 .5 .3 .5 .3 .5 0 .5-.6 .5-.1 .5 .8 .5 .6 .5 0 .5-.3 .5-.1 .5 .1 .5 .1 .5 .2 .5-.3 .5 .2 .5 .1 .5 .2 .5 .3 .5 .7 .5 0 .5-.5 .5-1.1 .5 .2 .5 .3 .5 0 .5-.8 .5-.4 .5-2 .4-1.7 .1 .1 .5 2.2 .5 2.2 .5 1.3 .5 .5 .5-.4 .5 .1 .5 .2 .5 .4 .5 0 .5-.2 .5-.6 .5 0 .5 .2 .5 .7 .5 0 .5-.5 .5 0 .5 .3 .5-.3 .5 0 .5 .7 .5 .7 .5-.8 .5-.4 .5-.3 .5 .2 .5 .7 .5 .3 .5-.2 .5 .1 .5 0 .5-.2 .5-.4 .5 .3 .5 .3 .5-.2 .5 0 .5 0 .5 .4 .5 .3 .5-.2 .5 .1 .5 .4 .5 .2 .5 0 .5-.9 .5 .5 .5 0 .5 .1 .5 .4 .5-.1 .5-.9 .5-2.1 .5-1.4 .1-.5 .4 1.3 .5 2.4 .5 1 .5 1 .5 .2 .5 .1 .5-.6 .5-.3 .5 .3 .5 .1 .5-.2 .5 .2 .5 .2 .5 .3 .5-.4 .5 .2 .5-.4 .5-.2 .5 0 .5 .1 .5 .6 .5 .4 .5-.1 .5 .2 .5 .3 .5-.4 .5-.2 .5-.4 .5-.3 .5-.1 .5-1.5 .5-.5 .1 .2 .4 1.1 .5 .9 .5 .4 .5 .4 .5-.1 .5 .2 .5 .1 .5 0 .5-.1 .5-.1 .5 0 .5-.4 .5 .4 .5 .2 .5 .8 .5 0 .5-.9 .5 .4 .5 .1 .5-.2 .5 .4 .5-.3 .5-.4 .5 .4 .5 .3 .5 0 .5-.3 .5 .5 .5-.3 .5-1.3 .5-1 .5-.4 .1 .2 .4 1.2 .5 .7 .5 .2 .5 .4 .5 .7 .5 .7 .5-.5 .5-.1 .5 .1 .5 .2 .5 .4 .5-.6 .5 0 .5-.1 .5-1.1 .5-16.2 .5-30 0-.2 .5 32.6 .5 13.6 .5 1 .5 .7 .5 .4 .5 .1 .5 .1 .6-.2 .5-.1 .5 .2 .5-.1 .5-.1 .5 .2 .5 .2 .5-.4 .5-.6 .5-1.5 .5-2.9 0-.8 .5 1.8 .5 3.1 .5 1 .5-.5 .5 .6 .5 .3 .5-.3 .5 .5 .5-.1 .5-.4 .5-.1 .5-.4 .5 .4 .5 .5 .5-.9 .5-.8 .4-1.1 .1 .1 .5 .4 .5 .5 .5 1 .5 .5 .5-.4 .5-.2 .5-.3 .5-1.5 .3-1 .2 .5 .5 1.7 .5 1 .5 .9 .5 .3 .5-.5 .5-.6 .5-.1 .5 .3 .5-.3 .5-1.8 .4-1.2 .1-.2 .5 1.4 .5 1.4 .5 .6 .5-.1 .5 0 .5 .3 .5 0 .5 .1 .5 .6 .5 .2 .5 .5 .5-1.1 .5-1.6 .5-.6 .1-.2 .4 .1 .5 1.4 .5 .1 .5-.1 .5 1.1 .5 .3 .5 .4 .5-.6 .5-.1 .5 .7 .5-.5 .5 .3 .5 .4 .5-.3 .5-.3 .5 .1 .5 0 .5-.5 .5 .1 .5-.3 .5-1.4 .5-31 .5-172.2 .2-35.2 .3 85.6 .5 138.5 .5 14.5 .5 1.3 .5 .1 .5-.1 .5-.4 .5 .7 .5 .8 .5-.6 .5-.8 .5-1.3 .5-1.1 .1-.3 .4 .3 .5 2.3 .5 1.1 .5 .2 .5-.2 .5-.2 .5-4.8 .5-11.1 .1-1.5 .4 5.4 .5 9.8 .5 2.4 .5 .7 .5 .3 .5 .2 .5-.1 .5-.5 .5-.5 .5 .7 .5 .4 .5-.1 .5-.1 .5-.3 .5-.1 .5 .1 .5 .6 .5-.2 .5-.5 .5-.3 .5 .3 .5-1 .5-4.2 .2-1.3 .3 1.7 .5 4.2 .5 1.3 .5 .2 .5 .2 .5-.1 .5-.1 .5-.3 .5 .6 .5 0 .5 0 .5-.8 .5 .5 .5 .3 .5-.3 .5 .2 .5 .1 .5-.1 .5-.4 .5 .2 .5 .5 .5 0 .5-.7 .5-1.9 .5-3.2 .1-.3 .4 1.1 .5 2.9 .5 1.2 .5 0 .5 .2 .5 .4 .5 .1 .5-.2 .5 .2 .5-.4 .5 .3 .5-.5 .5 .1 .5 .6 .5-.2 .5-.2 .5 0 .5 0 .5-.8 .5-.5 .1 .2 .4-.2 .5 .6 .5 .8 .5 .9 .5 .3 .5-.1 .5-.4 .5 0 .5 .2 .5-.2 .5 .3 .5 0 .5-.4 .5 0 .5 .3 .5 .8 .5 .3 .5-.9 .5-.5 .5-.5 .5 .6 .5 .1 .5-.1 .5 .2 .5-.4 .5 .3 .5 .1 .5-.2 .5 .6 .5 .1 .5-.9 .5 0 .5 .6 .5-.1 .5-.4 .5 .2 .5 .2 .5 .1 .5 .1 .5-.2 .5-.2 .5-1 .5-1.2 .5-.6 .1 .1 .4-.2 .5 .5 .5 1.4 .5 1 .5 .7 .5 0 .5 .1 .5 .2 .5 .3 .5-.4 .5-.3 .5 .1 .5-.1 .5 .2 .5 0 .5 .3 .5 .4 .5-.6 .5-.2 .5 .1 .5 0 .5-.6 .5-.2 .5-1 .5-8.6 .3-6.9 .2 1.1 .5 7 .5 4 .5 4.5 .5 .8 .5 .1 .5 0 .5-.3 .5 .1 .5 .2 .5 .2 .5-.2 .5-.1 .5 .7 .5 .3 .5-.5 .5 0 .5 .1 .5-.1 .5-.4 .5 .7 .5-.2 .5 .2 .5-.2 .5-.3 .5 .2 .5 .2 .5-.4 .5-.1 .5-.1 .5-.1 .5 .9 .5 0 .5-.1 .5 .1 .5-.5 .5 .3 .5 .6 .5-.4 .5-1.4 .5-.5 .5 .9 .5 .8 .5-.4 .5-.2 .5-1.9 .5-9.1 .2-1.5 .3 3.9 .5 3.3 .5 2.4 .5 2.5 .5 .8 .5 .1 .5 .8 .5 .3 .5-1.2 .5-.8 .5 .5 .5 .1 .5-2.9 .3-2.2 .2 0 .5 2.5 .5 1.2 .5 1.2 .5 .8 .5 .1 .5 .2 .5 .1 .5 .1 .5-.2 .5-.5 .5 .2 .5 .1 .5 .2 .5 .2 .5-.4 .5-.4 .5 0 .5 .3 .5 .3 .5-.2 .5 .4 .5-.1 .5-.5 .5-.2 .5 .5 .5 0 .5-.5 .5 .8 .5 .4 .5-.5 .5 0 .5 .2 .5-3.5 .5-7.9 .1-.2 .4 3.8 .5 1.8 .5 1.8 .5 2.9 .5 .6 .5 .2 .5 .2 .5 .2 .5-.3 .5-.2 .5 .6 .5 .3 .5-.3 .5 .2 .5-.2 .5-.2 .5 .4 .5-.4 .5 .2 .5-.2 .5 0 .5-.5 .5 .2 .5 .6 .5-.1 .5-.2 .5-.1 .5 .1 .5-.5 .5 0 .5 .3 .5-.1 .5 0 .5 .3 .5 0 .5 .2 .5 .6 .5 0 .5-.1 .5-.5 .5-.4 .5-.3 .5 .1 .5-.3 .5 .4 .5 .8 .5 .4 .5-.4 .5-.6 .5 .1 .5-.3 .5-.5 .5-3.1 .4-1.5 .1 .8 .5 2.1 .5 .9 .5 .6 .5 .8 .5 .9 .5 .1 .5-.6 .5-.2 .5-.3 .5 .4 .5 .4 .5-.3 .5-.3 .5-.2 .5 .6 .5 .4 .5-.1 .5-.3 .5-.2 .5 .7 .5-.3 .5-.2 .5 0 .5-.7 .5 .4 .5 .3 .5 .3 .5 .3 .5-.5 .5-.7 .5 .3 .5 .4 .5-.1 .5-.6 .5 0 .5 .7 .5 .1 .5-.3 .5-.2 .5 .5 .5-1 .5 .6 .5 1 .5-.5 .5-.3 .5-.1 .5 .4 .5-.5 .5 .2 .5 0 .5-.2 .5 .3 .5-.5 .5 .1 .5 .3 .5 0 .5 .3 .5 .1 .5-.4 .5-.2 .5-.1 .5 .2 .5 .3 .5-.2 .5-.1 .5-.5 .5-.9 .5-6.2 .5-16.9 .1 0 .4 12.6 .5 2.1 .5 1.1 .5 5.8 .5 1.9 .5 .3 .5 .4 .5 .2 .5 .4 .5 .5 .5-.2 .5-.1 .5-.2 .5-.2 .5-.4 .5-.1 .5 .7 .5 .7 .5-.4 .5-.2 .5 .4 .5-.5 .5-.4 .5-.2 .5 .1 .5 .6 .5 .6 .5-.6 .5-.5 .5 .1 .5 0 .5-.3 .5 .6 .5 .4 .5-.1 .5-.1 .5-.7 .5 0 .5 1 .5 0 .5-.8 .5 .3 .5 .2 .5 .1 .5-.1 .5-.2 .5 .1 .5 .1 .5-.3 .5-.8 .5-.4 .5 .6 .5 .2 .5 .6 .5 .3 .5-.1 .6-.3 .5 .2 .5 .3 .5-.4 .5 .4 .5 0 .5 0 .5 .1 .5-.5 .5 .1 .5-.4 .5-.2 .5 0 .5 .3 .5-.2 .5-.2 .5-.9 .5-2.8 .4-2.9 .1-.3 .5 3.2 .5 1.3 .5 .7 .5 1 .5 .5 .5 1 .5-.2 .5-.5 .5 0 .5-.1 .5 .3 .5 .1 .5 .8 .5-.3 .5-.9 .5-.1 .5 .2 .5-.2 .5 .5 .5 .2 .5-.2 .5 .1 .5 .5 .5 .5 .5-.1 .5-.4 .5-.1 .5-.3 .5 .1 .5-.2 .5 .2 .5-.4 .5-.1 .5 .5 .5 .1 .5-.6 .5 .2 .5 .4 .5-.1 .5-.2 .5 .1 .5 .2 .5 .5 .5-.3 .5-.9 .5-.3 .5 .9 .5 .5 .5-.1 .5-.1 .5-.5 .5-.2 .5 .6 .5 .1 .5-.1 .5-.5 .5 .2 .5 .1 .5 .2 .5-.3 .5-.2 .5 .2 .5 .6 .5-.4 .5-.4 .5-.2 .5 .2 .5 .5 .5-.7 .5 .1 .5 .7 .5 .2 .5-.3 .5 .2 .5 .1 .5-.1 .5-.2 .5 .2 .5-.3 .5-.9 .5-6.2 .4-7.6 .1-.5 .5 8.2 .5 2 .5-1.4 .5 3.7 .5 1.9 .5 1 .5-.3 .5-.4 .5 .5 .5 .2 .5-.3 .5 .4 .5 .6 .5-.3 .5-.5 .5-.2 .5 .1 .5-.8 .5-.5 .5 .6 .5 .5 .5 .8 .5-.4 .5-.6 .5 0 .5 .4 .5-.2 .5-.1 .5 .3 .5 .1 .5 0 .5 .2 .5 .5 .5-.1 .5-.7 .5 .8 .5-.2 .5-.1 .5-.5 .5 .1 .5 .1 .5 .1 .5 .2 .5-.2 .5-.5 .5 .2 .5 .4 .5 0 .5-.4 .5-.1 .5 0 .5-.4 .5 .2 .5 .7 .5-.3 .5-.1 .5 0 .5 .6 .5 .2 .5-.7 .5-.3 .5-.4 .5 .1 .5-.8 .3-.6 .2 .4 .5 .4 .5 .6 .5 .3 .5-.2 .5 .2 .5 .4 .5-.2 .5 0 .5 .7 .5-.5 .5-.4 .5 .1 .5 .5 .5 .2 .5-.2 .5-.1 .5-.7 .5 .1 .5 .2 .5 .2 .5 0 .5-.3 .5 1.1 .5-.7 .5 0 .5 .4 .5 0 .5-.6 .5-1 .5 .5 .5 .7 .5-.4 .5-.5 .5 0 .5 1 .5 0 .5-.5 .5 .1 .5 0 .5-.2 .5 .2 .5 .3 .5 .3 .5 .1 .5-.4 .5-.2 .5 .1 .5-.3 .5-.1 .5 .6 .5-.2 .5 0 .5 0 .5-.4 .5 .4 .5 0 .5-.5 .5-2 .5-7 .1-1.3 .4 3.8 .5 4.4 .5-.9 .5-.4 .5 1.4 .5-3.3 .4-4.5 .1 .1 .5 6.4 .5 1.3 .5-2.2 .5 1.8 .5 2.3 .5 .4 .5 0 .5-.5 .5-.3 .5 .1 .5 .7 .5 .8 .5-.1 .5-.9 .5-.2 .5 .8 .5-.1 .5-.4 .5 .6 .5 .1 .5 .2 .5-.2 .5 0 .5-.3 .5-.4 .5 .1 .5 .1 .5 .4" fill="none" stroke="#179a17" stroke-width="1.6" stroke-linejoin="round"/>
<path d="M4.1 1393.7l.5 0 .5 .8 .5 .4 .5 .1 .5-.4 .5-1 .5-.1 .5 0 .5-.2 .5-.6 .5 .3 .5 0 .5-.4 .5 .2 .5 .3 .5-.2 0 .2 .5 .2 .5-.1 .5 .1 .5 .2 .5 .6 .5-.1 .5 .1 .5 .6 .5 0 .5 .6 .5 .4 .5-.1 .5 .1 .5 .4 .5-.2 .5-.7 .5 .2 .5 .9 .5-.2 .5-.9 .5 .2 .5 .6 .5 0 .5 .4 .5 .1 .5 0 .5-.3 .5 .7 .5 .4 .5-.5 .5 .4 .5 .2 .5-.2 .5-.4 .5-.4 .5 .2 .5 .7 .5 .3 .5 0 .5-.1 .5-.5 .5-2 .5-6.7 .5-9.9 .1-.6 .4 4.9 .5 9.5 .5 3.7 .5 .7 .5 .6 .5 .1 .5 .4 .5 .3 .5 .3 .5 .2 .5-.8 .5-.3 .5 1.1 .5 .7 .5 0 .5-.4 .5 0 .5-.2 .5-.4 .5 .2 .5 .5 .5 .1 .5 .4 .5-.8 .5 .2 .5 .6 .5-.4 .5-.4 .5 0 .5 .5 .5 .8 .5 0 .5-.2 .5-.1 .5 .3 .5-.2 .5-.3 .5 .2 .5 .4 .5 .4 .5-.2 .5 .2 .5 .4 .5-.9 .5-.1 .5 .7 .5 0 .5-.1 .5 0 .5 0 .5 .1 .5-.1 .5-.1 .5-1.2 .5-2.2 .5-3.6 .4-1.5 .1 .6 .5 3.5 .5 3 .5 1.5 .5 0 .5-.2 .5 .2 .5 .3 .5 .3 .5 .4 .5 .4 .5 .2 .5 .4 .5-.2 .5-.3 .5 .5 .5-.1 .5-.5 .5 .3 .5 .3 .5-.1 .5 .2 .5-.1 .5 0 .5-.2 .5 .1 .5 0 .5 .1 .5-.5 .5 .6 .5 .6 .5-.2 .5-.2 .5 .1 .5-.4 .5-.1 .5 .3 .5 .3 .5 .2 .5-.2 .5 .2 .5-.6 .5 .1 .5 .6 .5 .3 .5-.6 .5-.4 .5 .7 .5 .1 .5-.4 .5-.1 .5 .1 .5-.1 .5-1.1 .5-1.2 .1 .8 .4 .5 .5 1 .5 .9 .5 .5 .5 .6 .5-.2 .5-.7 .5-.1 .5 0 .5 .2 .5 .3 .5 0 .5 .5 .5-.3 .5-.1 .5 .1 .5-.7 .5 .2 .5 .7 .5 0 .5 0 .5 0 .5-.2 .5-.1 .5-.4 .5 .1 .5 .8 .5-.3 .5-.1 .5 .2 .5-1.2 .5-1.5 .1-.1 .4 .9 .5 1.2 .5 1 .5 .3 .5 .1 .5 .3 .5 .2 .5 .4 .5-.3 .5-.8 .5 .3 .5-.4 .5-.1 .5 .7 .5-.2 .5 .2 .5 .3 .5-.4 .5-.1 .5 .5 .5 .4 .5-.3 .5-.7 .5 .2 .5 .5 .5 .7 .5-.1 .5-.2 .5-.3 .5-1.1 .5-1 .5-.7 .1-.4 .4 .9 .5 1.2 .5 .5 .5 .9 .5 .3 .5 0 .5-.5 .5 .3 .5 .6 .5-.3 .5-.5 .5 .3 .5 .4 .5-.5 .5-.6 .5-13.4 .5-27.4 0-.4 .5 28.5 .5 12.4 .5 1.4 .5-.3 .5-.5 .5 .2 .5 .5 .6 .2 .5-.2 .5 .2 .5-.1 .5 .2 .5 .1 .5 0 .5-.5 .5-.4 .5-2.2 .5-4.1 0 .2 .5 2.7 .5 3.5 .5 .6 .5 .1 .5 0 .5-.1 .5 .2 .5 .3 .5-.1 .5-.4 .5-.1 .5-.2 .5 .6 .5-.1 .5-.6 .5-1.5 .4-.6 .1 .4 .5 .9 .5 .7 .5 1 .5-.1 .5-.1 .5 .1 .5-.8 .5-1.5 .3-.6 .2 .3 .5 1.2 .5 1 .5 .2 .5 .3 .5 .5 .5 .3 .5-.2 .5 0 .5-1.3 .5-2 .4-.8 .1-.2 .5 1.7 .5 1.9 .5 .3 .5 .5 .5 .7 .5-.4 .5-.2 .5 .1 .5-.2 .5-.1 .5-.4 .5-1 .5-.3 .5-1.3 .1-.2 .4 .8 .5 1 .5 .5 .5 .7 .5-.1 .5 0 .5-.1 .5 .3 .5 .6 .5 0 .5 .2 .5 .1 .5-.3 .5-.3 .5 .3 .5 .6 .5-.3 .5-.2 .5-.1 .5 0 .5-.3 .5-6.3 .5-35.1 .2-7.5 .3 17.5 .5 28.6 .5 3.3 .5 .2 .5-.3 .5-.2 .5 .5 .5-.1 .5-.5 .5 .4 .5-.2 .5-1.3 .5-2.5 .1-.3 .4 1 .5 1.2 .5 1 .5 .3 .5-.3 .5-.9 .5-4.7 .5-12 .1-1.6 .4 5.9 .5 11 .5 3.4 .5 .5 .5-.1 .5-.5 .5 .3 .5-.1 .5 .4 .5 0 .5-.3 .5 .5 .5 .4 .5-.1 .5-.2 .5-.4 .5-.2 .5 0 .5 .6 .5 .4 .5-.4 .5-1.2 .5-2.5 .2-.2 .3 .3 .5 1.6 .5 1 .5 .6 .5 .3 .5 .7 .5-.3 .5-.5 .5 .3 .5 .6 .5-.5 .5 .3 .5 .3 .5 .2 .5-.3 .5-.3 .5 .1 .5 .1 .5 .2 .5 0 .5 .3 .5-.5 .5-.4 .5-1.4 .5-2 .1-.2 .4 1.3 .5 2.2 .5 .1 .5 .1 .5 .6 .5-.3 .5 0 .5 .5 .5-.3 .5-.9 .5 .5 .5 .7 .5 0 .5-.2 .5 .3 .5-.5 .5-.2 .5-.2 .5-.6 .5-.3 .1 .1 .4 0 .5 .9 .5 .1 .5 .4 .5 .7 .5-.2 .5 0 .5-.3 .5-.1 .5 .1 .5 .1 .5-.1 .5 .2 .5 .4 .5 .1 .5-.2 .5 .1 .5-.1 .5-.7 .5 0 .5 1.1 .5 .1 .5-.4 .5-.2 .5-.5 .5-.1 .5 .4 .5-.1 .5 .4 .5-.1 .5 .3 .5 .7 .5 0 .5-.6 .5-.1 .5-.5 .5 0 .5 .4 .5 .1 .5-.7 .5-.5 .5-1.1 .5-1.5 .5-.1 .1 .5 .4 0 .5 1 .5 1 .5 .5 .5 1 .5 .6 .5 .2 .5-.2 .5-.7 .5-.2 .5-.1 .5 0 .5 .2 .5 .7 .5 .2 .5-.5 .5 0 .5-.5 .5 0 .5-.2 .5-.2 .5 .5 .5-.2 .5-1.6 .5-10.1 .3-7.5 .2 1.8 .5 7.8 .5 3.8 .5 4.4 .5 1.7 .5 .6 .5 .4 .5 0 .5-.4 .5-.5 .5-.3 .5 .7 .5 .8 .5-.2 .5-1.3 .5 .2 .5 .3 .5 0 .5 .3 .5 .1 .5-.2 .5 0 .5-.4 .5 0 .5 .4 .5 .3 .5-.5 .5 .3 .5 .5 .5-.1 .5 .1 .5-.3 .5 .3 .5 .4 .5 .4 .5-.3 .5-.1 .5-.4 .5 0 .5 .4 .5-.1 .5 .1 .5 0 .5 .3 .5-.4 .5-3 .5-9 .2-2.1 .3 3.6 .5 3.5 .5 2.9 .5 2.4 .5 .5 .5 .3 .5 .6 .5 .3 .5 0 .5-.3 .5-.6 .5-.9 .5-3.2 .3-2.2 .2 1 .5 3.1 .5 .4 .5 1.3 .5 .2 .5 .8 .5 .1 .5-.1 .5 .1 .5-.3 .5 .4 .5 .8 .5-.1 .5-.1 .5-.1 .5-.1 .5 .1 .5 .4 .5-.4 .5-.1 .5-.3 .5-.4 .5-.7 .5 .3 .5 1.3 .5 .2 .5-.7 .5 0 .5 .1 .5-.2 .5 .4 .5-.8 .5-1 .5-3.7 .5-7.3 .1-.2 .4 4.6 .5 1.9 .5 2.7 .5 2.7 .5 .9 .5 .9 .5 .3 .5-.5 .5-.5 .5 .3 .5 .2 .5-.2 .5-.1 .5-.2 .5-.3 .5 .4 .5 .3 .5-.6 .5 .2 .5 .1 .5-.5 .5 0 .5-.3 .5 .1 .5-.1 .5 .1 .5 .3 .5 .1 .5-.2 .5-.3 .5 1 .5-.3 .5-.5 .5 .2 .5 .2 .5-.2 .5 0 .5 .2 .5 .2 .5-.2 .5 .3 .5 0 .5 0 .5 .3 .5-.4 .5-.5 .5 .4 .5 .1 .5-.1 .5 .2 .5 .3 .5-1.7 .5-4.9 .4-2.9 .1 .6 .5 3.2 .5 .7 .5 1.9 .5 2.1 .5 .5 .5-.6 .5 .3 .5 .6 .5 .1 .5-.7 .5 .2 .5 .4 .5-.3 .5-.1 .5-.1 .5-.2 .5 .5 .5 0 .5-.4 .5 .5 .5 .4 .5-.1 .5 0 .5-.2 .5 .3 .5-.3 .5 .5 .5-.6 .5-.4 .5 0 .5 .1 .5 0 .5 0 .5 .2 .5 .5 .5 0 .5-.2 .5 .2 .5-.7 .5-.2 .5 .1 .5 .4 .5-.6 .5 .2 .5 1 .5 .4 .5-.4 .5-.9 .5 .3 .5 .4 .5-.4 .5-.5 .5 .1 .5-.3 .5 .4 .5 1.1 .5-.4 .5-.9 .5-.1 .5 .6 .5-.1 .5 .2 .5-.3 .5 0 .5-.1 .5-.7 .5-1.2 .5-6 .5-15.6 .1 0 .4 11.8 .5 2.8 .5 1.1 .5 5.8 .5 2.4 .5 .6 .5-.4 .5 0 .5 .3 .5-.1 .5-.3 .5-.2 .5-.3 .5 0 .5 .7 .5 .2 .5-.7 .5 .2 .5 .1 .5-.2 .5-.2 .5-.1 .5-.3 .5 .5 .5 .5 .5 .7 .5-.3 .5-.6 .5 .2 .5 .6 .5 0 .5-.5 .5-.5 .5-.3 .5 .2 .5 .2 .5 .1 .5 .4 .5-.8 .5 .2 .5 .4 .5 .3 .5 .1 .5-.9 .5-.1 .5 .4 .5 .1 .5-.2 .5 0 .5 .3 .5-.4 .5 .1 .5 .8 .5 .3 .5-.5 .5-.7 .6-.2 .5-.1 .5 0 .5 .5 .5 .5 .5-.3 .5-.5 .5-.1 .5 .1 .5 .4 .5-.6 .5 .2 .5-.3 .5-.1 .5 .1 .5 .5 .5-.5 .5-2.7 .4-3.8 .1-.3 .5 3.2 .5 1.3 .5 0 .5 1.1 .5 1.8 .5 .4 .5-.3 .5-.1 .5 .2 .5-.2 .5 0 .5 .2 .5 .3 .5-.4 .5 0 .5 .4 .5-.2 .5-.2 .5 .1 .5 .2 .5-.3 .5 .4 .5 .5 .5-.6 .5-.6 .5-.2 .5 .3 .5-.4 .5-.2 .5 .3 .5 .2 .5 .4 .5-.3 .5 .6 .5-.4 .5 .1 .5 .2 .5 0 .5-.1 .5-.7 .5-.4 .5 .4 .5-.1 .5 .4 .5 .5 .5-.3 .5-.3 .5-.1 .5 .2 .5 0 .5-.3 .5 .4 .5-.2 .5 .3 .5 .1 .5 .4 .5 0 .5-.3 .5-.1 .5 .3 .5 .4 .5-.2 .5-.3 .5 .1 .5 .1 .5-.8 .5 .3 .5 0 .5 .4 .5-.4 .5-.2 .5-.1 .5 .3 .5 .5 .5 .1 .5-.9 .5 .4 .5 1.2 .5-.8 .5-1.5 .5-6 .4-8.4 .1 1.1 .5 8.1 .5 1.1 .5-.8 .5 3.2 .5 1.8 .5 .9 .5 .1 .5-.2 .5-.1 .5-.4 .5 .1 .5 .9 .5 .4 .5-.3 .5-.2 .5-.3 .5-.1 .5 .1 .5 .6 .5-.4 .5 0 .5-.2 .5-.1 .5 .7 .5-.4 .5-.3 .5 .1 .5-.1 .5 .1 .5-.1 .5 .4 .5-.2 .5-.3 .5 .6 .5-.2 .5-.4 .5 .4 .5 .4 .5 .2 .5-.6 .5 .2 .5-.1 .5 .1 .5-.2 .5 0 .5 0 .5-.6 .5-.3 .5 .6 .5 .1 .5 .2 .5 .2 .5-.1 .5 .3 .5-.3 .5 0 .5 .2 .5-.1 .5-.2 .5-.2 .5-.5 .5-.3 .5-.2 .5-.4 .3-.3 .2 .4 .5 1.1 .5 .5 .5-.1 .5 .3 .5 .1 .5 0 .5 0 .5 0 .5 0 .5-.3 .5-.1 .5 .1 .5 .3 .5 .2 .5-.2 .5 .1 .5 0 .5-.7 .5 .1 .5 .3 .5-.2 .5-.2 .5 .5 .5-.3 .5-.1 .5 .6 .5-.7 .5 0 .5 0 .5 .3 .5 .1 .5-.4 .5 .1 .5 0 .5-.1 .5 .6 .5-.2 .5-.3 .5-.2 .5 .2 .5 .1 .5 0 .5 .1 .5-1.1 .5-.1 .5 .6 .5-.2 .5 .4 .5 .1 .5 .4 .5 .2 .5 .2 .5 0 .5 0 .5-.2 .5-.1 .5-.5 .5-2.4 .5-6.1 .1-.7 .4 3.3 .5 3.3 .5-.8 .5-.1 .5 1.9 .5-3.5 .4-4.9 .1 .1 .5 5.6 .5 2 .5-1.7 .5 1.2 .5 2.4 .5 .5 .5-.1 .5-.3 .5 .6 .5 .2 .5-.3 .5-.2 .5 .5 .5 .3 .5-.1 .5-.1 .5-.4 .5 .1 .5 .1 .5 .3 .5 .7 .5-.7 .5-.5 .5 .2 .5-.4 .5 .4 .5 .2 .5-.4" fill="none" stroke="#0b6fff" stroke-width="1.6" stroke-linejoin="round"/>
<path d="M4.1 1440.7l.5-.1 .5 .2 .5 .1 .5 .6 .5-.3 .5-.6 .5-.3 .5 .9 .5-.1 .5-.6 .5-.5 .5-.3 .5-.1 .5 .4 .5-.6 .5-.7 0-.2 .5-.1 .5 1.2 .5 .8 .5 .7 .5 .2 .5-.6 .5 .5 .5 .6 .5 0 .5-.1 .5 .5 .5 .3 .5 .2 .5-.3 .5-.2 .5 0 .5 0 .5 0 .5 .3 .5 .4 .5 .3 .5 .3 .5 0 .5-.3 .5-.5 .5 .6 .5 .2 .5-.8 .5-.1 .5 .1 .5 .1 .5 .3 .5 0 .5 .3 .5-.3 .5 .2 .5 0 .5 0 .5 .5 .5-.1 .5-.3 .5-1.3 .5-5.1 .5-8.8 .1-1.2 .4 4 .5 9.3 .5 3.3 .5 .4 .5 .2 .5 .2 .5 0 .5-.2 .5 .3 .5 .2 .5-.3 .5 .2 .5 .9 .5-.2 .5-.4 .5-.4 .5-.6 .5 .4 .5 .8 .5 .4 .5-.8 .5 .5 .5 1 .5-.1 .5-.1 .5 .1 .5-.3 .5 0 .5 .4 .5 0 .5-.3 .5 .3 .5-.7 .5 .5 .5 1.2 .5-.7 .5-.1 .5-.4 .5 .1 .5 0 .5 .3 .5 .6 .5 .4 .5 0 .5-.1 .5-.3 .5 .4 .5 0 .5 0 .5-.5 .5 0 .5 .5 .5-.3 .5-1.1 .5-2.8 .5-4.2 .4-1.3 .1 .3 .5 3.7 .5 3.6 .5 1.6 .5 .2 .5 .6 .5 0 .5-.3 .5-.7 .5 .2 .5 .4 .5 .2 .5 .1 .5 .5 .5 .1 .5-.3 .5-.2 .5 .8 .5 0 .5 0 .5-.2 .5 .2 .5 .4 .5 0 .5 .2 .5-.1 .5 .3 .5-1 .5 .3 .5 .6 .5-.2 .5-.3 .5-.1 .5 .6 .5-.5 .5 .5 .5 .4 .5 .3 .5 .1 .5-.7 .5-.2 .5 0 .5-.1 .5 .7 .5 0 .5-.1 .5-.2 .5 .2 .5 0 .5 0 .5 0 .5 .3 .5-1 .5-1.7 .5-.1 .1 0 .4 .9 .5 2.1 .5 0 .5-.4 .5 .3 .5 .4 .5 .2 .5 .5 .5-.1 .5-.5 .5 .2 .5 .2 .5-.2 .5 0 .5 .5 .5-.2 .5-.6 .5 .2 .5 .2 .5 .1 .5 .1 .5 .5 .5-.6 .5-.1 .5 .2 .5-.6 .5 .4 .5 .5 .5-.6 .5-.3 .5-.5 .5-1 .1-.2 .4 .8 .5 1.1 .5 .9 .5 .4 .5 .8 .5-.4 .5-.5 .5 .1 .5-.1 .5-.4 .5 .4 .5 .6 .5-.7 .5 .2 .5 .8 .5 .1 .5-.5 .5 .4 .5-.1 .5 .4 .5-.2 .5-.3 .5 .3 .5-.1 .5-.1 .5 .6 .5-.4 .5 0 .5-.8 .5-1.3 .5-.9 .5 0 .1 .5 .4 .9 .5 .6 .5 .4 .5 .1 .5 .5 .5 0 .5-.4 .5 1 .5 .5 .5 .1 .5-.9 .5-.1 .5-.1 .5-.5 .5-1 .5-15.8 .5-30 0 .3 .5 33 .5 13.3 .5 .5 .5 .7 .5 .3 .5 .3 .5 0 .6-.3 .5 .1 .5-.4 .5 .3 .5 .3 .5-.2 .5-.2 .5-.5 .5-.1 .5-1.4 .5-3 0 .2 .5 2.7 .5 1.9 .5 0 .5 .2 .5 .5 .5-.9 .5 .5 .5 .5 .5-.1 .5 0 .5-.3 .5 .2 .5 .2 .5-.2 .5-.5 .5-1.1 .4-.7 .1-.4 .5 .7 .5 1.3 .5 .5 .5-.4 .5-.2 .5 .2 .5-.1 .5-1.4 .3-.2 .2 1 .5 .8 .5 .4 .5 .4 .5 .5 .5-.2 .5 .4 .5 .1 .5-.3 .5-1.2 .5-1.6 .4-1.7 .1 .4 .5 1.9 .5 1.3 .5 .1 .5 .8 .5 .3 .5-.3 .5-.2 .5 .1 .5 .1 .5 .4 .5-.1 .5-.5 .5-1.2 .5-1.5 .1 .4 .4 .8 .5 .3 .5 .9 .5 .3 .5 .1 .5 .6 .5 .4 .5 0 .5 0 .5-.2 .5-.5 .5 .5 .5 .1 .5-.2 .5-.1 .5-.1 .5 .4 .5-.6 .5-.4 .5 .2 .5-.5 .5-9.7 .5-56.6 .2-12.2 .3 28.6 .5 46.3 .5 4 .5 .7 .5 .7 .5 .4 .5 0 .5-.8 .5 0 .5-.2 .5-.8 .5-1.6 .5-1.7 .1 .4 .4 .8 .5 1.4 .5 1.3 .5-.1 .5-.6 .5-.9 .5-3.4 .5-10.6 .1-1.7 .4 4.9 .5 9.4 .5 3 .5 .5 .5 .3 .5-.1 .5-.6 .5 0 .5 .5 .5-.2 .5 .5 .5 .3 .5-.5 .5 .4 .5 .1 .5 0 .5-.3 .5 .2 .5 .4 .5 .4 .5-.4 .5-1.3 .5-2.7 .2-.3 .3 .5 .5 2.4 .5 1.2 .5 .4 .5 0 .5-.2 .5 .1 .5 .2 .5-.5 .5 .3 .5 .4 .5-.3 .5 .2 .5 .3 .5 .3 .5-.5 .5-.8 .5 .3 .5 .3 .5 .2 .5 0 .5 .3 .5-.8 .5-3.2 .5-4.7 .1-.4 .4 3.2 .5 3.9 .5 .9 .5-.2 .5 .5 .5 .4 .5-.2 .5-.1 .5 .3 .5 .6 .5-.7 .5-.5 .5 .3 .5 .2 .5 .1 .5-.2 .5-.3 .5-.1 .5-.6 .5-.7 .1 .9 .4 .2 .5-.4 .5 .8 .5 1 .5 .5 .5-.2 .5-1.1 .5-.1 .5 .5 .5 .3 .5-.3 .5 .4 .5 .2 .5-.1 .5-.5 .5 .3 .5 .1 .5 .1 .5 .4 .5-.2 .5 .2 .5-.2 .5 .6 .5 0 .5-.8 .5 .2 .5 0 .5-.3 .5 .5 .5 0 .5-.4 .5 .3 .5 .3 .5-.4 .5 0 .5 .4 .5-.5 .5 .2 .5 .3 .5-.7 .5-1.4 .5-.7 .5-.7 .5-.6 .1 .3 .4 .3 .5 .8 .5 1.2 .5 1.1 .5 .3 .5-.4 .5 .9 .5-.3 .5-.1 .5-.5 .5 0 .5 .2 .5 .8 .5 .1 .5-.4 .5 0 .5 0 .5-.4 .5-.1 .5 .2 .5 .4 .5-.4 .5-.6 .5-.9 .5-9 .3-7 .2 1 .5 7.7 .5 4 .5 3.8 .5 .9 .5 .5 .5-.1 .5 .1 .5-.1 .5 0 .5 .5 .5-.3 .5-.3 .5 .2 .5 .2 .5 .3 .5 .4 .5 .1 .5-.9 .5-.2 .5-.2 .5 .6 .5 .3 .5-.5 .5-.2 .5-.1 .5 .1 .5 .9 .5 .3 .5-.6 .5 .5 .5-.5 .5-.4 .5 .6 .5 .2 .5-.1 .5-.1 .5 .4 .5-.4 .5 .1 .5-.1 .5-.7 .5-.5 .5 0 .5 .3 .5-1.9 .5-9.3 .2-1.4 .3 4.2 .5 2.6 .5 3.1 .5 3 .5 .4 .5-.4 .5 .3 .5-.1 .5 .5 .5-.3 .5-.1 .5-.7 .5-3.8 .3-2.7 .2 1.3 .5 3.2 .5 .8 .5 2.2 .5 .4 .5 0 .5 .2 .5 .2 .5-.7 .5-.1 .5 .2 .5 .2 .5 .1 .5 .1 .5-.2 .5-.3 .5 .1 .5-.1 .5-.4 .5 .8 .5-.3 .5-.1 .5 .2 .5-.2 .5-.4 .5 .5 .5 .7 .5 .1 .5-.2 .5-.6 .5 0 .5 .4 .5-.2 .5-3.6 .5-7.8 .1-.4 .4 4.6 .5 1.6 .5 2.6 .5 3 .5 1.1 .5-.7 .5-.4 .5 .3 .5 .2 .5 .2 .5-.3 .5-.7 .5-.4 .5 .6 .5 .2 .5 .3 .5-.5 .5 .1 .5-.2 .5 .2 .5 .7 .5-.2 .5-.2 .5 .1 .5-.4 .5-.1 .5 .3 .5 .8 .5-.3 .5 0 .5 0 .5-.4 .5-.3 .5-.3 .5 .6 .5 .1 .5-.1 .5 .2 .5-.7 .5 .3 .5-.4 .5 0 .5 .6 .5 .3 .5-.7 .5-.3 .5 .4 .5 .9 .5-.2 .5-.1 .5 .1 .5-2 .5-5.5 .4-2.6 .1 .6 .5 4.3 .5 .4 .5 2.1 .5 1.5 .5 .4 .5 .3 .5 0 .5-.3 .5-.1 .5 .1 .5-.1 .5 .2 .5 .3 .5 .2 .5 .1 .5 .1 .5 .4 .5-.8 .5-.2 .5 .6 .5-.3 .5 .2 .5 .3 .5-.4 .5 0 .5 .4 .5-.2 .5-.5 .5-.2 .5 0 .5-.2 .5 .1 .5 .2 .5 .5 .5 .2 .5-.5 .5-.1 .5-.3 .5 0 .5 .4 .5 .5 .5 .1 .5-.1 .5-.6 .5-.6 .5 1.2 .5 .5 .5-.1 .5 0 .5 .3 .5 .3 .5-.6 .5 .1 .5-.1 .5-.3 .5-.3 .5-.3 .5-.1 .5 .4 .5-.2 .5-.4 .5-.1 .5 .2 .5 .7 .5-.4 .5-.5 .5-1.2 .5-6 .5-15.4 .1-.4 .4 12 .5 3.3 .5 1.3 .5 5.4 .5 1.4 .5 .1 .5 .2 .5 .5 .5-.7 .5-.2 .5-.5 .5 .3 .5 .7 .5 .2 .5-.1 .5-.3 .5-.2 .5 .1 .5 .2 .5 .7 .5 .2 .5-.5 .5-.5 .5-.1 .5 .3 .5-.2 .5-.3 .5 .8 .5-.1 .5-.4 .5-.2 .5 .2 .5 .4 .5-.3 .5 .2 .5 .5 .5 .3 .5-.4 .5-.4 .5-.1 .5 .5 .5 0 .5-.4 .5 .2 .5-.4 .5-.5 .5 .2 .5 .9 .5 .3 .5-.3 .5-.5 .5-.1 .5 .4 .5-.2 .5-.5 .5 .5 .6-.1 .5 .4 .5 .1 .5 .1 .5 .1 .5-.3 .5-.7 .5 0 .5 .7 .5-.2 .5-.9 .5 0 .5 1.1 .5 .7 .5-.6 .5-.6 .5-1.2 .5-3.9 .4-2.3 .1 1 .5 2.4 .5 .5 .5 1.2 .5 1.7 .5 .8 .5-.1 .5-.1 .5-.2 .5 .5 .5 .2 .5-.4 .5 .1 .5 .1 .5 .4 .5-.2 .5-.9 .5 .7 .5 .4 .5-.5 .5-.1 .5 0 .5-.2 .5 .4 .5 .7 .5-.1 .5 .2 .5-.1 .5-.1 .5-.3 .5 .3 .5 .5 .5-.2 .5-.6 .5-.6 .5-.1 .5 .5 .5-.1 .5-.6 .5 .5 .5 .4 .5-.2 .5 .1 .5 .8 .5-.5 .5-.9 .5 .1 .5 .6 .5 .1 .5-.2 .5-.2 .5-.1 .5-.2 .5 0 .5 .1 .5-.8 .5 .6 .5 .7 .5-.5 .5 0 .5 .9 .5 0 .5-.6 .5-.3 .5 .1 .5 0 .5-.1 .5 0 .5 .3 .5-.4 .5-.6 .5 .2 .5 .4 .5-.4 .5-.2 .5 1.2 .5-.1 .5-.5 .5-.1 .5 .2 .5-.7 .5-7 .4-8.8 .1-.1 .5 9.5 .5 1.2 .5-1.7 .5 4.6 .5 2.6 .5 .5 .5 0 .5 .5 .5 0 .5 .1 .5-.2 .5 .2 .5-.3 .5 0 .5 0 .5-.8 .5 .3 .5 .7 .5-.7 .5 .1 .5 .6 .5 .2 .5-.5 .5-.2 .5-.3 .5 .3 .5 .6 .5-.2 .5-.1 .5 .1 .5-.1 .5-.1 .5-.2 .5-.1 .5 .3 .5-.2 .5 .7 .5 .6 .5 0 .5-.2 .5-1 .5 0 .5-.2 .5-.3 .5-.3 .5 .4 .5 .8 .5 .2 .5 .2 .5 0 .5-.3 .5-.6 .5 .2 .5 .4 .5 .1 .5-.5 .5-.3 .5 .3 .5 .6 .5-.3 .5-.7 .5-.5 .5-.5 .5-1 .3 .1 .2 .1 .5 .5 .5 .9 .5 1 .5 .9 .5-.6 .5-.3 .5-.6 .5-.1 .5 1 .5 .3 .5-.9 .5 .2 .5 .4 .5-.5 .5-.7 .5 .8 .5 .1 .5 0 .5-.3 .5 .5 .5 .1 .5-.5 .5 .1 .5-.2 .5-.2 .5-.1 .5 .1 .5 .2 .5 .5 .5-.4 .5-.2 .5 .7 .5 .1 .5-.1 .5-.2 .5 0 .5-.3 .5-.2 .5 .2 .5 .2 .5 .1 .5-.1 .5-.6 .5 .3 .5-.1 .5 .2 .5 .2 .5-.1 .5-.2 .5 .4 .5 0 .5 .2 .5 .1 .5-.7 .5-.4 .5 .3 .5 .1 .5-2.2 .5-7.2 .1-1.1 .4 3.5 .5 4.5 .5-.9 .5-.1 .5 1.8 .5-3.2 .4-4.3 .1-.1 .5 5.9 .5 1.2 .5-1.6 .5 2 .5 1.9 .5 .4 .5-.4 .5 .3 .5 .5 .5-.4 .5-.3 .5-.1 .5-.1 .5 .4 .5 .4 .5-.2 .5-.4 .5-.4 .5 .2 .5 .9 .5-.5 .5-.2 .5-.1 .5 .1 .5-.1 .5 .3 .5 .3 .5-.5" fill="none" stroke="#ff0000" stroke-width="1.6" stroke-linejoin="round"/>
<path d="M4.1 1483.4l.5 0 .5 0 .5-.3 .5 0 .5-.5 .5-.5 .5 0 .5 0 .5 0 .5 .2 .5 .2 .5-.7 .5 .1 .5-.2 .5-.4 .5-.1 0 .5 .5 .2 .5-.1 .5 .3 .5 .2 .5 0 .5 .7 .5 .7 .5 .5 .5-.6 .5 .1 .5 .5 .5 0 .5 .2 .5 .3 .5 0 .5 .2 .5 .1 .5-.4 .5 .3 .5-.2 .5 1.1 .5 .1 .5-.4 .5 .3 .5-.1 .5 .2 .5 .2 .5-.1 .5 0 .5 .1 .5-.1 .5-.2 .5-.3 .5 .1 .5 1.1 .5-.1 .5-.6 .5 .4 .5-.1 .5-.7 .5 .2 .5 .2 .5-1.5 .5-3.5 .1-.5 .4 1.6 .5 3.5 .5 .8 .5 .7 .5 .2 .5-.4 .5 .5 .5 .8 .5 .3 .5-.3 .5-.7 .5 0 .5 .2 .5 .4 .5-.5 .5-.3 .5 0 .5 .7 .5 .3 .5-.3 .5-.1 .5 .5 .5 .3 .5-.5 .5 .2 .5 .3 .5 .3 .5 .3 .5 0 .5-.1 .5 .4 .5 0 .5-.3 .5-.2 .5-.3 .5 .2 .5-.1 .5-.1 .5 .1 .5-.2 .5 .1 .5 .3 .5 0 .5-1.2 .5-1.4 .3 0 .2 0 .5 1 .5 .9 .5 .7 .5 .1 .5-.2 .5 0 .5 .1 .5 .3 .5-.3 .5-2.1 .4-1.7 .1-.1 .5 1.8 .5 1.8 .5 1.3 .5 .4 .5 0 .5 .4 .5 0 .5 .3 .5-.2 .5 .3 .5-.1 .5 .1 .5 0 .5-.5 .5 .1 .5 .4 .5 .1 .5 .1 .5-.3 .5-.1 .5 .4 .5 .3 .5-.1 .5 .6 .5 .1 .5 .1 .5-.2 .5-.2 .5 .6 .5-.4 .5 .1 .5 .3 .5-.1 .5-.1 .5-.3 .5 .1 .5 .4 .5 .4 .5-.4 .5 .3 .5 .1 .5-.2 .5-.1 .5-.1 .5-.3 .5 .6 .5 .2 .5-.1 .5 .3 .5-.1 .5-.3 .5-.2 .5-1.1 .5-.4 .1-.9 .4 .5 .5 1.5 .5 1.2 .5 .5 .5-.2 .5 0 .5 .7 .5-.1 .5-.5 .5-.2 .5-.3 .5 .7 .5 .5 .5-.9 .5-.2 .5 .3 .5-.2 .5 .7 .5-.4 .5 0 .5 .5 .5 .5 .5-.3 .5-.9 .5 .1 .5 .4 .5-.4 .5 .3 .5 .2 .5 0 .5-1.3 .5-1.8 .1 .6 .4 1.2 .5 .8 .5 .5 .5 .1 .5 .4 .5 .5 .5 .5 .5 0 .5-.6 .5-.2 .5 .2 .5-.9 .5 .3 .5 1.2 .5 .4 .5-.7 .5-.2 .5-.1 .5 .2 .5 .1 .5-.1 .5 .3 .5 .1 .5 .1 .5-.3 .5-.2 .5 .4 .5 .2 .5-.6 .5-.2 .5-1.2 .5-1 .1 0 .4 .5 .5 1.1 .5 1.4 .5 .4 .5-.3 .5 0 .5 .2 .5 .4 .5 .2 .5-.6 .5 .1 .5 .1 .5 .2 .5 0 .5-1.8 .5-15.4 .5-28.3 0 .1 .5 31.6 .5 12.6 .5 .8 .5 .4 .5 .1 .5-.2 .5 .3 .6 .3 .5-.1 .5 .5 .5-.6 .5-.7 .5 .5 .5-.3 .5 .5 .5 .4 .5-2.8 .5-4.6 0-.2 .5 2.9 .5 3.7 .5 .6 .5 .5 .5 0 .5-.2 .5 .2 .5 .3 .5-.9 .5 0 .5 .8 .5 0 .5-.8 .5-.3 .5-.4 .5-.8 .4-.8 .1 .5 .5 .9 .5 1 .5 .5 .5 .3 .5 .1 .5-.4 .5-.7 .5-1.1 .3-.7 .2 .2 .5 .8 .5 .9 .5 .9 .5 .8 .5-.2 .5-.9 .5 .1 .5-.2 .5-.8 .5-1.6 .4-1.1 .1-.1 .5 1.4 .5 1.7 .5 .3 .5 0 .5 .2 .5 .2 .5 .5 .5-.3 .5 .2 .5 .2 .5-.1 .5-.6 .5-.8 .5-1.1 .1-.1 .4 .3 .5 .5 .5 1.5 .5 .9 .5-.2 .5 0 .5 .6 .5-.3 .5-.2 .5-.8 .5 .4 .5 .2 .5 .3 .5 .3 .5-.4 .5-.5 .5-.5 .5 1 .5 .4 .5-.6 .5-.8 .5-9.2 .5-53.9 .2-11.1 .3 27.2 .5 42.7 .5 4.2 .5 1.1 .5 .4 .5-.4 .5 0 .5-.3 .5-.2 .5-.2 .5-.6 .5-.7 .5-1.2 .1-.2 .4 .1 .5 1.4 .5 .7 .5 .5 .5 1.1 .5-.1 .5-5 .5-9.3 .1-.8 .4 4.2 .5 8.3 .5 2 .5 .5 .5 .4 .5-.3 .5-.2 .5 .6 .5 0 .5-.3 .5 0 .5 .3 .5-.2 .5 .3 .5 .3 .5-.1 .5 0 .5-.5 .5 .4 .5 .3 .5 .2 .5-1.3 .5-2.2 .2-1 .3 .2 .5 2.2 .5 1.1 .5 .6 .5-.2 .5 .2 .5 .5 .5 .2 .5 0 .5-.1 .5-.8 .5 .1 .5 .4 .5 .4 .5-.3 .5-.4 .5-.1 .5-.2 .5 .4 .5-.4 .5 .5 .5 .4 .5-.6 .5-2.8 .5-3.6 .1-.3 .4 2.1 .5 4.2 .5 .6 .5-.5 .5 .2 .5 .7 .5-.1 .5-.6 .5-.2 .5 .4 .5 .3 .5 .3 .5-.2 .5 .4 .5 0 .5-.8 .5 .1 .5 .3 .5-1.1 .5-.5 .1 .1 .4-.2 .5 .5 .5 .5 .5 .8 .5 0 .5-.3 .5-.3 .5 1 .5 .2 .5-.3 .5 .1 .5-.8 .5 .2 .5 .3 .5 .8 .5-1.2 .5-.1 .5 .5 .5 .7 .5 .1 .5-.2 .5 0 .5 .5 .5-.6 .5 .2 .5 .3 .5-.8 .5 0 .5 .7 .5-.2 .5-.6 .5 .5 .5 .6 .5-.4 .5 0 .5-.2 .5-.1 .5 .6 .5-.1 .5-.5 .5-1 .5-1 .5-.9 .5-.6 .1-.3 .4 .3 .5 1.3 .5 .5 .5 .7 .5 .6 .5 .1 .5-.1 .5 .3 .5 .6 .5-.3 .5 .1 .5 .4 .5-.4 .5 .4 .5-.2 .5-.5 .5 .1 .5 .3 .5 .6 .5-.1 .5-.6 .5-.7 .5-.3 .5-.8 .5-7.9 .3-5.6 .2 1.4 .5 6.5 .5 3.1 .5 3.5 .5 .9 .5 .2 .5 .4 .5 .2 .5 .3 .5-.2 .5-.8 .5-.3 .5 .8 .5 .2 .5-.3 .5 .4 .5-.3 .5-.1 .5-.1 .5-.6 .5-.1 .5 .3 .5 0 .5 .4 .5-.2 .5-.7 .5 .5 .5 .4 .5-.7 .5 .3 .5-.2 .5 0 .5 1.1 .5 .2 .5-.6 .5 0 .5 .7 .5 0 .5-.4 .5 .1 .5-.2 .5-.2 .5 .1 .5-.2 .5-.2 .5-2.4 .5-9.6 .2-1.9 .3 4.3 .5 3.8 .5 2.6 .5 2.6 .5 .8 .5-.2 .5-.1 .5 .4 .5 .5 .5 0 .5 0 .5-.3 .5-3.5 .3-2.4 .2 .9 .5 2.3 .5 .8 .5 1.6 .5 .1 .5-.3 .5 .4 .5 .1 .5 .1 .5-.2 .5-.3 .5 0 .5 .8 .5 .3 .5-.2 .5 0 .5 .5 .5-.2 .5-.3 .5 .1 .5-.1 .5 .1 .5 0 .5-.1 .5-.2 .5-.1 .5 .4 .5 .1 .5-.7 .5-.2 .5 .1 .5 .3 .5-.4 .5-2.6 .5-6.8 .1 0 .4 3.2 .5 1.8 .5 2.3 .5 1.8 .5 .5 .5 .5 .5 .1 .5 .5 .5 .3 .5-.9 .5-.4 .5-.4 .5 .2 .5 .7 .5 .1 .5 0 .5-.1 .5-.6 .5-.1 .5 .8 .5 .2 .5 0 .5-.2 .5 0 .5-.3 .5 .1 .5 0 .5 .3 .5 .4 .5-.6 .5-1 .5 .6 .5 .4 .5 .3 .5-.3 .5-.4 .5 0 .5 .1 .5 .2 .5 .6 .5-.1 .5-.2 .5 .4 .5 .2 .5-.7 .5-.2 .5-.2 .5-.3 .5 0 .5 .1 .5 .2 .5-.9 .5-4.2 .4-2.8 .1 .5 .5 2.7 .5 1.3 .5 2.4 .5 1.4 .5 .5 .5 .3 .5-.3 .5-.6 .5-.2 .5 0 .5 .2 .5-.2 .5-.2 .5-.1 .5 .2 .5 1.2 .5-.4 .5-1 .5 .5 .5-.3 .5-.4 .5 .5 .5 .4 .5 .3 .5 0 .5-.5 .5 .1 .5 .3 .5 .1 .5-.1 .5 0 .5 .1 .5-.8 .5 0 .5 1 .5 0 .5-.1 .5-.3 .5-.3 .5 0 .5 .1 .5-.1 .5 .1 .5 .1 .5 .4 .5 .2 .5 0 .5-.7 .5 .1 .5 .4 .5-.4 .5-.8 .5 .6 .5 .2 .5-.2 .5-.1 .5 .1 .5 .6 .5 0 .5-.1 .5 .2 .5-.2 .5-.7 .5-.4 .5 .1 .5 .3 .5-.6 .5-5.7 .5-15.5 .1-.7 .4 10.9 .5 3.1 .5 1.7 .5 4.9 .5 1.3 .5 .7 .5 .6 .5-.3 .5-.5 .5 .2 .5 .2 .5 .3 .5 .5 .5 .5 .5-.3 .5-.4 .5-.4 .5-.2 .5 .5 .5 .3 .5-.2 .5-.2 .5 0 .5-.2 .5-.1 .5 0 .5 .1 .5 .1 .5 .3 .5-.2 .5-.1 .5 .4 .5 0 .5-.1 .5-.3 .5 .3 .5-.3 .5-.4 .5 0 .5-.2 .5 0 .5 .4 .5 .3 .5-.5 .5 .3 .5 .2 .5 .4 .5-.2 .5 0 .5 .1 .5-.7 .5-.2 .5-.2 .5 .2 .5 .4 .5 .1 .6 0 .5-.2 .5-.2 .5 .1 .5-.2 .5-.2 .5-.1 .5 .5 .5 .2 .5-.4 .5-.2 .5-.4 .5 .3 .5 .3 .5-.1 .5 .2 .5-.7 .5-2.6 .4-2.8 .1-.2 .5 2.7 .5 1.3 .5 .2 .5 1.3 .5 .5 .5 .4 .5 .5 .5-.3 .5-.3 .5 .4 .5-.1 .5-.1 .5-.1 .5-.7 .5 1 .5 .7 .5-.7 .5-.5 .5 1 .5 .5 .5-.7 .5-.7 .5 0 .5 .2 .5 .3 .5 .3 .5-.4 .5-.8 .5 .4 .5 .5 .5 .4 .5-.7 .5-.4 .5 .3 .5 .1 .5-.3 .5 .6 .5 0 .5 .2 .5 .1 .5 0 .5 .3 .5 0 .5-.7 .5 0 .5 .3 .5-.2 .5-.3 .5 0 .5-.2 .5-.3 .5-.6 .5 1.1 .5 .9 .5-.2 .5-.2 .5-.3 .5-.2 .5 .3 .5-.1 .5 0 .5 0 .5-.2 .5 .2 .5 .3 .5 .1 .5-.2 .5 .1 .5-.4 .5-.9 .5 0 .5 .5 .5 .1 .5 .2 .5-.3 .5 0 .5 0 .5-.2 .5-.1 .5-.7 .5-6 .4-8.4 .1 .3 .5 8.9 .5 1.4 .5-1.7 .5 3.8 .5 2.2 .5 .5 .5 .6 .5 .9 .5-.4 .5-.4 .5 0 .5 .2 .5 .3 .5-.2 .5-.4 .5 .5 .5-.6 .5-.1 .5-.4 .5-.4 .5 .3 .5 1.3 .5 0 .5-1 .5 0 .5 .6 .5-.4 .5 .4 .5 .6 .5-.2 .5 0 .5-.6 .5-.7 .5 0 .5 0 .5 .4 .5-.2 .5 .3 .5-.1 .5 0 .5 .3 .5-.3 .5 0 .5 .5 .5-.3 .5-.3 .5 .4 .5-.4 .5 .3 .5 .2 .5-.3 .5-.2 .5 .1 .5-.1 .5 0 .5 .4 .5-.3 .5 0 .5 .5 .5-.7 .5-.5 .5 0 .5-.3 .5-.3 .3 .2 .2-.4 .5 .8 .5 .7 .5 .4 .5-.3 .5-.1 .5 .1 .5 .3 .5 .4 .5-.1 .5-.8 .5 .6 .5 0 .5-.3 .5-.3 .5 .1 .5-.2 .5 .6 .5-.3 .5 0 .5 .2 .5 0 .5-.3 .5 .5 .5 .2 .5 .2 .5-.4 .5-.5 .5-.5 .5 .6 .5 .7 .5-.6 .5-.2 .5 .3 .5 0 .5-.3 .5 .8 .5 0 .5-.2 .5 0 .5 .3 .5-.5 .5 .1 .5-.2 .5-.5 .5 .4 .5 .3 .5-.3 .5-.1 .5 0 .5-.3 .5-.1 .5 .3 .5 0 .5 .4 .5 .2 .5 .1 .5-.4 .5-1.8 .5-4.6 .1-.9 .4 2.6 .5 3.1 .5-.8 .5-.6 .5 1 .5-3.5 .4-4.3 .1 .2 .5 5.8 .5 2 .5-2.2 .5 .8 .5 1.8 .5 .1 .5 .2 .5 .4 .5-.1 .5 .4 .5-.2 .5 .4 .5 .7 .5-.5 .5 .1 .5 .3 .5-.3 .5-.1 .5-.3 .5 .1 .5 .2 .5-.1 .5-.2 .5 .3 .5 .3 .5 0 .5-.3 .5-.4" fill="none" stroke="#808080" stroke-width="1.6" stroke-linejoin="round"/>
<path d="M563.5 1505.2l.5-.1 .5-1.1 .5-.6 .5 1.1 .5 .9 .5-.2 .5-.6 .5 .5 .5-.3 .5 .3 .5-.1 .5 .4 .5-.1 .5-.3 .5 .2 .5-.5 .5-.1 .5 0 .5 .1 .5 .8 .5 .2 .5-.6 .5-.4 .5 .5 .5 .2 .5 .1 .5-.3 .5 .1 .5 .4 .5-.6 .5-.4 .5-.5 .5 .5 .5 .2 .5 .2 .5 .3 .5-.2 .5 .1 .5-.2 .5-.4 .5-.3 .5 .9 .5 .3 .5-.7 .5-.3 .5-.3 .5 .4 .5 .1 .5 .6 .5 .1 .5 0 .5-.7 .5-.4 .5 .5 .5 .4 .5 .9 .5-.2 .5 .1 .5-.4 .5-.8 .5-.6 .5 .6 .5 .5 .5-.2 .5 0 .5-.3 .5-.6 .5 .3 .5-.3 .5 .3 .5 .2 .5-1.2 .5 .3 .5 .6 .5 .1 .5-.6 .5-.5 .5 .5 .5-.3 .5-1.1 .5 .1 .5-.8 .5-.7 .5 .6 .5-.1 .5-.1 .5 1.1 .5-1 .5 0 .5 .2 .5-.3 .5-1.5 .5-1 .5-2 .5-1.3 .5-1.5 .5-1.4 .5-.2 .5 .5 .5 0 .5-.5 .5-.1 .5 1.4 .5 2.2 .5 1.7 .5 1.3 .5 .8 .5 .8 .5 1.4 .5 .9 .5 .9 .5-.2 .5 .8 .5 .9 .5 .5 .5-.3 .5-1.4 .5-.4 .5 .5 .5-.6 .5-.4 .5 1.4 .5 .1 .5-.3 .5-.5 .5-.2 .5-.8 .5-.3 .5-.1 .5-1.4 .5-.4 .5-.5 .5 .9 .5-.4 .5-.6 .5 .2 .5 1.6 .5 1.7 .5-.2 .5-.8 .5 .7 .5 2.3 .5-.7 .5-.4 .5 1.1 .5 .9 .5 .5 .5-.7 .5-.2 .5 .5 .5-.2 .5 .4 .5 .3 .5 .2 .5-.7 .5 0 .5 .5 .5 0 .5-.8 .5 .2 .5 .6 .5 .4 .5 1 .5-.2 .5-.2 .5-.5 .5-.2 .5 .3 .5 .2 .5-.2 .5 .4 .5-.5 .5 .4 .5-.2 .5-.1 .5 .8 .5-.1 .5-.8 .5-.2 .5 .4 .5-.3 .5 .2 .5-.3 .5 .1 .5-.2 .5 .5 .5 1.1 .5 0 .5-1 .5-.5 .5-.4 .5 1 .5 .4 .5-.9 .5-.1 .5 .5 .5-.1 .5 .5 .5 .6 .5-.2 .5 .1 .5 .4 .5-.5 .5-.2 .5-.3 .5-.1 .5 .5 .5-.8 .5 0 .5-.3 .5-.1 .5 0 .5 .6 .5 .7 .5 .1 .5-1.1 .5 .4 .5 0 .5-.1 .5 .3 .5 .2 .5-.1 .5 .4 .5 .8 .5-.6 .5-.5 .5-.3 .5 .7 .5-.4 .5-.2 .5-.1 .5 .1 .5-.3 .5-.1" fill="none" stroke="#808080" stroke-width="1.5" stroke-linejoin="round"/>
<path d="M563.5 1462.4l.5 .4 .5 .5 .5 .6 .5 .6 .5-.1 .5-1.3 .5-.2 .5 .5 .5-.2 .5 .7 .5 0 .5-.7 .5 .6 .5 .5 .5-.5 .5-.5 .5 .1 .5 .2 .5-.4 .5 .3 .5-.2 .5-.4 .5 .1 .5 .5 .5-.3 .5 0 .5-.5 .5 .5 .5 .5 .5 .3 .5 .3 .5-.1 .5-.2 .5-.5 .5-.6 .5-.1 .5 .4 .5 .7 .5 .5 .5-.3 .5 0 .5 0 .5-.3 .5 0 .5 0 .5 0 .5-.3 .5-.5 .5 .2 .5 .3 .5 1.2 .5-.1 .5-1.2 .5-.4 .5 .1 .5-.2 .5 .8 .5-.3 .5-.3 .5 .7 .5 0 .5-.5 .5-.3 .5-1.2 .5-.2 .5-.2 .5-.2 .5 1.1 .5 .4 .5-1.7 .5-.3 .5 .5 .5-.7 .5-.5 .5-.4 .5-.1 .5-.5 .5 .3 .5-.2 .5-.6 .5-.9 .5-.1 .5-.1 .5-1 .5-.9 .5-.8 .5 .1 .5 0 .5-.7 .5-2.2 .5-1.6 .5-.8 .5-2.4 .5-3.8 .5-3.4 .5-3.5 .5-2 .5-1.6 .5-1.8 .5-1 .5 1.3 .5 2.1 .5 3.3 .5 3.3 .5 4.1 .5 3.7 .5 2.6 .5 2.3 .5 2.2 .5 1.6 .5 .8 .5 .8 .5 1 .5 1.1 .5 .1 .5 .1 .5-.3 .5-.4 .5 .6 .5 .4 .5-.5 .5-.4 .5-.2 .5 0 .5-.6 .5-1.1 .5-1.2 .5-.2 .5 .8 .5-1.9 .5-.9 .5-.6 .5-.6 .5 1.1 .5 .2 .5 .3 .5 1.4 .5 .8 .5 .9 .5 .5 .5 1.4 .5 1.2 .5 .2 .5 0 .5 1 .5 .9 .5-.5 .5 .3 .5 1.3 .5 .2 .5-.1 .5 .1 .5 .5 .5 .5 .5-.4 .5-.7 .5 .5 .5-.1 .5 1 .5-.3 .5 .2 .5-.1 .5-.1 .5 .6 .5 .2 .5 .5 .5-.4 .5 0 .5 .9 .5-.4 .5-1 .5-.2 .5 1.2 .5 .1 .5-.3 .5-.8 .5-.5 .5 .2 .5 .8 .5-.2 .5-.2 .5-.8 .5 .9 .5-.7 .5-1 .5 .7 .5 1.3 .5 .1 .5-1.7 .5 .2 .5 .7 .5-.4 .5 .2 .5 .1 .5 .2 .5-.4 .5 .3 .5 .1 .5 .4 .5 .2 .5 .4 .5 .1 .5 .1 .5-1.2 .5 .3 .5 .7 .5-.6 .5-1 .5 .9 .5 .6 .5 .9 .5-.6 .5-.3 .5-.4 .5 0 .5-1.2 .5 .4 .5 .5 .5-.1 .5 1 .5 .2 .5 .2 .5-1.2 .5 .1 .5 .6 .5-.1 .5 .5 .5-.1 .5-.6 .5 .3 .5 .4 .5-.2 .5-.3 .5-.1" fill="none" stroke="#ff0000" stroke-width="1.5" stroke-linejoin="round"/>
<path d="M563.5 1415.3l.5 .8 .5 .2 .5-1.5 .5-.3 .5 .8 .5 .6 .5-.3 .5 1.2 .5-.2 .5-1.9 .5 .8 .5 .3 .5-.8 .5-.5 .5 .8 .5 .3 .5 .6 .5-.3 .5-.4 .5 1.2 .5 .4 .5-.4 .5-.6 .5 .1 .5-.4 .5-.7 .5-.4 .5 .5 .5-.3 .5 .6 .5-.3 .5 .4 .5-.1 .5-.5 .5 0 .5 .6 .5 1 .5-.4 .5-.3 .5 .1 .5-.9 .5-.4 .5 .6 .5 .9 .5-.3 .5-.1 .5 0 .5 0 .5 .7 .5-.3 .5-1 .5-.2 .5 .3 .5-.2 .5 .4 .5 .3 .5-.2 .5-.3 .5-.5 .5-.4 .5 .1 .5 .6 .5-.6 .5-.1 .5 0 .5-.2 .5-.8 .5-.4 .5 .9 .5-1 .5-.2 .5-.6 .5-.1 .5-.4 .5 .5 .5-.9 .5-1.1 .5 .4 .5-1.5 .5 .1 .5 .3 .5-.7 .5 0 .5-.9 .5-.7 .5 .2 .5-1 .5-.9 .5-.4 .5-1.7 .5-2.1 .5-1.1 .5-.6 .5-3.1 .5-5.1 .5-3.1 .5-3.7 .5-4.4 .5-3.4 .5-2.9 .5-.6 .5 1.5 .5 2 .5 3.3 .5 3.9 .5 3.8 .5 4.3 .5 4.2 .5 3.5 .5 2.9 .5 2.8 .5 .4 .5 1 .5 1.4 .5 1 .5-.2 .5 .6 .5-.2 .5 0 .5 .4 .5 .1 .5-.8 .5-1.4 .5 0 .5-.6 .5-1.3 .5-1 .5-.9 .5-.5 .5 .4 .5 .5 .5-.2 .5 .9 .5 1.1 .5 .6 .5 2.2 .5 1.3 .5 1.2 .5 .2 .5 .4 .5 1.2 .5 .8 .5 .3 .5 1.1 .5 .1 .5-.2 .5 .7 .5 .2 .5 .1 .5-.1 .5-.2 .5 .1 .5 .7 .5 .4 .5 .1 .5-.3 .5 .6 .5 .1 .5-.7 .5 .8 .5 .8 .5-1 .5-.3 .5 .1 .5 .1 .5 .5 .5-.2 .5-.3 .5-.1 .5 .5 .5-.1 .5-.3 .5 .4 .5 .7 .5-.4 .5 .1 .5 .3 .5-.3 .5 0 .5-.6 .5 .1 .5-.8 .5 .7 .5 0 .5 .1 .5 .8 .5 .2 .5 .2 .5 .2 .5-.4 .5-.3 .5 .1 .5 .7 .5-.4 .5-1.1 .5-.3 .5 .1 .5 .4 .5 .9 .5 0 .5-.1 .5-.8 .5 0 .5 .5 .5-1.1 .5-.3 .5-.1 .5 1.2 .5 1.3 .5-.8 .5 .5 .5 .2 .5-1.1 .5-.2 .5 .6 .5 0 .5-1 .5 .5 .5 1 .5-.6 .5 .3 .5 .3 .5-.5 .5-.2 .5-.2 .5-.1 .5-.2 .5-.3 .5 .5 .5 .5 .5 .4 .5-.5 .5 .2 .5 .9" fill="none" stroke="#0b6fff" stroke-width="1.5" stroke-linejoin="round"/>
<path d="M563.5 1372.5l.5-.1 .5-.1 .5 .1 .5-.3 .5 0 .5-.2 .5-.1 .5 .2 .5 .2 .5 1 .5-.5 .5 .8 .5-.1 .5 .2 .5-.2 .5-.9 .5 1 .5-.2 .5-.7 .5-.1 .5 .2 .5-.2 .5 1.1 .5-.3 .5 .1 .5-.3 .5-.3 .5-.2 .5 .2 .5 .8 .5-.2 .5 .1 .5 .1 .5 .1 .5 0 .5 .1 .5-.9 .5-.3 .5 .4 .5 .1 .5 .3 .5 .7 .5 0 .5-.5 .5-.5 .5 .4 .5 .1 .5 .1 .5-.3 .5-.3 .5 .1 .5-.4 .5-.1 .5 .5 .5 .2 .5 .3 .5-.5 .5-.4 .5 1 .5 .1 .5-1.4 .5 0 .5 .7 .5-.5 .5-.7 .5 .8 .5-.2 .5 0 .5 0 .5-.9 .5-.3 .5 .6 .5 0 .5-.3 .5 .1 .5-.3 .5-.3 .5-1 .5 0 .5 .3 .5-1 .5-.3 .5 .2 .5-.4 .5-.8 .5-.3 .5 .9 .5-.4 .5-.5 .5-1.6 .5-.9 .5-1.2 .5-1.7 .5-2.1 .5-1.1 .5-2.2 .5-2.1 .5-1.6 .5-.4 .5-.7 .5 1.5 .5 .8 .5 1.5 .5 2.3 .5 2.8 .5 1.2 .5 1.4 .5 1.7 .5 2 .5 1 .5 .2 .5 1.1 .5 .9 .5-.2 .5-.4 .5-.4 .5 .8 .5-.7 .5-1.5 .5-.9 .5-1 .5 .1 .5-1.3 .5-.7 .5-.9 .5-2.3 .5-1.1 .5-1.9 .5-1.6 .5-.1 .5-.8 .5-.6 .5 .8 .5 .5 .5 1.2 .5 2 .5 2 .5 .7 .5 1.8 .5 2.2 .5 .8 .5 1.4 .5 .9 .5 .4 .5 .9 .5 1 .5 .7 .5 .7 .5 .3 .5 .5 .5-.2 .5 0 .5 .6 .5 .3 .5 .1 .5-.3 .5 0 .5-.2 .5-.2 .5 .6 .5-.2 .5-.1 .5 .7 .5 .8 .5-.6 .5 .1 .5-1.1 .5 .7 .5 1.2 .5-.4 .5-.4 .5-.6 .5-.4 .5 1.1 .5 .7 .5 .3 .5 .1 .5-.7 .5-.5 .5-.9 .5 .6 .5 .7 .5 .8 .5 .5 .5-.2 .5-.7 .5-.5 .5 0 .5 0 .5 .3 .5 .4 .5-.8 .5-.9 .5 .8 .5 1.9 .5-.4 .5-1.2 .5 0 .5 .5 .5 0 .5-.4 .5-1.1 .5 .2 .5 1 .5 .5 .5 .1 .5 .4 .5-.6 .5-.1 .5 .1 .5 .2 .5-.2 .5 .6 .5-.8 .5 .4 .5 .4 .5 0 .5-1.2 .5-.2 .5 .6 .5 .6 .5-.3 .5-1.3 .5 .6 .5 .7 .5 .2 .5 0 .5-.2 .5-.3 .5-.5 .5 .5 .5-.8 .5 .5 .5 .2" fill="none" stroke="#179a17" stroke-width="1.5" stroke-linejoin="round"/>
<rect x="3.3" y="1113.6" width="519.8" height="419.0" fill="none" stroke="#262626" stroke-width="1.7"/>
<rect x="562.5" y="1112.6" width="119.3" height="419.3" fill="none" stroke="#262626" stroke-width="1.7"/>
<path d="M43.3 1532.6v-8M83.3 1532.6v-4.0M123.3 1532.6v-8M163.2 1532.6v-4.0M203.2 1532.6v-8M243.2 1532.6v-4.0M283.2 1532.6v-8M323.2 1532.6v-4.0M363.2 1532.6v-8M403.1 1532.6v-4.0M443.1 1532.6v-8M483.1 1532.6v-4.0" stroke="#262626" stroke-width="1.7"/>
<text x="43.3" y="1557.0" font-size="19.5" font-weight="bold" text-anchor="middle" fill="#000">10</text>
<text x="123.3" y="1557.0" font-size="19.5" font-weight="bold" text-anchor="middle" fill="#000">20</text>
<text x="203.2" y="1557.0" font-size="19.5" font-weight="bold" text-anchor="middle" fill="#000">30</text>
<text x="283.2" y="1557.0" font-size="19.5" font-weight="bold" text-anchor="middle" fill="#000">40</text>
<text x="363.2" y="1557.0" font-size="19.5" font-weight="bold" text-anchor="middle" fill="#000">50</text>
<text x="443.1" y="1557.0" font-size="19.5" font-weight="bold" text-anchor="middle" fill="#000">60</text>
<text x="523.1" y="1557.0" font-size="19.5" font-weight="bold" text-anchor="middle" fill="#000">70</text>
<path d="M572.2 1531.9v-4.0M588.8 1531.9v-8M605.4 1531.9v-4.0M622.0 1531.9v-8M638.7 1531.9v-4.0M655.3 1531.9v-8M671.9 1531.9v-4.0" stroke="#262626" stroke-width="1.7"/>
<text x="588.8" y="1557.8" font-size="22.5" font-weight="bold" text-anchor="middle" fill="#000">8.5</text>
<text x="622.0" y="1557.8" font-size="22.5" font-weight="bold" text-anchor="middle" fill="#000">9.0</text>
<text x="655.3" y="1557.8" font-size="22.5" font-weight="bold" text-anchor="middle" fill="#000">9.5</text>
<text x="263.2" y="1597.8" font-size="28" font-weight="bold" text-anchor="middle" fill="#000">2Theta (°)</text>
<text x="622.1" y="1598.0" font-size="28" font-weight="bold" text-anchor="middle" fill="#000">2Theta (°)</text>
<text x="342.5" y="1645.0" font-size="31" font-weight="normal" text-anchor="middle" fill="#000">(c)</text>
<text x="16.1" y="1135.9" font-size="21.5" font-weight="bold" text-anchor="start" fill="#000">(c) 28 d</text>
<text x="487.4" y="1488.5" font-size="15.8" font-weight="bold" text-anchor="start" fill="#808080">OPC</text>
<text x="441.8" y="1440.9" font-size="15.8" font-weight="bold" text-anchor="start" fill="#ff0000">G40S50D10</text>
<text x="441.8" y="1395.4" font-size="15.8" font-weight="bold" text-anchor="start" fill="#0b6fff">G60S30D10</text>
<text x="441.0" y="1344.6" font-size="15.8" font-weight="bold" text-anchor="start" fill="#179a17">G48S33D17</text>
<g fill="#000"><path d="M34.7 1340.5C33.4 1338.2 30.6 1336.4 30.6 1334.6C30.6 1332.3 34.0 1332.1 34.7 1334.4C35.4 1332.1 38.8 1332.3 38.8 1334.6C38.8 1336.4 36.1 1338.2 34.7 1340.5Z"/><path d="M39.2 1340.7L40.4 1344.2L44.1 1344.3L41.2 1346.5L42.3 1350.1L39.2 1348.0L36.1 1350.1L37.2 1346.5L34.3 1344.3L38.0 1344.2Z"/><circle cx="65.0" cy="1345.8" r="1.90"/><circle cx="62.4" cy="1349.0" r="1.99"/><circle cx="67.6" cy="1349.0" r="1.99"/><path d="M64.4 1347.5L63.7 1352.0L66.3 1352.0L65.6 1347.5Z"/><path d="M89.3 1349.5L90.5 1353.0L94.2 1353.1L91.3 1355.3L92.4 1358.9L89.3 1356.8L86.2 1358.9L87.3 1355.3L84.4 1353.1L88.1 1353.0Z"/><path d="M105.9 1358.8C104.6 1356.6 101.8 1354.8 101.8 1353.0C101.8 1350.7 105.2 1350.5 105.9 1352.8C106.6 1350.5 110.0 1350.7 110.0 1353.0C110.0 1354.8 107.2 1356.6 105.9 1358.8Z"/><path d="M122.6 1359.6C121.2 1357.4 118.5 1355.6 118.5 1353.8C118.5 1351.5 121.9 1351.3 122.6 1353.6C123.3 1351.3 126.7 1351.5 126.7 1353.8C126.7 1355.6 123.9 1357.4 122.6 1359.6Z"/><path d="M129.4 1307.0L133.1 1311.3L129.4 1315.6L125.7 1311.3Z"/><path d="M139.6 1350.6L144.2 1358.6L135.0 1358.6Z"/><path d="M176.1 1117.9L179.8 1122.2L176.1 1126.5L172.4 1122.2Z"/><path d="M187.5 1338.2C186.0 1340.6 182.9 1342.2 182.9 1344.4C182.9 1346.4 185.9 1346.6 186.9 1345.0L185.7 1347.6L189.3 1347.6L188.1 1345.0C189.1 1346.6 192.1 1346.4 192.1 1344.4C192.1 1342.2 189.0 1340.6 187.5 1338.2Z"/><path d="M198.9 1351.0C197.4 1353.4 194.3 1355.0 194.3 1357.2C194.3 1359.2 197.3 1359.4 198.3 1357.8L197.1 1360.4L200.7 1360.4L199.5 1357.8C200.5 1359.4 203.5 1359.2 203.5 1357.2C203.5 1355.0 200.4 1353.4 198.9 1351.0Z"/><path d="M211.4 1352.0L216.0 1360.0L206.8 1360.0Z"/><circle cx="243.8" cy="1359.3" r="3.8"/><path d="M257.0 1342.8L260.7 1347.1L257.0 1351.4L253.3 1347.1Z"/><path d="M280.0 1348.3L283.7 1352.6L280.0 1356.9L276.3 1352.6Z"/><path d="M285.5 1354.4L289.2 1358.7L285.5 1363.0L281.8 1358.7Z"/><path d="M304.0 1350.4L307.7 1354.7L304.0 1359.0L300.3 1354.7Z"/><path d="M330.2 1355.9L333.9 1360.2L330.2 1364.5L326.5 1360.2Z"/><path d="M364.4 1335.1L368.1 1339.4L364.4 1343.7L360.7 1339.4Z"/><path d="M402.6 1355.0L406.3 1359.3L402.6 1363.6L398.9 1359.3Z"/><path d="M443.0 1347.7L446.7 1352.0L443.0 1356.3L439.3 1352.0Z"/><path d="M504.2 1352.8L507.9 1357.1L504.2 1361.4L500.5 1357.1Z"/><path d="M511.8 1352.8L515.5 1357.1L511.8 1361.4L508.1 1357.1Z"/><path d="M628.4 1345.4L629.6 1348.9L633.3 1349.0L630.4 1351.2L631.5 1354.8L628.4 1352.7L625.3 1354.8L626.4 1351.2L623.5 1349.0L627.2 1348.9Z"/></g>
<g fill="#000"><path d="M232.2 1134.2L235.7 1138.3L232.2 1142.4L228.7 1138.3Z"/><text x="237.9" y="1142.5" font-size="15.75">: SiO<tspan font-size="10.5" dy="3.5">2</tspan></text><path d="M324.3 1142.6C322.9 1140.2 319.9 1138.3 319.9 1136.4C319.9 1133.9 323.5 1133.7 324.3 1136.2C325.1 1133.7 328.7 1133.9 328.7 1136.4C328.7 1138.3 325.7 1140.2 324.3 1142.6Z"/><text x="329.8" y="1142.5" font-size="15.75">: Muscovite</text><circle cx="232.2" cy="1163.2" r="1.90"/><circle cx="229.6" cy="1166.3" r="1.99"/><circle cx="234.8" cy="1166.3" r="1.99"/><path d="M231.6 1164.9L230.9 1169.4L233.5 1169.4L232.8 1164.9Z"/><text x="237.9" y="1169.6" font-size="15.75">: Kaolinite</text><path d="M324.3 1161.0C322.9 1163.3 319.9 1164.8 319.9 1166.9C319.9 1168.8 322.8 1169.0 323.7 1167.5L322.6 1170.0L326.0 1170.0L324.9 1167.5C325.8 1169.0 328.7 1168.8 328.7 1166.9C328.7 1164.8 325.7 1163.3 324.3 1161.0Z"/><text x="329.8" y="1169.6" font-size="15.75">: Calcium silicate hydrates</text><path d="M232.2 1188.0L233.4 1191.4L236.9 1191.4L234.1 1193.6L235.1 1197.0L232.2 1195.0L229.3 1197.0L230.3 1193.6L227.5 1191.4L231.0 1191.4Z"/><text x="237.9" y="1196.7" font-size="15.75">: Ettringite</text><path d="M324.3 1188.3L328.7 1195.9L319.9 1195.9Z"/><text x="329.8" y="1196.7" font-size="15.75">: Calcium aluminate hydrates</text><circle cx="230.5" cy="1219.6" r="3.6"/><text x="236.0" y="1223.8" font-size="15.75">: Calcium aluminate silicate hydrates</text></g>
</svg>
</body></html>
